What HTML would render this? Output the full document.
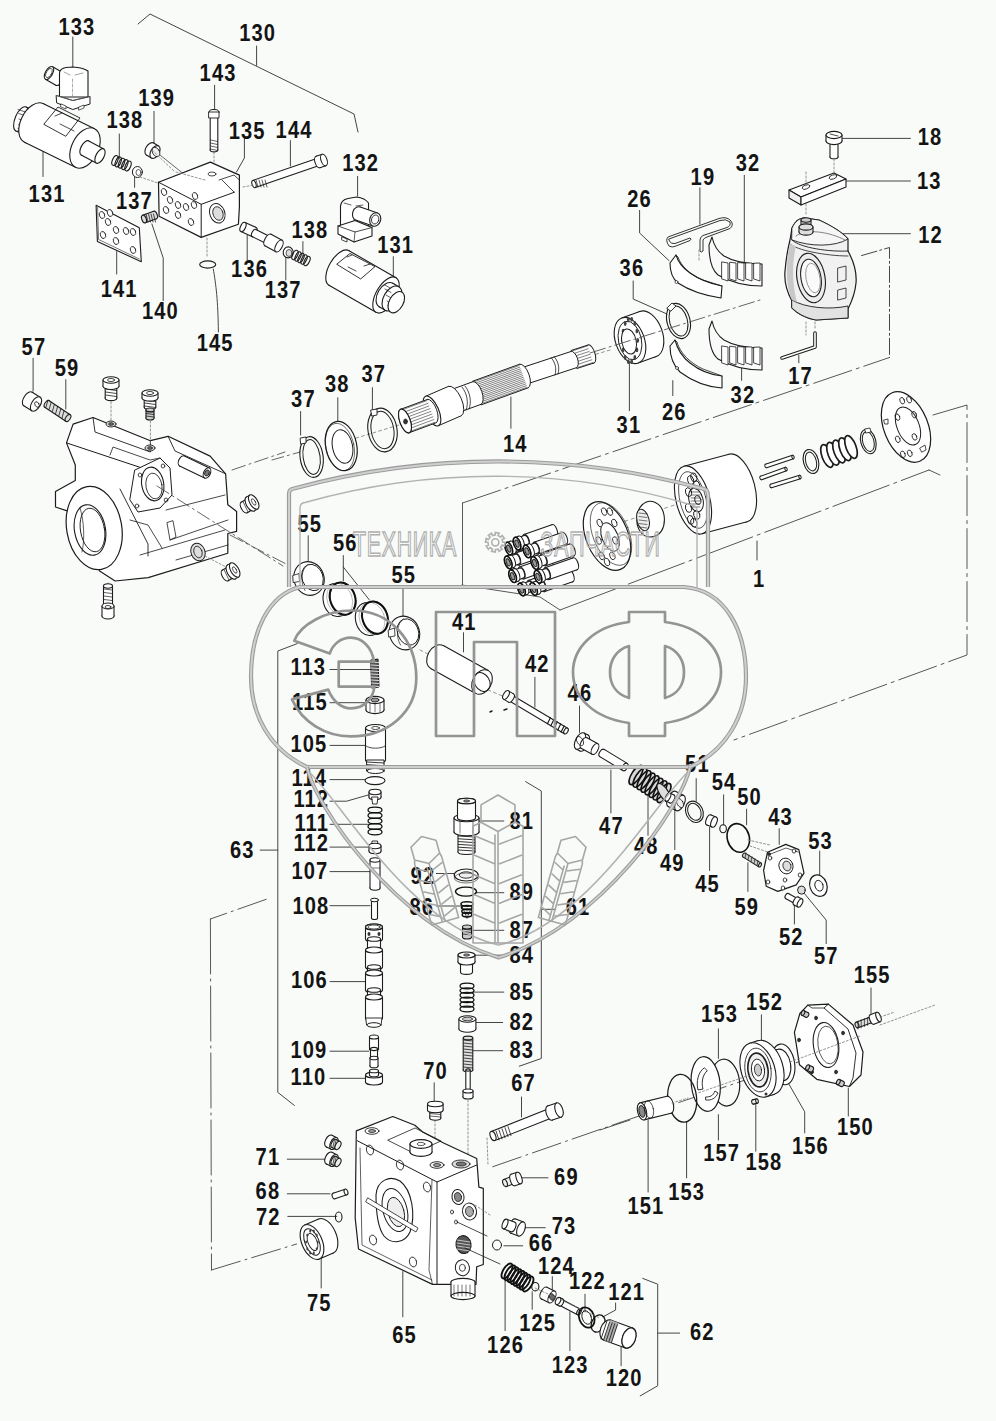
<!DOCTYPE html><html><head><meta charset="utf-8"><title>Parts diagram</title><style>html,body{margin:0;padding:0;background:#f9fbf9;}svg{display:block;}</style></head><body><svg width="996" height="1421" viewBox="0 0 996 1421"><rect width="996" height="1421" fill="#f9fbf9"/><g stroke-linecap="round"><polyline points="138,24 150,14 354,114 358,132" fill="none" stroke="#454545" stroke-width="1.0" stroke-linejoin="round"/><line x1="256.6" y1="46" x2="256.6" y2="65.5" stroke="#454545" stroke-width="1.0"/><line x1="72.8" y1="37" x2="72.8" y2="67" stroke="#454545" stroke-width="1.0"/><ellipse cx="59.5" cy="79" rx="3.6" ry="7.2" fill="#fff" stroke="#1c1c1c" stroke-width="1.1" transform="rotate(-150.3 59.5 79)"/><polygon points="63.1,72.7 52.6,66.7 45.4,79.3 55.9,85.3" fill="#fff" stroke="none" stroke-width="0" stroke-linejoin="round"/><line x1="63.1" y1="72.7" x2="52.6" y2="66.7" stroke="#1c1c1c" stroke-width="1.1"/><line x1="55.9" y1="85.3" x2="45.4" y2="79.3" stroke="#1c1c1c" stroke-width="1.1"/><ellipse cx="49" cy="73" rx="3.6" ry="7.2" fill="#fff" stroke="#1c1c1c" stroke-width="1.1" transform="rotate(-150.3 49 73)"/><ellipse cx="49" cy="73" rx="2.6" ry="5" fill="none" stroke="#1c1c1c" stroke-width="0.7" transform="rotate(28 49 73)"/><path d="M59.5,97 L59.5,73 Q60,68.5 66,67.5 L72.8,67 Q83,67.5 88,71 L88,97 Z" fill="#fff" stroke="#1c1c1c" stroke-width="1.1" stroke-linejoin="round" stroke-linecap="round"/><line x1="64" y1="72" x2="70" y2="75" stroke="#777" stroke-width="0.7"/><line x1="75" y1="75" x2="83" y2="73" stroke="#777" stroke-width="0.7"/><line x1="72.5" y1="79" x2="72.5" y2="96" stroke="#888" stroke-width="0.7" stroke-dasharray="3,2"/><polygon points="56.5,95.5 72.8,100.5 90,96.5 90,104 72.8,109.5 57,103" fill="#fff" stroke="#1c1c1c" stroke-width="1.0" stroke-linejoin="round"/><polyline points="56.5,95.5 72.8,100.5 90,96.5" fill="none" stroke="#666" stroke-width="0.7" stroke-linejoin="round"/><polygon points="61,104 66,106 66,109 61,107" fill="#fff" stroke="#1c1c1c" stroke-width="0.7" stroke-linejoin="round"/><polygon points="79,107 84,105 84,108 79,110" fill="#fff" stroke="#1c1c1c" stroke-width="0.7" stroke-linejoin="round"/><line x1="43" y1="148.5" x2="43" y2="176.5" stroke="#454545" stroke-width="1.0"/><ellipse cx="33" cy="124" rx="5.9" ry="13" fill="#fff" stroke="#1c1c1c" stroke-width="1.1" transform="rotate(22.6 33 124)"/><polygon points="16,131 28,136 38,112 26,107" fill="#fff" stroke="none" stroke-width="0" stroke-linejoin="round"/><line x1="16" y1="131" x2="28" y2="136" stroke="#1c1c1c" stroke-width="1.1"/><line x1="26" y1="107" x2="38" y2="112" stroke="#1c1c1c" stroke-width="1.1"/><ellipse cx="21" cy="119" rx="5.9" ry="13" fill="#fff" stroke="#1c1c1c" stroke-width="1.1" transform="rotate(22.6 21 119)"/><line x1="18" y1="109.5" x2="27" y2="112.5" stroke="#1c1c1c" stroke-width="0.7"/><line x1="18.7" y1="113.5" x2="27.7" y2="116.5" stroke="#1c1c1c" stroke-width="0.7"/><line x1="19" y1="119" x2="28" y2="122" stroke="#1c1c1c" stroke-width="0.7"/><line x1="18.7" y1="124.5" x2="27.7" y2="127.5" stroke="#1c1c1c" stroke-width="0.7"/><line x1="18" y1="128.5" x2="27" y2="131.5" stroke="#1c1c1c" stroke-width="0.7"/><ellipse cx="34" cy="123" rx="13.3" ry="21.5" fill="#fff" stroke="#1c1c1c" stroke-width="1.1" transform="rotate(26.1 34 123)"/><polygon points="24.5,142.3 75.5,167.3 94.5,128.7 43.5,103.7" fill="#fff" stroke="none" stroke-width="0" stroke-linejoin="round"/><line x1="24.5" y1="142.3" x2="75.5" y2="167.3" stroke="#1c1c1c" stroke-width="1.1"/><line x1="43.5" y1="103.7" x2="94.5" y2="128.7" stroke="#1c1c1c" stroke-width="1.1"/><ellipse cx="85" cy="148" rx="13.3" ry="21.5" fill="#fff" stroke="#1c1c1c" stroke-width="1.1" transform="rotate(26.1 85 148)"/><polygon points="44,124 58,107 80,118 66,136" fill="none" stroke="#1c1c1c" stroke-width="0.9" stroke-linejoin="round"/><line x1="55" y1="116" x2="62" y2="113" stroke="#1c1c1c" stroke-width="0.8"/><line x1="60" y1="124" x2="74" y2="131" stroke="#1c1c1c" stroke-width="0.8"/><ellipse cx="85" cy="148" rx="4" ry="8" fill="#fff" stroke="#1c1c1c" stroke-width="1.1" transform="rotate(28.1 85 148)"/><polygon points="81.2,155.1 96.2,163.1 103.8,148.9 88.8,140.9" fill="#fff" stroke="none" stroke-width="0" stroke-linejoin="round"/><line x1="81.2" y1="155.1" x2="96.2" y2="163.1" stroke="#1c1c1c" stroke-width="1.1"/><line x1="88.8" y1="140.9" x2="103.8" y2="148.9" stroke="#1c1c1c" stroke-width="1.1"/><ellipse cx="100" cy="156" rx="4" ry="8" fill="#fff" stroke="#1c1c1c" stroke-width="1.1" transform="rotate(28.1 100 156)"/><line x1="119.3" y1="134" x2="119.3" y2="159" stroke="#454545" stroke-width="1.0"/><ellipse cx="115" cy="160.5" rx="2.6" ry="5.2" fill="none" stroke="#1c1c1c" stroke-width="1.1" transform="rotate(22.9 115 160.5)"/><ellipse cx="118.2" cy="161.9" rx="2.6" ry="5.2" fill="none" stroke="#1c1c1c" stroke-width="1.1" transform="rotate(22.9 118.2 161.9)"/><ellipse cx="121.5" cy="163.2" rx="2.6" ry="5.2" fill="none" stroke="#1c1c1c" stroke-width="1.1" transform="rotate(22.9 121.5 163.2)"/><ellipse cx="124.8" cy="164.6" rx="2.6" ry="5.2" fill="none" stroke="#1c1c1c" stroke-width="1.1" transform="rotate(22.9 124.8 164.6)"/><ellipse cx="128" cy="166" rx="2.6" ry="5.2" fill="none" stroke="#1c1c1c" stroke-width="1.1" transform="rotate(22.9 128 166)"/><line x1="154" y1="111.4" x2="154" y2="144" stroke="#454545" stroke-width="1.0"/><ellipse cx="150" cy="149" rx="4.2" ry="7" fill="#fff" stroke="#1c1c1c" stroke-width="1.1" transform="rotate(31 150 149)"/><polygon points="146.4,155 151.4,158 158.6,146 153.6,143" fill="#fff" stroke="none" stroke-width="0" stroke-linejoin="round"/><line x1="146.4" y1="155" x2="151.4" y2="158" stroke="#1c1c1c" stroke-width="1.1"/><line x1="153.6" y1="143" x2="158.6" y2="146" stroke="#1c1c1c" stroke-width="1.1"/><ellipse cx="155" cy="152" rx="4.2" ry="7" fill="#fff" stroke="#1c1c1c" stroke-width="1.1" transform="rotate(31 155 152)"/><ellipse cx="156" cy="152" rx="3.5" ry="5" fill="#eee" stroke="#1c1c1c" stroke-width="0.8" transform="rotate(-30 156 152)"/><line x1="134.6" y1="176.5" x2="134.6" y2="187.4" stroke="#454545" stroke-width="1.0"/><ellipse cx="137.4" cy="172" rx="5" ry="5.5" fill="#fff" stroke="#1c1c1c" stroke-width="1"/><ellipse cx="138.5" cy="172.5" rx="2.5" ry="3" fill="none" stroke="#1c1c1c" stroke-width="0.7"/><line x1="214.6" y1="85.3" x2="214.6" y2="109" stroke="#454545" stroke-width="1.0"/><ellipse cx="214" cy="150" rx="1.9" ry="3.8" fill="#fff" stroke="#1c1c1c" stroke-width="1.1" transform="rotate(90 214 150)"/><polygon points="210.2,112 210.2,150 217.8,150 217.8,112" fill="#fff" stroke="none" stroke-width="0" stroke-linejoin="round"/><line x1="210.2" y1="112" x2="210.2" y2="150" stroke="#1c1c1c" stroke-width="1.1"/><line x1="217.8" y1="112" x2="217.8" y2="150" stroke="#1c1c1c" stroke-width="1.1"/><ellipse cx="214" cy="112" rx="1.9" ry="3.8" fill="#fff" stroke="#1c1c1c" stroke-width="1.1" transform="rotate(90 214 112)"/><ellipse cx="214" cy="112" rx="5" ry="2.5" fill="#fff" stroke="#1c1c1c" stroke-width="1"/><polygon points="209,112 219,112 219,118 209,118" fill="#fff" stroke="#1c1c1c" stroke-width="0.9" stroke-linejoin="round"/><line x1="210.5" y1="140" x2="217.5" y2="141.5" stroke="#1c1c1c" stroke-width="0.7"/><line x1="210.5" y1="143" x2="217.5" y2="144.5" stroke="#1c1c1c" stroke-width="0.7"/><line x1="210.5" y1="146" x2="217.5" y2="147.5" stroke="#1c1c1c" stroke-width="0.7"/><line x1="210.5" y1="149" x2="217.5" y2="150.5" stroke="#1c1c1c" stroke-width="0.7"/><line x1="214" y1="152" x2="214" y2="170" stroke="#777" stroke-width="0.8" stroke-dasharray="2,2"/><line x1="160" y1="155" x2="185" y2="175" stroke="#555" stroke-width="0.9"/><line x1="140" y1="177" x2="158" y2="183" stroke="#777" stroke-width="0.8" stroke-dasharray="2,2"/><polyline points="244.4,138 244.4,158 236.4,172.1" fill="none" stroke="#454545" stroke-width="1" stroke-linejoin="round"/><polygon points="158.5,182.2 210.3,162.1 239.4,175.1 239.4,207 238.4,224.3 201.2,237.4 159.1,216.3" fill="#fff" stroke="#1c1c1c" stroke-width="1.2" stroke-linejoin="round"/><polyline points="158.5,182.2 201.2,204.3 234.4,192.2" fill="none" stroke="#1c1c1c" stroke-width="1.0" stroke-linejoin="round"/><line x1="201.2" y1="204.3" x2="201.2" y2="237.4" stroke="#1c1c1c" stroke-width="1.0"/><polyline points="219,180 234,175 239.4,180" fill="none" stroke="#1c1c1c" stroke-width="0.8" stroke-linejoin="round"/><line x1="222" y1="180" x2="234" y2="192" stroke="#1c1c1c" stroke-width="0.8"/><ellipse cx="212" cy="174" rx="4" ry="2" fill="none" stroke="#1c1c1c" stroke-width="0.8"/><ellipse cx="217.3" cy="213.3" rx="7.5" ry="10" fill="#fff" stroke="#1c1c1c" stroke-width="1.0" transform="rotate(-20 217.3 213.3)"/><ellipse cx="218" cy="213.5" rx="5" ry="7" fill="#ddd" stroke="#1c1c1c" stroke-width="0.8" transform="rotate(-20 218 213.5)"/><ellipse cx="164" cy="192" rx="2.6" ry="3.6" fill="#fff" stroke="#1c1c1c" stroke-width="0.8" transform="rotate(-20 164 192)"/><ellipse cx="170" cy="200" rx="2.6" ry="3.6" fill="#fff" stroke="#1c1c1c" stroke-width="0.8" transform="rotate(-20 170 200)"/><ellipse cx="178" cy="205" rx="2.6" ry="3.6" fill="#fff" stroke="#1c1c1c" stroke-width="0.8" transform="rotate(-20 178 205)"/><ellipse cx="186" cy="207" rx="2.6" ry="3.6" fill="#fff" stroke="#1c1c1c" stroke-width="0.8" transform="rotate(-20 186 207)"/><ellipse cx="194" cy="205" rx="2.6" ry="3.6" fill="#fff" stroke="#1c1c1c" stroke-width="0.8" transform="rotate(-20 194 205)"/><ellipse cx="166" cy="210" rx="2.6" ry="3.6" fill="#fff" stroke="#1c1c1c" stroke-width="0.8" transform="rotate(-20 166 210)"/><ellipse cx="178" cy="215" rx="2.6" ry="3.6" fill="#fff" stroke="#1c1c1c" stroke-width="0.8" transform="rotate(-20 178 215)"/><ellipse cx="191" cy="222" rx="2.6" ry="3.6" fill="#fff" stroke="#1c1c1c" stroke-width="0.8" transform="rotate(-20 191 222)"/><ellipse cx="195" cy="196" rx="2.6" ry="3.6" fill="#fff" stroke="#1c1c1c" stroke-width="0.8" transform="rotate(-20 195 196)"/><line x1="290.4" y1="140.6" x2="290.4" y2="166" stroke="#454545" stroke-width="1.0"/><ellipse cx="318" cy="162" rx="1.9" ry="3.8" fill="#fff" stroke="#1c1c1c" stroke-width="1.1" transform="rotate(-19 318 162)"/><polygon points="255.2,187.6 319.2,165.6 316.8,158.4 252.8,180.4" fill="#fff" stroke="none" stroke-width="0" stroke-linejoin="round"/><line x1="255.2" y1="187.6" x2="319.2" y2="165.6" stroke="#1c1c1c" stroke-width="1.1"/><line x1="252.8" y1="180.4" x2="316.8" y2="158.4" stroke="#1c1c1c" stroke-width="1.1"/><ellipse cx="254" cy="184" rx="1.9" ry="3.8" fill="#fff" stroke="#1c1c1c" stroke-width="1.1" transform="rotate(-19 254 184)"/><ellipse cx="318" cy="162" rx="3" ry="6" fill="#fff" stroke="#1c1c1c" stroke-width="1.1" transform="rotate(-18.4 318 162)"/><polygon points="319.9,167.7 325.9,165.7 322.1,154.3 316.1,156.3" fill="#fff" stroke="none" stroke-width="0" stroke-linejoin="round"/><line x1="319.9" y1="167.7" x2="325.9" y2="165.7" stroke="#1c1c1c" stroke-width="1.1"/><line x1="316.1" y1="156.3" x2="322.1" y2="154.3" stroke="#1c1c1c" stroke-width="1.1"/><ellipse cx="324" cy="160" rx="3" ry="6" fill="#fff" stroke="#1c1c1c" stroke-width="1.1" transform="rotate(-18.4 324 160)"/><line x1="256" y1="180" x2="258" y2="187" stroke="#1c1c1c" stroke-width="0.7"/><line x1="259" y1="180" x2="261" y2="187" stroke="#1c1c1c" stroke-width="0.7"/><line x1="262" y1="180" x2="264" y2="187" stroke="#1c1c1c" stroke-width="0.7"/><line x1="265" y1="180" x2="267" y2="187" stroke="#1c1c1c" stroke-width="0.7"/><line x1="243" y1="187" x2="254" y2="185" stroke="#777" stroke-width="0.8" stroke-dasharray="2,2"/><line x1="247.2" y1="235.3" x2="247.2" y2="260" stroke="#454545" stroke-width="1.0"/><ellipse cx="254" cy="232" rx="2.5" ry="5" fill="#fff" stroke="#1c1c1c" stroke-width="1.1" transform="rotate(24.4 254 232)"/><polygon points="240.9,231.6 251.9,236.6 256.1,227.4 245.1,222.4" fill="#fff" stroke="none" stroke-width="0" stroke-linejoin="round"/><line x1="240.9" y1="231.6" x2="251.9" y2="236.6" stroke="#1c1c1c" stroke-width="1.1"/><line x1="245.1" y1="222.4" x2="256.1" y2="227.4" stroke="#1c1c1c" stroke-width="1.1"/><ellipse cx="243" cy="227" rx="2.5" ry="5" fill="#fff" stroke="#1c1c1c" stroke-width="1.1" transform="rotate(24.4 243 227)"/><ellipse cx="254" cy="233" rx="2" ry="4" fill="#fff" stroke="#1c1c1c" stroke-width="1.1" transform="rotate(26.6 254 233)"/><polygon points="252.2,236.6 266.2,243.6 269.8,236.4 255.8,229.4" fill="#fff" stroke="none" stroke-width="0" stroke-linejoin="round"/><line x1="252.2" y1="236.6" x2="266.2" y2="243.6" stroke="#1c1c1c" stroke-width="1.1"/><line x1="255.8" y1="229.4" x2="269.8" y2="236.4" stroke="#1c1c1c" stroke-width="1.1"/><ellipse cx="268" cy="240" rx="2" ry="4" fill="#fff" stroke="#1c1c1c" stroke-width="1.1" transform="rotate(26.6 268 240)"/><ellipse cx="268" cy="240" rx="3.2" ry="6.5" fill="#fff" stroke="#1c1c1c" stroke-width="1.1" transform="rotate(28.6 268 240)"/><polygon points="264.9,245.7 275.9,251.7 282.1,240.3 271.1,234.3" fill="#fff" stroke="none" stroke-width="0" stroke-linejoin="round"/><line x1="264.9" y1="245.7" x2="275.9" y2="251.7" stroke="#1c1c1c" stroke-width="1.1"/><line x1="271.1" y1="234.3" x2="282.1" y2="240.3" stroke="#1c1c1c" stroke-width="1.1"/><ellipse cx="279" cy="246" rx="3.2" ry="6.5" fill="#fff" stroke="#1c1c1c" stroke-width="1.1" transform="rotate(28.6 279 246)"/><line x1="285.8" y1="251.7" x2="285.8" y2="280" stroke="#454545" stroke-width="1.0"/><ellipse cx="288.2" cy="252.4" rx="5" ry="5.5" fill="#fff" stroke="#1c1c1c" stroke-width="1.1"/><ellipse cx="289" cy="253" rx="3" ry="3.5" fill="#ddd" stroke="#1c1c1c" stroke-width="0.7"/><line x1="302.9" y1="241.6" x2="302.9" y2="256" stroke="#454545" stroke-width="1.0"/><ellipse cx="295" cy="255" rx="2.5" ry="5" fill="none" stroke="#1c1c1c" stroke-width="1.1" transform="rotate(26.6 295 255)"/><ellipse cx="298" cy="256.5" rx="2.5" ry="5" fill="none" stroke="#1c1c1c" stroke-width="1.1" transform="rotate(26.6 298 256.5)"/><ellipse cx="301" cy="258" rx="2.5" ry="5" fill="none" stroke="#1c1c1c" stroke-width="1.1" transform="rotate(26.6 301 258)"/><ellipse cx="304" cy="259.5" rx="2.5" ry="5" fill="none" stroke="#1c1c1c" stroke-width="1.1" transform="rotate(26.6 304 259.5)"/><ellipse cx="307" cy="261" rx="2.5" ry="5" fill="none" stroke="#1c1c1c" stroke-width="1.1" transform="rotate(26.6 307 261)"/><ellipse cx="207.7" cy="264.5" rx="8" ry="3.6" fill="none" stroke="#1c1c1c" stroke-width="1.1"/><path d="M213.3,269 C216,285 218,300 218.4,332" fill="none" stroke="#454545" stroke-width="1" stroke-linejoin="round" stroke-linecap="round"/><line x1="207" y1="238" x2="207" y2="258" stroke="#777" stroke-width="0.8" stroke-dasharray="2,2"/><line x1="357.6" y1="176.4" x2="357.6" y2="196" stroke="#454545" stroke-width="1.0"/><path d="M340.5,226 L340.5,206 Q341,200 348,198.5 L356.5,197 Q365,198 368.5,203 L368.5,226 Z" fill="#fff" stroke="#1c1c1c" stroke-width="1.1" stroke-linejoin="round" stroke-linecap="round"/><line x1="344" y1="203" x2="351" y2="205" stroke="#1c1c1c" stroke-width="0.7"/><line x1="356" y1="206" x2="363" y2="205" stroke="#1c1c1c" stroke-width="0.7"/><line x1="354" y1="209" x2="354" y2="228" stroke="#1c1c1c" stroke-width="0.7"/><polygon points="338,226 355,220.5 372,227.5 372,236 354,242 338,234" fill="#fff" stroke="#1c1c1c" stroke-width="1.1" stroke-linejoin="round"/><polyline points="338,226 355,232 372,227.5" fill="none" stroke="#1c1c1c" stroke-width="0.8" stroke-linejoin="round"/><line x1="355" y1="232" x2="354" y2="242" stroke="#1c1c1c" stroke-width="0.7"/><polygon points="342,237 347,239 347,242 342,240" fill="#fff" stroke="#1c1c1c" stroke-width="0.8" stroke-linejoin="round"/><ellipse cx="358" cy="213.5" rx="5.4" ry="6.9" fill="#fff" stroke="#1c1c1c" stroke-width="1.1" transform="rotate(19.2 358 213.5)"/><polygon points="355.7,220 372.9,226 377.5,213 360.3,207" fill="#fff" stroke="none" stroke-width="0" stroke-linejoin="round"/><line x1="355.7" y1="220" x2="372.9" y2="226" stroke="#1c1c1c" stroke-width="1.1"/><line x1="360.3" y1="207" x2="377.5" y2="213" stroke="#1c1c1c" stroke-width="1.1"/><ellipse cx="375.2" cy="219.5" rx="5.4" ry="6.9" fill="#fff" stroke="#1c1c1c" stroke-width="1.1" transform="rotate(19.2 375.2 219.5)"/><ellipse cx="375.2" cy="219.5" rx="3.6" ry="4.6" fill="none" stroke="#1c1c1c" stroke-width="0.8" transform="rotate(19 375.2 219.5)"/><line x1="393.3" y1="256.7" x2="393.3" y2="276" stroke="#454545" stroke-width="1.0"/><ellipse cx="339" cy="268" rx="10" ry="20" fill="#fff" stroke="#1c1c1c" stroke-width="1.1" transform="rotate(29.9 339 268)"/><polygon points="329,285.3 376,312.3 396,277.7 349,250.7" fill="#fff" stroke="none" stroke-width="0" stroke-linejoin="round"/><line x1="329" y1="285.3" x2="376" y2="312.3" stroke="#1c1c1c" stroke-width="1.1"/><line x1="349" y1="250.7" x2="396" y2="277.7" stroke="#1c1c1c" stroke-width="1.1"/><ellipse cx="386" cy="295" rx="10" ry="20" fill="#fff" stroke="#1c1c1c" stroke-width="1.1" transform="rotate(29.9 386 295)"/><polygon points="337,264 350,253.5 375,266.6 361,278.7" fill="none" stroke="#1c1c1c" stroke-width="0.9" stroke-linejoin="round"/><line x1="347" y1="257" x2="352" y2="255" stroke="#1c1c1c" stroke-width="0.8"/><line x1="348" y1="267" x2="356" y2="271" stroke="#1c1c1c" stroke-width="0.8"/><line x1="364" y1="266" x2="370" y2="264" stroke="#1c1c1c" stroke-width="0.8"/><ellipse cx="386" cy="295" rx="8.4" ry="13.5" fill="#fff" stroke="#1c1c1c" stroke-width="1.1" transform="rotate(30.3 386 295)"/><polygon points="379.2,306.7 385.2,310.2 398.8,286.8 392.8,283.3" fill="#fff" stroke="none" stroke-width="0" stroke-linejoin="round"/><line x1="379.2" y1="306.7" x2="385.2" y2="310.2" stroke="#1c1c1c" stroke-width="1.1"/><line x1="392.8" y1="283.3" x2="398.8" y2="286.8" stroke="#1c1c1c" stroke-width="1.1"/><ellipse cx="392" cy="298.5" rx="8.4" ry="13.5" fill="#fff" stroke="#1c1c1c" stroke-width="1.1" transform="rotate(30.3 392 298.5)"/><line x1="384.3" y1="284.6" x2="390.3" y2="288.1" stroke="#1c1c1c" stroke-width="0.7"/><line x1="385" y1="289" x2="391" y2="292.5" stroke="#1c1c1c" stroke-width="0.7"/><line x1="386" y1="295" x2="392" y2="298.5" stroke="#1c1c1c" stroke-width="0.7"/><line x1="387" y1="301" x2="393" y2="304.5" stroke="#1c1c1c" stroke-width="0.7"/><line x1="387.7" y1="305.4" x2="393.7" y2="308.9" stroke="#1c1c1c" stroke-width="0.7"/><ellipse cx="396.3" cy="302.2" rx="7" ry="11.5" fill="#fff" stroke="#1c1c1c" stroke-width="1.1" transform="rotate(29 396.3 302.2)"/><line x1="116.7" y1="251.6" x2="116.7" y2="274" stroke="#454545" stroke-width="1.0"/><polygon points="96.1,205.2 139.3,227.8 141.3,261.7 97.4,241.6" fill="#fff" stroke="#1c1c1c" stroke-width="1.1" stroke-linejoin="round"/><polyline points="97.6,207.5 98.6,239.5 139.3,259" fill="none" stroke="#1c1c1c" stroke-width="0.6" stroke-linejoin="round"/><ellipse cx="102" cy="215" rx="2.6" ry="3.6" fill="#fff" stroke="#1c1c1c" stroke-width="0.8" transform="rotate(-20 102 215)"/><ellipse cx="108" cy="222" rx="2.6" ry="3.6" fill="#fff" stroke="#1c1c1c" stroke-width="0.8" transform="rotate(-20 108 222)"/><ellipse cx="116" cy="230" rx="2.6" ry="3.6" fill="#fff" stroke="#1c1c1c" stroke-width="0.8" transform="rotate(-20 116 230)"/><ellipse cx="126" cy="231" rx="2.6" ry="3.6" fill="#fff" stroke="#1c1c1c" stroke-width="0.8" transform="rotate(-20 126 231)"/><ellipse cx="133" cy="232" rx="2.6" ry="3.6" fill="#fff" stroke="#1c1c1c" stroke-width="0.8" transform="rotate(-20 133 232)"/><ellipse cx="103" cy="235" rx="2.6" ry="3.6" fill="#fff" stroke="#1c1c1c" stroke-width="0.8" transform="rotate(-20 103 235)"/><ellipse cx="116" cy="241" rx="2.6" ry="3.6" fill="#fff" stroke="#1c1c1c" stroke-width="0.8" transform="rotate(-20 116 241)"/><ellipse cx="133" cy="250" rx="2.6" ry="3.6" fill="#fff" stroke="#1c1c1c" stroke-width="0.8" transform="rotate(-20 133 250)"/><ellipse cx="110" cy="213" rx="2.6" ry="3.6" fill="#fff" stroke="#1c1c1c" stroke-width="0.8" transform="rotate(-20 110 213)"/><polyline points="151.9,224 163.2,257.9 163.2,300.6" fill="none" stroke="#454545" stroke-width="1" stroke-linejoin="round"/><ellipse cx="155" cy="215" rx="2.2" ry="4" fill="#ddd" stroke="#1c1c1c" stroke-width="1.1" transform="rotate(-20 155 215)"/><polygon points="145.4,222.8 156.4,218.8 153.6,211.2 142.6,215.2" fill="#ddd" stroke="none" stroke-width="0" stroke-linejoin="round"/><line x1="145.4" y1="222.8" x2="156.4" y2="218.8" stroke="#1c1c1c" stroke-width="1.1"/><line x1="142.6" y1="215.2" x2="153.6" y2="211.2" stroke="#1c1c1c" stroke-width="1.1"/><ellipse cx="144" cy="219" rx="2.2" ry="4" fill="#ddd" stroke="#1c1c1c" stroke-width="1.1" transform="rotate(-20 144 219)"/><line x1="146" y1="214" x2="148" y2="222" stroke="#1c1c1c" stroke-width="0.8"/><line x1="148.5" y1="214" x2="150.5" y2="222" stroke="#1c1c1c" stroke-width="0.8"/><line x1="151" y1="214" x2="153" y2="222" stroke="#1c1c1c" stroke-width="0.8"/><line x1="153.5" y1="214" x2="155.5" y2="222" stroke="#1c1c1c" stroke-width="0.8"/><line x1="152" y1="150" x2="175" y2="172" stroke="#777" stroke-width="0.8" stroke-dasharray="2,2"/><line x1="176" y1="172" x2="205" y2="180" stroke="#777" stroke-width="0.8" stroke-dasharray="2,2"/><line x1="33.1" y1="358.3" x2="33.1" y2="391" stroke="#454545" stroke-width="1.0"/><line x1="65.8" y1="379.6" x2="65.8" y2="409" stroke="#454545" stroke-width="1.0"/><ellipse cx="28" cy="399" rx="4.4" ry="8" fill="#fff" stroke="#1c1c1c" stroke-width="1.1" transform="rotate(32 28 399)"/><polygon points="23.8,405.8 31.8,410.8 40.2,397.2 32.2,392.2" fill="#fff" stroke="none" stroke-width="0" stroke-linejoin="round"/><line x1="23.8" y1="405.8" x2="31.8" y2="410.8" stroke="#1c1c1c" stroke-width="1.1"/><line x1="32.2" y1="392.2" x2="40.2" y2="397.2" stroke="#1c1c1c" stroke-width="1.1"/><ellipse cx="36" cy="404" rx="4.4" ry="8" fill="#fff" stroke="#1c1c1c" stroke-width="1.1" transform="rotate(32 36 404)"/><ellipse cx="37" cy="404.5" rx="2" ry="3" fill="none" stroke="#1c1c1c" stroke-width="0.8" transform="rotate(-30 37 404.5)"/><ellipse cx="47" cy="404" rx="2.2" ry="4" fill="#ddd" stroke="#1c1c1c" stroke-width="1.1" transform="rotate(33.7 47 404)"/><polygon points="44.8,407.3 65.8,421.3 70.2,414.7 49.2,400.7" fill="#ddd" stroke="none" stroke-width="0" stroke-linejoin="round"/><line x1="44.8" y1="407.3" x2="65.8" y2="421.3" stroke="#1c1c1c" stroke-width="1.1"/><line x1="49.2" y1="400.7" x2="70.2" y2="414.7" stroke="#1c1c1c" stroke-width="1.1"/><ellipse cx="68" cy="418" rx="2.2" ry="4" fill="#ddd" stroke="#1c1c1c" stroke-width="1.1" transform="rotate(33.7 68 418)"/><line x1="48" y1="400" x2="46" y2="407" stroke="#1c1c1c" stroke-width="0.8"/><line x1="51.2" y1="402.2" x2="49.2" y2="409.2" stroke="#1c1c1c" stroke-width="0.8"/><line x1="54.4" y1="404.4" x2="52.4" y2="411.4" stroke="#1c1c1c" stroke-width="0.8"/><line x1="57.6" y1="406.6" x2="55.6" y2="413.6" stroke="#1c1c1c" stroke-width="0.8"/><line x1="60.8" y1="408.8" x2="58.8" y2="415.8" stroke="#1c1c1c" stroke-width="0.8"/><line x1="64" y1="411" x2="62" y2="418" stroke="#1c1c1c" stroke-width="0.8"/><polygon points="73.1,424.1 93,417.5 150.4,440.7 168.1,436.3 210.1,456.1 225.6,473.8 227.8,504.7 236.6,511.4 236.6,531.3 227.8,533.5 227.8,553.3 148.2,577.6 115.1,581 99.6,571 68.7,511.4 55.5,507 55.5,491.5 75.3,480.4 75.3,465 66.5,442.9" fill="#fff" stroke="#1c1c1c" stroke-width="1.2" stroke-linejoin="round"/><polyline points="66.5,442.9 148,470 162,466" fill="none" stroke="#1c1c1c" stroke-width="1" stroke-linejoin="round"/><polyline points="120,489 148,544 148,556" fill="none" stroke="#1c1c1c" stroke-width="0.9" stroke-linejoin="round"/><polyline points="110,455 113,447 150,460 160,458" fill="none" stroke="#1c1c1c" stroke-width="0.8" stroke-linejoin="round"/><polyline points="93,417.5 95,432 150.4,452 150.4,440.7" fill="none" stroke="#1c1c1c" stroke-width="0.9" stroke-linejoin="round"/><polyline points="168.1,436.3 175,451 225.6,473.8" fill="none" stroke="#1c1c1c" stroke-width="0.9" stroke-linejoin="round"/><polyline points="130,520 148,525 162,548" fill="none" stroke="#1c1c1c" stroke-width="0.8" stroke-linejoin="round"/><polyline points="166,510 225,495" fill="none" stroke="#1c1c1c" stroke-width="0.8" stroke-linejoin="round"/><polyline points="140,555 225,530" fill="none" stroke="#1c1c1c" stroke-width="0.8" stroke-linejoin="round"/><line x1="170" y1="540" x2="228" y2="520" stroke="#1c1c1c" stroke-width="0.8"/><line x1="176" y1="560" x2="228" y2="545" stroke="#1c1c1c" stroke-width="0.8"/><polygon points="167,523 170,540 176,537 173,521" fill="none" stroke="#1c1c1c" stroke-width="0.8" stroke-linejoin="round"/><ellipse cx="94.2" cy="528" rx="27.5" ry="42" fill="#fff" stroke="#1c1c1c" stroke-width="1.2" transform="rotate(-10 94.2 528)"/><ellipse cx="90" cy="530" rx="15.5" ry="25.5" fill="#fff" stroke="#1c1c1c" stroke-width="1.1" transform="rotate(-10 90 530)"/><ellipse cx="92.5" cy="530" rx="12" ry="22" fill="none" stroke="#1c1c1c" stroke-width="0.9" transform="rotate(-10 92.5 530)"/><path d="M80,508 C84,520 85,540 82,552" fill="none" stroke="#1c1c1c" stroke-width="0.7" stroke-linejoin="round" stroke-linecap="round"/><polygon points="135,470 160,458 170,468 172,495 160,508 138,512 130,500" fill="#fff" stroke="#1c1c1c" stroke-width="1.0" stroke-linejoin="round"/><ellipse cx="152.7" cy="484" rx="11" ry="17" fill="#fff" stroke="#1c1c1c" stroke-width="1.1" transform="rotate(-10 152.7 484)"/><ellipse cx="154" cy="486" rx="8" ry="13" fill="none" stroke="#1c1c1c" stroke-width="0.8" transform="rotate(-10 154 486)"/><ellipse cx="140" cy="475" rx="1.8" ry="2" fill="none" stroke="#1c1c1c" stroke-width="0.8"/><ellipse cx="163" cy="466" rx="1.8" ry="2" fill="none" stroke="#1c1c1c" stroke-width="0.8"/><ellipse cx="137" cy="506" rx="1.8" ry="2" fill="none" stroke="#1c1c1c" stroke-width="0.8"/><ellipse cx="166" cy="500" rx="1.8" ry="2" fill="none" stroke="#1c1c1c" stroke-width="0.8"/><ellipse cx="182" cy="461" rx="3.3" ry="5.5" fill="#fff" stroke="#1c1c1c" stroke-width="1.1" transform="rotate(25.6 182 461)"/><polygon points="179.6,466 204.6,478 209.4,468 184.4,456" fill="#fff" stroke="none" stroke-width="0" stroke-linejoin="round"/><line x1="179.6" y1="466" x2="204.6" y2="478" stroke="#1c1c1c" stroke-width="1.1"/><line x1="184.4" y1="456" x2="209.4" y2="468" stroke="#1c1c1c" stroke-width="1.1"/><ellipse cx="207" cy="473" rx="3.3" ry="5.5" fill="#fff" stroke="#1c1c1c" stroke-width="1.1" transform="rotate(25.6 207 473)"/><ellipse cx="207" cy="473" rx="2.2" ry="3.2" fill="#777" stroke="#1c1c1c" stroke-width="0.8" transform="rotate(26 207 473)"/><line x1="111" y1="398" x2="111" y2="420" stroke="#777" stroke-width="0.8" stroke-dasharray="2,2"/><line x1="150.4" y1="417" x2="150.4" y2="448" stroke="#777" stroke-width="0.8" stroke-dasharray="2,2"/><ellipse cx="111" cy="398" rx="2.6" ry="5.8" fill="#fff" stroke="#1c1c1c" stroke-width="1.1" transform="rotate(90 111 398)"/><polygon points="105.2,386.3 105.2,398 116.8,398 116.8,386.3" fill="#fff" stroke="none" stroke-width="0" stroke-linejoin="round"/><line x1="105.2" y1="386.3" x2="105.2" y2="398" stroke="#1c1c1c" stroke-width="1.1"/><line x1="116.8" y1="386.3" x2="116.8" y2="398" stroke="#1c1c1c" stroke-width="1.1"/><ellipse cx="111" cy="386.3" rx="2.6" ry="5.8" fill="#fff" stroke="#1c1c1c" stroke-width="1.1" transform="rotate(90 111 386.3)"/><line x1="105.6" y1="389" x2="116.4" y2="390.5" stroke="#1c1c1c" stroke-width="0.8"/><line x1="105.6" y1="392" x2="116.4" y2="393.5" stroke="#1c1c1c" stroke-width="0.8"/><line x1="105.6" y1="395" x2="116.4" y2="396.5" stroke="#1c1c1c" stroke-width="0.8"/><ellipse cx="111" cy="386.3" rx="3.2" ry="8" fill="#fff" stroke="#1c1c1c" stroke-width="1.1" transform="rotate(90 111 386.3)"/><polygon points="103,380 103,386.3 119,386.3 119,380" fill="#fff" stroke="none" stroke-width="0" stroke-linejoin="round"/><line x1="103" y1="380" x2="103" y2="386.3" stroke="#1c1c1c" stroke-width="1.1"/><line x1="119" y1="380" x2="119" y2="386.3" stroke="#1c1c1c" stroke-width="1.1"/><ellipse cx="111" cy="380" rx="3.2" ry="8" fill="#fff" stroke="#1c1c1c" stroke-width="1.1" transform="rotate(90 111 380)"/><ellipse cx="111" cy="380" rx="3.5" ry="1.6" fill="none" stroke="#1c1c1c" stroke-width="0.8"/><ellipse cx="150" cy="407" rx="2.6" ry="5.8" fill="#fff" stroke="#1c1c1c" stroke-width="1.1" transform="rotate(90 150 407)"/><polygon points="144.2,397.9 144.2,407 155.8,407 155.8,397.9" fill="#fff" stroke="none" stroke-width="0" stroke-linejoin="round"/><line x1="144.2" y1="397.9" x2="144.2" y2="407" stroke="#1c1c1c" stroke-width="1.1"/><line x1="155.8" y1="397.9" x2="155.8" y2="407" stroke="#1c1c1c" stroke-width="1.1"/><ellipse cx="150" cy="397.9" rx="2.6" ry="5.8" fill="#fff" stroke="#1c1c1c" stroke-width="1.1" transform="rotate(90 150 397.9)"/><line x1="144.6" y1="400" x2="155.4" y2="401.5" stroke="#1c1c1c" stroke-width="0.8"/><line x1="144.6" y1="403" x2="155.4" y2="404.5" stroke="#1c1c1c" stroke-width="0.8"/><line x1="144.6" y1="406" x2="155.4" y2="407.5" stroke="#1c1c1c" stroke-width="0.8"/><ellipse cx="150" cy="397.9" rx="3.2" ry="8" fill="#fff" stroke="#1c1c1c" stroke-width="1.1" transform="rotate(90 150 397.9)"/><polygon points="142,393 142,397.9 158,397.9 158,393" fill="#fff" stroke="none" stroke-width="0" stroke-linejoin="round"/><line x1="142" y1="393" x2="142" y2="397.9" stroke="#1c1c1c" stroke-width="1.1"/><line x1="158" y1="393" x2="158" y2="397.9" stroke="#1c1c1c" stroke-width="1.1"/><ellipse cx="150" cy="393" rx="3.2" ry="8" fill="#fff" stroke="#1c1c1c" stroke-width="1.1" transform="rotate(90 150 393)"/><ellipse cx="150" cy="393" rx="3.5" ry="1.6" fill="none" stroke="#1c1c1c" stroke-width="0.8"/><ellipse cx="150" cy="418" rx="2" ry="4" fill="#ccc" stroke="#1c1c1c" stroke-width="1.1" transform="rotate(90 150 418)"/><polygon points="146,410 146,418 154,418 154,410" fill="#ccc" stroke="none" stroke-width="0" stroke-linejoin="round"/><line x1="146" y1="410" x2="146" y2="418" stroke="#1c1c1c" stroke-width="1.1"/><line x1="154" y1="410" x2="154" y2="418" stroke="#1c1c1c" stroke-width="1.1"/><ellipse cx="150" cy="410" rx="2" ry="4" fill="#ccc" stroke="#1c1c1c" stroke-width="1.1" transform="rotate(90 150 410)"/><line x1="146" y1="411" x2="154" y2="412" stroke="#1c1c1c" stroke-width="0.8"/><line x1="146" y1="413.5" x2="154" y2="414.5" stroke="#1c1c1c" stroke-width="0.8"/><line x1="146" y1="416" x2="154" y2="417" stroke="#1c1c1c" stroke-width="0.8"/><ellipse cx="111" cy="424" rx="5" ry="3" fill="#ddd" stroke="#1c1c1c" stroke-width="0.9"/><ellipse cx="111" cy="424" rx="2.5" ry="1.5" fill="#666" stroke="#1c1c1c" stroke-width="0.6"/><ellipse cx="150" cy="448" rx="5" ry="3" fill="#ddd" stroke="#1c1c1c" stroke-width="0.9"/><ellipse cx="150" cy="448" rx="2.5" ry="1.5" fill="#666" stroke="#1c1c1c" stroke-width="0.6"/><ellipse cx="198" cy="552" rx="7" ry="9" fill="#ddd" stroke="#1c1c1c" stroke-width="1" transform="rotate(-20 198 552)"/><ellipse cx="198" cy="552" rx="4" ry="6" fill="none" stroke="#1c1c1c" stroke-width="0.8" transform="rotate(-20 198 552)"/><ellipse cx="244.2" cy="507.5" rx="3" ry="6" fill="#fff" stroke="#1c1c1c" stroke-width="1.1" transform="rotate(-30 244.2 507.5)"/><polygon points="247.2,512.7 255,508.2 249,497.8 241.2,502.3" fill="#fff" stroke="none" stroke-width="0" stroke-linejoin="round"/><line x1="247.2" y1="512.7" x2="255" y2="508.2" stroke="#1c1c1c" stroke-width="1.1"/><line x1="241.2" y1="502.3" x2="249" y2="497.8" stroke="#1c1c1c" stroke-width="1.1"/><ellipse cx="252" cy="503" rx="3" ry="6" fill="#fff" stroke="#1c1c1c" stroke-width="1.1" transform="rotate(-30 252 503)"/><line x1="247.9" y1="511.8" x2="243.3" y2="502.2" stroke="#1c1c1c" stroke-width="0.7"/><line x1="250" y1="510.6" x2="245.4" y2="500.9" stroke="#1c1c1c" stroke-width="0.7"/><line x1="252.2" y1="509.3" x2="247.6" y2="499.7" stroke="#1c1c1c" stroke-width="0.7"/><ellipse cx="250.3" cy="504" rx="4" ry="8" fill="#fff" stroke="#1c1c1c" stroke-width="1.1" transform="rotate(-30 250.3 504)"/><polygon points="254.3,510.9 257.7,508.9 249.7,495.1 246.3,497.1" fill="#fff" stroke="none" stroke-width="0" stroke-linejoin="round"/><line x1="254.3" y1="510.9" x2="257.7" y2="508.9" stroke="#1c1c1c" stroke-width="1.1"/><line x1="246.3" y1="497.1" x2="249.7" y2="495.1" stroke="#1c1c1c" stroke-width="1.1"/><ellipse cx="253.7" cy="502" rx="4" ry="8" fill="#fff" stroke="#1c1c1c" stroke-width="1.1" transform="rotate(-30 253.7 502)"/><ellipse cx="253.7" cy="502" rx="1.6" ry="3.6" fill="none" stroke="#1c1c1c" stroke-width="0.7" transform="rotate(-30 253.7 502)"/><ellipse cx="225.2" cy="575.5" rx="3" ry="6" fill="#fff" stroke="#1c1c1c" stroke-width="1.1" transform="rotate(-30 225.2 575.5)"/><polygon points="228.2,580.7 236,576.2 230,565.8 222.2,570.3" fill="#fff" stroke="none" stroke-width="0" stroke-linejoin="round"/><line x1="228.2" y1="580.7" x2="236" y2="576.2" stroke="#1c1c1c" stroke-width="1.1"/><line x1="222.2" y1="570.3" x2="230" y2="565.8" stroke="#1c1c1c" stroke-width="1.1"/><ellipse cx="233" cy="571" rx="3" ry="6" fill="#fff" stroke="#1c1c1c" stroke-width="1.1" transform="rotate(-30 233 571)"/><line x1="228.9" y1="579.8" x2="224.3" y2="570.2" stroke="#1c1c1c" stroke-width="0.7"/><line x1="231" y1="578.6" x2="226.4" y2="568.9" stroke="#1c1c1c" stroke-width="0.7"/><line x1="233.2" y1="577.3" x2="228.6" y2="567.7" stroke="#1c1c1c" stroke-width="0.7"/><ellipse cx="231.3" cy="572" rx="4" ry="8" fill="#fff" stroke="#1c1c1c" stroke-width="1.1" transform="rotate(-30 231.3 572)"/><polygon points="235.3,578.9 238.7,576.9 230.7,563.1 227.3,565.1" fill="#fff" stroke="none" stroke-width="0" stroke-linejoin="round"/><line x1="235.3" y1="578.9" x2="238.7" y2="576.9" stroke="#1c1c1c" stroke-width="1.1"/><line x1="227.3" y1="565.1" x2="230.7" y2="563.1" stroke="#1c1c1c" stroke-width="1.1"/><ellipse cx="234.7" cy="570" rx="4" ry="8" fill="#fff" stroke="#1c1c1c" stroke-width="1.1" transform="rotate(-30 234.7 570)"/><ellipse cx="234.7" cy="570" rx="1.6" ry="3.6" fill="none" stroke="#1c1c1c" stroke-width="0.7" transform="rotate(-30 234.7 570)"/><line x1="205" y1="556" x2="226" y2="567" stroke="#777" stroke-width="0.8" stroke-dasharray="2,2"/><line x1="108" y1="583" x2="108" y2="600" stroke="#777" stroke-width="0.8" stroke-dasharray="2,2"/><ellipse cx="108" cy="604" rx="2.2" ry="4.5" fill="#fff" stroke="#1c1c1c" stroke-width="1.1" transform="rotate(90 108 604)"/><polygon points="103.5,586 103.5,604 112.5,604 112.5,586" fill="#fff" stroke="none" stroke-width="0" stroke-linejoin="round"/><line x1="103.5" y1="586" x2="103.5" y2="604" stroke="#1c1c1c" stroke-width="1.1"/><line x1="112.5" y1="586" x2="112.5" y2="604" stroke="#1c1c1c" stroke-width="1.1"/><ellipse cx="108" cy="586" rx="2.2" ry="4.5" fill="#fff" stroke="#1c1c1c" stroke-width="1.1" transform="rotate(90 108 586)"/><line x1="104" y1="589" x2="112" y2="590" stroke="#1c1c1c" stroke-width="0.7"/><line x1="104" y1="592.5" x2="112" y2="593.5" stroke="#1c1c1c" stroke-width="0.7"/><line x1="104" y1="596" x2="112" y2="597" stroke="#1c1c1c" stroke-width="0.7"/><line x1="104" y1="599.5" x2="112" y2="600.5" stroke="#1c1c1c" stroke-width="0.7"/><ellipse cx="108" cy="616" rx="3" ry="6" fill="#fff" stroke="#1c1c1c" stroke-width="1.1" transform="rotate(90 108 616)"/><polygon points="102,606 102,616 114,616 114,606" fill="#fff" stroke="none" stroke-width="0" stroke-linejoin="round"/><line x1="102" y1="606" x2="102" y2="616" stroke="#1c1c1c" stroke-width="1.1"/><line x1="114" y1="606" x2="114" y2="616" stroke="#1c1c1c" stroke-width="1.1"/><ellipse cx="108" cy="606" rx="3" ry="6" fill="#fff" stroke="#1c1c1c" stroke-width="1.1" transform="rotate(90 108 606)"/><ellipse cx="108" cy="607" rx="3" ry="1.5" fill="none" stroke="#1c1c1c" stroke-width="0.8"/><line x1="232" y1="470" x2="285" y2="452" stroke="#555" stroke-width="0.9" stroke-dasharray="14,4,2,4"/><line x1="230" y1="535" x2="290" y2="566" stroke="#555" stroke-width="0.9" stroke-dasharray="14,4,2,4"/><line x1="157" y1="486" x2="283" y2="566" stroke="#555" stroke-width="0.9" stroke-dasharray="14,4,2,4"/><line x1="300.6" y1="411.5" x2="300.6" y2="435" stroke="#454545" stroke-width="1.0"/><line x1="337.8" y1="397.7" x2="337.8" y2="421" stroke="#454545" stroke-width="1.0"/><line x1="372.4" y1="387.6" x2="372.4" y2="410" stroke="#454545" stroke-width="1.0"/><line x1="510.9" y1="397" x2="510.9" y2="428.3" stroke="#454545" stroke-width="1.0"/><line x1="629.4" y1="363" x2="629.4" y2="410.7" stroke="#454545" stroke-width="1.0"/><polyline points="633.2,281 633.2,299 667,314" fill="none" stroke="#454545" stroke-width="1" stroke-linejoin="round"/><line x1="672.8" y1="380.6" x2="672.8" y2="395.6" stroke="#454545" stroke-width="1.0"/><polyline points="639.6,210.4 639.6,233 669,260.6" fill="none" stroke="#454545" stroke-width="1" stroke-linejoin="round"/><line x1="699.9" y1="187.8" x2="699.9" y2="224.2" stroke="#454545" stroke-width="1.0"/><line x1="744.3" y1="175.3" x2="744.3" y2="268" stroke="#454545" stroke-width="1.0"/><line x1="741.6" y1="361.5" x2="741.6" y2="380.4" stroke="#454545" stroke-width="1.0"/><line x1="798.8" y1="355.3" x2="798.8" y2="362.8" stroke="#454545" stroke-width="1.0"/><line x1="841.4" y1="138.4" x2="910.4" y2="138.4" stroke="#454545" stroke-width="1.0"/><line x1="846.4" y1="181" x2="910.4" y2="181" stroke="#454545" stroke-width="1.0"/><line x1="837.6" y1="233.7" x2="910.4" y2="233.7" stroke="#454545" stroke-width="1.0"/><line x1="272" y1="460" x2="300" y2="452" stroke="#555" stroke-width="0.9" stroke-dasharray="12,4,2,4"/><line x1="350" y1="440" x2="402" y2="424" stroke="#777" stroke-width="0.8" stroke-dasharray="3,3"/><line x1="590" y1="356" x2="610" y2="350" stroke="#777" stroke-width="0.8" stroke-dasharray="3,3"/><ellipse cx="311.6" cy="457" rx="11.5" ry="20.5" fill="none" stroke="#1c1c1c" stroke-width="1.1" transform="rotate(-8 311.6 457)"/><ellipse cx="311.6" cy="457" rx="8.5" ry="17.5" fill="none" stroke="#1c1c1c" stroke-width="1.0" transform="rotate(-8 311.6 457)"/><polygon points="300.5,438 306,437 306,443 301,444" fill="#fff" stroke="#1c1c1c" stroke-width="0.9" stroke-linejoin="round"/><ellipse cx="341.2" cy="446" rx="15.5" ry="25" fill="#fff" stroke="#1c1c1c" stroke-width="1.2" transform="rotate(-12 341.2 446)"/><ellipse cx="342.5" cy="446.5" rx="10" ry="17" fill="#fff" stroke="#1c1c1c" stroke-width="1.0" transform="rotate(-12 342.5 446.5)"/><ellipse cx="340" cy="447" rx="14" ry="24" fill="none" stroke="#1c1c1c" stroke-width="0.6" transform="rotate(-12 340 447)"/><ellipse cx="382.5" cy="430" rx="14.5" ry="22" fill="none" stroke="#1c1c1c" stroke-width="1.1" transform="rotate(-10 382.5 430)"/><ellipse cx="382.5" cy="430" rx="11.3" ry="18.8" fill="none" stroke="#1c1c1c" stroke-width="1.0" transform="rotate(-10 382.5 430)"/><polygon points="371,410 377,409 377,415 372,416" fill="#fff" stroke="#1c1c1c" stroke-width="0.9" stroke-linejoin="round"/><ellipse cx="591" cy="354" rx="4" ry="9.5" fill="#fff" stroke="#1c1c1c" stroke-width="1.0" transform="rotate(-17.9 591 354)"/><polygon points="576.9,368.5 593.9,363 588.1,345 571.1,350.5" fill="#fff" stroke="none" stroke-width="0" stroke-linejoin="round"/><line x1="576.9" y1="368.5" x2="593.9" y2="363" stroke="#1c1c1c" stroke-width="1.0"/><line x1="571.1" y1="350.5" x2="588.1" y2="345" stroke="#1c1c1c" stroke-width="1.0"/><line x1="572.3" y1="350.9" x2="587.3" y2="346" stroke="#1c1c1c" stroke-width="0.55"/><line x1="573.2" y1="353.7" x2="588.2" y2="348.8" stroke="#1c1c1c" stroke-width="0.55"/><line x1="574.1" y1="356.4" x2="589.1" y2="351.5" stroke="#1c1c1c" stroke-width="0.55"/><line x1="575" y1="359.2" x2="590" y2="354.3" stroke="#1c1c1c" stroke-width="0.55"/><line x1="575.9" y1="362" x2="590.9" y2="357.1" stroke="#1c1c1c" stroke-width="0.55"/><line x1="576.8" y1="364.7" x2="591.8" y2="359.8" stroke="#1c1c1c" stroke-width="0.55"/><line x1="577.7" y1="367.5" x2="592.7" y2="362.6" stroke="#1c1c1c" stroke-width="0.55"/><path d="M576.7,367.6 A3.6,8.5 -18.3 0 0 571.3,351.4" fill="#fff" stroke="#1c1c1c" stroke-width="1.0"/><polygon points="526.7,384.1 576.7,367.6 571.3,351.4 521.3,367.9" fill="#fff" stroke="none" stroke-width="0" stroke-linejoin="round"/><line x1="526.7" y1="384.1" x2="576.7" y2="367.6" stroke="#1c1c1c" stroke-width="1.0"/><line x1="521.3" y1="367.9" x2="571.3" y2="351.4" stroke="#1c1c1c" stroke-width="1.0"/><path d="M551.0,357.5 C555.0,362.0 557.0,368.0 555.0,375.0" fill="none" stroke="#1c1c1c" stroke-width="0.8" stroke-linejoin="round" stroke-linecap="round"/><path d="M554.0,356.5 C558.0,361.0 560.0,367.0 558.0,374.0" fill="none" stroke="#1c1c1c" stroke-width="0.8" stroke-linejoin="round" stroke-linecap="round"/><path d="M528.3,387.8 A5.2,12.5 -19.9 0 0 519.7,364.2" fill="#fff" stroke="#1c1c1c" stroke-width="1.0"/><polygon points="481.3,404.8 528.3,387.8 519.7,364.2 472.7,381.2" fill="#fff" stroke="none" stroke-width="0" stroke-linejoin="round"/><line x1="481.3" y1="404.8" x2="528.3" y2="387.8" stroke="#1c1c1c" stroke-width="1.0"/><line x1="472.7" y1="381.2" x2="519.7" y2="364.2" stroke="#1c1c1c" stroke-width="1.0"/><line x1="474.1" y1="381.8" x2="519.1" y2="365.6" stroke="#1c1c1c" stroke-width="0.55"/><line x1="474.7" y1="383.4" x2="519.7" y2="367.2" stroke="#1c1c1c" stroke-width="0.55"/><line x1="475.3" y1="385.1" x2="520.3" y2="368.9" stroke="#1c1c1c" stroke-width="0.55"/><line x1="475.9" y1="386.8" x2="520.9" y2="370.6" stroke="#1c1c1c" stroke-width="0.55"/><line x1="476.5" y1="388.4" x2="521.5" y2="372.2" stroke="#1c1c1c" stroke-width="0.55"/><line x1="477.1" y1="390.1" x2="522.1" y2="373.9" stroke="#1c1c1c" stroke-width="0.55"/><line x1="477.7" y1="391.8" x2="522.7" y2="375.6" stroke="#1c1c1c" stroke-width="0.55"/><line x1="478.3" y1="393.4" x2="523.3" y2="377.2" stroke="#1c1c1c" stroke-width="0.55"/><line x1="478.9" y1="395.1" x2="523.9" y2="378.9" stroke="#1c1c1c" stroke-width="0.55"/><line x1="479.5" y1="396.8" x2="524.5" y2="380.6" stroke="#1c1c1c" stroke-width="0.55"/><line x1="480.1" y1="398.4" x2="525.1" y2="382.2" stroke="#1c1c1c" stroke-width="0.55"/><line x1="480.7" y1="400.1" x2="525.7" y2="383.9" stroke="#1c1c1c" stroke-width="0.55"/><line x1="481.3" y1="401.8" x2="526.3" y2="385.6" stroke="#1c1c1c" stroke-width="0.55"/><line x1="481.9" y1="403.4" x2="526.9" y2="387.2" stroke="#1c1c1c" stroke-width="0.55"/><path d="M481.1,404.3 A5.0,12.0 -20.0 0 0 472.9,381.7" fill="#fff" stroke="#1c1c1c" stroke-width="1.0"/><polygon points="459.1,412.3 481.1,404.3 472.9,381.7 450.9,389.7" fill="#fff" stroke="none" stroke-width="0" stroke-linejoin="round"/><line x1="459.1" y1="412.3" x2="481.1" y2="404.3" stroke="#1c1c1c" stroke-width="1.0"/><line x1="450.9" y1="389.7" x2="472.9" y2="381.7" stroke="#1c1c1c" stroke-width="1.0"/><path d="M462.0,387.0 C467.0,393.0 469.0,403.0 466.0,410.0" fill="none" stroke="#1c1c1c" stroke-width="0.8" stroke-linejoin="round" stroke-linecap="round"/><path d="M465.0,386.0 C470.0,392.0 472.0,402.0 469.0,409.0" fill="none" stroke="#1c1c1c" stroke-width="0.8" stroke-linejoin="round" stroke-linecap="round"/><path d="M461.4,415.7 A6.7,16.0 -23.5 0 0 448.6,386.3" fill="#fff" stroke="#1c1c1c" stroke-width="1.0"/><polygon points="438.4,425.7 461.4,415.7 448.6,386.3 425.6,396.3" fill="#fff" stroke="none" stroke-width="0" stroke-linejoin="round"/><line x1="438.4" y1="425.7" x2="461.4" y2="415.7" stroke="#1c1c1c" stroke-width="1.0"/><line x1="425.6" y1="396.3" x2="448.6" y2="386.3" stroke="#1c1c1c" stroke-width="1.0"/><ellipse cx="432" cy="411" rx="6.7" ry="16" fill="#fff" stroke="#1c1c1c" stroke-width="1.1" transform="rotate(-23.5 432 411)"/><path d="M436.3,422.7 A5.2,12.5 -20.3 0 0 427.7,399.3" fill="#fff" stroke="#1c1c1c" stroke-width="1.0"/><polygon points="409.3,432.7 436.3,422.7 427.7,399.3 400.7,409.3" fill="#fff" stroke="none" stroke-width="0" stroke-linejoin="round"/><line x1="409.3" y1="432.7" x2="436.3" y2="422.7" stroke="#1c1c1c" stroke-width="1.0"/><line x1="400.7" y1="409.3" x2="427.7" y2="399.3" stroke="#1c1c1c" stroke-width="1.0"/><ellipse cx="405" cy="421" rx="5.2" ry="12.5" fill="#fff" stroke="#1c1c1c" stroke-width="1.1" transform="rotate(-20.3 405 421)"/><line x1="403" y1="409.5" x2="427" y2="400.6" stroke="#1c1c1c" stroke-width="0.55"/><line x1="404" y1="412.2" x2="428" y2="403.3" stroke="#1c1c1c" stroke-width="0.55"/><line x1="405" y1="414.9" x2="429" y2="406" stroke="#1c1c1c" stroke-width="0.55"/><line x1="406" y1="417.6" x2="430" y2="408.7" stroke="#1c1c1c" stroke-width="0.55"/><line x1="407" y1="420.3" x2="431" y2="411.4" stroke="#1c1c1c" stroke-width="0.55"/><line x1="408" y1="423" x2="432" y2="414.1" stroke="#1c1c1c" stroke-width="0.55"/><line x1="409" y1="425.7" x2="433" y2="416.8" stroke="#1c1c1c" stroke-width="0.55"/><line x1="410" y1="428.4" x2="434" y2="419.5" stroke="#1c1c1c" stroke-width="0.55"/><line x1="411" y1="431.1" x2="435" y2="422.2" stroke="#1c1c1c" stroke-width="0.55"/><ellipse cx="405" cy="421" rx="5.2" ry="12.5" fill="#fff" stroke="#1c1c1c" stroke-width="1.1" transform="rotate(-20 405 421)"/><ellipse cx="405.5" cy="421.5" rx="2" ry="2.6" fill="#333" stroke="#1c1c1c" stroke-width="0.6"/><ellipse cx="648" cy="334" rx="14.4" ry="24" fill="#fff" stroke="#1c1c1c" stroke-width="1.1" transform="rotate(-19.9 648 334)"/><polygon points="638.2,363.1 656.2,356.6 639.8,311.4 621.8,317.9" fill="#fff" stroke="none" stroke-width="0" stroke-linejoin="round"/><line x1="638.2" y1="363.1" x2="656.2" y2="356.6" stroke="#1c1c1c" stroke-width="1.1"/><line x1="621.8" y1="317.9" x2="639.8" y2="311.4" stroke="#1c1c1c" stroke-width="1.1"/><ellipse cx="630" cy="340.5" rx="14.4" ry="24" fill="#fff" stroke="#1c1c1c" stroke-width="1.1" transform="rotate(-19.9 630 340.5)"/><ellipse cx="630" cy="340.5" rx="11.5" ry="19.5" fill="none" stroke="#1c1c1c" stroke-width="0.9" transform="rotate(-12 630 340.5)"/><ellipse cx="637.7" cy="340.5" rx="1.4" ry="2.4" fill="#444" stroke="none" stroke-width="0"/><ellipse cx="636.9" cy="349.9" rx="1.4" ry="2.4" fill="#444" stroke="none" stroke-width="0"/><ellipse cx="634.8" cy="357.5" rx="1.4" ry="2.4" fill="#444" stroke="none" stroke-width="0"/><ellipse cx="631.7" cy="361.7" rx="1.4" ry="2.4" fill="#444" stroke="none" stroke-width="0"/><ellipse cx="628.3" cy="361.7" rx="1.4" ry="2.4" fill="#444" stroke="none" stroke-width="0"/><ellipse cx="625.2" cy="357.5" rx="1.4" ry="2.4" fill="#444" stroke="none" stroke-width="0"/><ellipse cx="623.1" cy="349.9" rx="1.4" ry="2.4" fill="#444" stroke="none" stroke-width="0"/><ellipse cx="622.3" cy="340.5" rx="1.4" ry="2.4" fill="#444" stroke="none" stroke-width="0"/><ellipse cx="623.1" cy="331.1" rx="1.4" ry="2.4" fill="#444" stroke="none" stroke-width="0"/><ellipse cx="625.2" cy="323.5" rx="1.4" ry="2.4" fill="#444" stroke="none" stroke-width="0"/><ellipse cx="628.3" cy="319.3" rx="1.4" ry="2.4" fill="#444" stroke="none" stroke-width="0"/><ellipse cx="631.7" cy="319.3" rx="1.4" ry="2.4" fill="#444" stroke="none" stroke-width="0"/><ellipse cx="634.8" cy="323.5" rx="1.4" ry="2.4" fill="#444" stroke="none" stroke-width="0"/><ellipse cx="636.9" cy="331.1" rx="1.4" ry="2.4" fill="#444" stroke="none" stroke-width="0"/><ellipse cx="629" cy="341.5" rx="7.2" ry="12.7" fill="#fff" stroke="#1c1c1c" stroke-width="1.0" transform="rotate(-12 629 341.5)"/><ellipse cx="678.5" cy="321" rx="11.5" ry="18" fill="none" stroke="#1c1c1c" stroke-width="1.1" transform="rotate(-15 678.5 321)"/><ellipse cx="678.5" cy="321" rx="8.9" ry="15.4" fill="none" stroke="#1c1c1c" stroke-width="1.0" transform="rotate(-15 678.5 321)"/><polygon points="667,308 672,303 676,306 671,311" fill="#fff" stroke="#1c1c1c" stroke-width="0.9" stroke-linejoin="round"/><path d="M670,263 L676,255 C678,262 683,268 690,273 C700,280 712,284 722,286 L721,298 C708,296 690,291 678,283 C673,279 670,272 670,263 Z" fill="#fff" stroke="#1c1c1c" stroke-width="1.1" stroke-linejoin="round" stroke-linecap="round"/><path d="M676,255 L678,257 C681,266 690,275 703,280 L722,286" fill="none" stroke="#1c1c1c" stroke-width="0.8" stroke-linejoin="round" stroke-linecap="round"/><ellipse cx="676.5" cy="282" rx="1.5" ry="1.5" fill="#fff" stroke="#1c1c1c" stroke-width="0.7"/><path d="M709,245 L712,237 C714,246 718,252 724,256 C734,262 748,264 762,264 L762,286 C746,286 730,282 718,275 C712,270 709,262 709,245 Z" fill="#fafafa" stroke="#1c1c1c" stroke-width="1.1" stroke-linejoin="round" stroke-linecap="round"/><polygon points="722,262 728,263 728,281 722,279" fill="#fff" stroke="#1c1c1c" stroke-width="0.8" stroke-linejoin="round"/><polygon points="730,262.3 736,263 736,281 730,279" fill="#fff" stroke="#1c1c1c" stroke-width="0.8" stroke-linejoin="round"/><polygon points="738,262.6 744,263 744,281 738,279" fill="#fff" stroke="#1c1c1c" stroke-width="0.8" stroke-linejoin="round"/><polygon points="746,262.9 752,263 752,281 746,279" fill="#fff" stroke="#1c1c1c" stroke-width="0.8" stroke-linejoin="round"/><polygon points="754,263.2 760,263 760,281 754,279" fill="#fff" stroke="#1c1c1c" stroke-width="0.8" stroke-linejoin="round"/><path d="M669,239 L720,220.5 Q726,218.5 730,222 Q731,226 727,227.5 L703,235.5 Q700,237 700,240 L700,251 Q701,253 703,251 L703,240 Q704,238 707,237 L730,228.5 Q734,225 731,221 Q727,216 719,218.5 L668,237 Q665,240 669,246 Q672,248 676,246 L690,240.5 Q692,239 690,238 L675,243.5 Q671,244 670,242 Z" fill="none" stroke="#1c1c1c" stroke-width="0.9" stroke-linejoin="round" stroke-linecap="round"/><line x1="699" y1="250" x2="699" y2="262" stroke="#777" stroke-width="0.8" stroke-dasharray="2,2"/><path d="M670,346 L675,340 C677,348 681,356 690,363 C700,371 712,375 722,376 L722,388 C708,387 692,381 680,372 C673,365 670,357 670,346 Z" fill="#fff" stroke="#1c1c1c" stroke-width="1.1" stroke-linejoin="round" stroke-linecap="round"/><path d="M675,340 L677,342 C680,353 690,363 703,369 L722,376" fill="none" stroke="#1c1c1c" stroke-width="0.8" stroke-linejoin="round" stroke-linecap="round"/><ellipse cx="677" cy="368" rx="1.5" ry="1.5" fill="#fff" stroke="#1c1c1c" stroke-width="0.7"/><path d="M709,329 L712,321 C714,330 718,336 724,340 C734,346 748,348 762,348 L762,370 C746,370 730,366 718,359 C712,354 709,346 709,329 Z" fill="#fafafa" stroke="#1c1c1c" stroke-width="1.1" stroke-linejoin="round" stroke-linecap="round"/><polygon points="722,346 728,347 728,365 722,363" fill="#fff" stroke="#1c1c1c" stroke-width="0.8" stroke-linejoin="round"/><polygon points="730,346.3 736,347 736,365 730,363" fill="#fff" stroke="#1c1c1c" stroke-width="0.8" stroke-linejoin="round"/><polygon points="738,346.6 744,347 744,365 738,363" fill="#fff" stroke="#1c1c1c" stroke-width="0.8" stroke-linejoin="round"/><polygon points="746,346.9 752,347 752,365 746,363" fill="#fff" stroke="#1c1c1c" stroke-width="0.8" stroke-linejoin="round"/><polygon points="754,347.2 760,347 760,365 754,363" fill="#fff" stroke="#1c1c1c" stroke-width="0.8" stroke-linejoin="round"/><polyline points="782,358 815,347 815,333" fill="none" stroke="#1c1c1c" stroke-width="3.6" stroke-linejoin="round"/><polyline points="782,358 815,347 815,333" fill="none" stroke="#fff" stroke-width="1.6" stroke-linejoin="round"/><line x1="815" y1="322" x2="815" y2="330" stroke="#777" stroke-width="0.8" stroke-dasharray="2,2"/><path d="M792,228 C795,221 800,218 804,218 L819,220 C832,226 842,232 848,239 L848,251 C854,262 857,272 856,283 C855,295 851,303 848,309 L848,318 L816,320 C805,318 797,313 792,308 L792,301 C787,292 784,282 785,271 C786,258 788,248 790,240 Z" fill="#f1f1f1" stroke="#1c1c1c" stroke-width="1.2" stroke-linejoin="round" stroke-linecap="round"/><path d="M792,228 C795,221 800,218 804,218 L819,220 C832,226 842,232 848,239 C835,247 810,247 792,240 Z" fill="#f6f6f6" stroke="#1c1c1c" stroke-width="0.9" stroke-linejoin="round" stroke-linecap="round"/><path d="M792,240 C800,248 830,252 848,251" fill="none" stroke="#1c1c1c" stroke-width="0.9" stroke-linejoin="round" stroke-linecap="round"/><path d="M790,244 C796,250 826,256 848,256" fill="none" stroke="#1c1c1c" stroke-width="0.8" stroke-linejoin="round" stroke-linecap="round"/><path d="M792,300 C805,308 830,310 848,306 L848,318 L816,320 C805,318 797,313 792,308 Z" fill="#e2e2e2" stroke="#1c1c1c" stroke-width="0.9" stroke-linejoin="round" stroke-linecap="round"/><path d="M790,244 C786,258 785,285 792,300 L797,302 C792,285 792,262 796,246 Z" fill="#c8c8c8" stroke="none" stroke-width="0" stroke-linejoin="round" stroke-linecap="round"/><path d="M796,236 C806,228 830,232 845,240" fill="none" stroke="#666" stroke-width="0.8" stroke-linejoin="round" stroke-linecap="round"/><ellipse cx="811" cy="278" rx="14" ry="25" fill="#ececec" stroke="#1c1c1c" stroke-width="1.1" transform="rotate(-10 811 278)"/><ellipse cx="811" cy="278" rx="10" ry="19" fill="#fafafa" stroke="#1c1c1c" stroke-width="1.1" transform="rotate(-10 811 278)"/><ellipse cx="813" cy="278" rx="7" ry="15" fill="none" stroke="#777" stroke-width="0.7" transform="rotate(-10 813 278)"/><polygon points="838,268 846,266 846,280 838,282" fill="none" stroke="#1c1c1c" stroke-width="0.8" stroke-linejoin="round"/><polygon points="838,290 846,288 846,298 838,300" fill="none" stroke="#1c1c1c" stroke-width="0.8" stroke-linejoin="round"/><ellipse cx="806" cy="229" rx="2.2" ry="5" fill="#ccc" stroke="#1c1c1c" stroke-width="1.1" transform="rotate(-90 806 229)"/><polygon points="811,229 811,220 801,220 801,229" fill="#ccc" stroke="none" stroke-width="0" stroke-linejoin="round"/><line x1="811" y1="229" x2="811" y2="220" stroke="#1c1c1c" stroke-width="1.1"/><line x1="801" y1="229" x2="801" y2="220" stroke="#1c1c1c" stroke-width="1.1"/><ellipse cx="806" cy="220" rx="2.2" ry="5" fill="#ccc" stroke="#1c1c1c" stroke-width="1.1" transform="rotate(-90 806 220)"/><ellipse cx="806" cy="232" rx="3.1" ry="7" fill="#ddd" stroke="#1c1c1c" stroke-width="1.1" transform="rotate(-90 806 232)"/><polygon points="813,232 813,227 799,227 799,232" fill="#ddd" stroke="none" stroke-width="0" stroke-linejoin="round"/><line x1="813" y1="232" x2="813" y2="227" stroke="#1c1c1c" stroke-width="1.1"/><line x1="799" y1="232" x2="799" y2="227" stroke="#1c1c1c" stroke-width="1.1"/><ellipse cx="806" cy="227" rx="3.1" ry="7" fill="#ddd" stroke="#1c1c1c" stroke-width="1.1" transform="rotate(-90 806 227)"/><line x1="806" y1="200" x2="806" y2="215" stroke="#777" stroke-width="0.8" stroke-dasharray="2,2"/><line x1="806" y1="322" x2="806" y2="335" stroke="#777" stroke-width="0.8" stroke-dasharray="2,2"/><polygon points="789,190 834,173 846,179 801,197" fill="#fff" stroke="#1c1c1c" stroke-width="1.1" stroke-linejoin="round"/><polygon points="789,190 801,197 801,205 789,198" fill="#f0f0f0" stroke="#1c1c1c" stroke-width="1.1" stroke-linejoin="round"/><polygon points="801,197 846,179 846,187 801,205" fill="#fff" stroke="#1c1c1c" stroke-width="1.1" stroke-linejoin="round"/><ellipse cx="806" cy="187" rx="4" ry="2" fill="none" stroke="#1c1c1c" stroke-width="0.8" transform="rotate(-20 806 187)"/><ellipse cx="833" cy="177" rx="4" ry="2" fill="none" stroke="#1c1c1c" stroke-width="0.8" transform="rotate(-20 833 177)"/><line x1="806" y1="172" x2="806" y2="186" stroke="#777" stroke-width="0.8" stroke-dasharray="2,2"/><ellipse cx="834" cy="157" rx="1.8" ry="4" fill="#fff" stroke="#1c1c1c" stroke-width="1.1" transform="rotate(90 834 157)"/><polygon points="830,141 830,157 838,157 838,141" fill="#fff" stroke="none" stroke-width="0" stroke-linejoin="round"/><line x1="830" y1="141" x2="830" y2="157" stroke="#1c1c1c" stroke-width="1.1"/><line x1="838" y1="141" x2="838" y2="157" stroke="#1c1c1c" stroke-width="1.1"/><ellipse cx="834" cy="141" rx="1.8" ry="4" fill="#fff" stroke="#1c1c1c" stroke-width="1.1" transform="rotate(90 834 141)"/><ellipse cx="834" cy="141" rx="3.6" ry="8" fill="#fff" stroke="#1c1c1c" stroke-width="1.1" transform="rotate(90 834 141)"/><polygon points="826,135 826,141 842,141 842,135" fill="#fff" stroke="none" stroke-width="0" stroke-linejoin="round"/><line x1="826" y1="135" x2="826" y2="141" stroke="#1c1c1c" stroke-width="1.1"/><line x1="842" y1="135" x2="842" y2="141" stroke="#1c1c1c" stroke-width="1.1"/><ellipse cx="834" cy="135" rx="3.6" ry="8" fill="#fff" stroke="#1c1c1c" stroke-width="1.1" transform="rotate(90 834 135)"/><line x1="830" y1="134" x2="838" y2="136" stroke="#1c1c1c" stroke-width="0.8"/><line x1="834" y1="159" x2="834" y2="172" stroke="#777" stroke-width="0.8" stroke-dasharray="2,2"/><polyline points="861.5,255.6 889.5,247.5 889.5,357.5" fill="none" stroke="#454545" stroke-width="1" stroke-dasharray="16,3,2,3" stroke-linejoin="round"/><line x1="590" y1="353" x2="760" y2="300" stroke="#555" stroke-width="0.9" stroke-dasharray="16,4,2,4"/><line x1="462.5" y1="503" x2="889.5" y2="357.5" stroke="#444" stroke-width="0.9" stroke-dasharray="40,5,3,5"/><line x1="462.5" y1="503" x2="462.5" y2="585" stroke="#444" stroke-width="0.9"/><polyline points="462,585 540,597 560,610" fill="none" stroke="#444" stroke-width="0.9" stroke-linejoin="round"/><line x1="560" y1="610" x2="929" y2="470" stroke="#444" stroke-width="0.9" stroke-dasharray="60,5,3,5"/><line x1="929" y1="470" x2="940" y2="475" stroke="#444" stroke-width="0.9"/><line x1="757" y1="541" x2="757" y2="560" stroke="#454545" stroke-width="1.0"/><polyline points="933,415 967,405 967,655 734,740" fill="none" stroke="#444" stroke-width="0.9" stroke-dasharray="40,5,3,5" stroke-linejoin="round"/><line x1="598" y1="530" x2="690" y2="500" stroke="#777" stroke-width="0.8" stroke-dasharray="3,4"/><ellipse cx="549.6" cy="563.2" rx="3.1" ry="6.3" fill="#fff" stroke="#1c1c1c" stroke-width="1.1" transform="rotate(-19.3 549.6 563.2)"/><polygon points="523.7,578.9 551.7,569.1 547.5,557.3 519.5,567.1" fill="#fff" stroke="none" stroke-width="0" stroke-linejoin="round"/><line x1="523.7" y1="578.9" x2="551.7" y2="569.1" stroke="#1c1c1c" stroke-width="1.1"/><line x1="519.5" y1="567.1" x2="547.5" y2="557.3" stroke="#1c1c1c" stroke-width="1.1"/><ellipse cx="521.6" cy="573" rx="3.1" ry="6.3" fill="#fff" stroke="#1c1c1c" stroke-width="1.1" transform="rotate(-19.3 521.6 573)"/><ellipse cx="521.6" cy="573" rx="2.6" ry="5.2" fill="#fff" stroke="#1c1c1c" stroke-width="1.1" transform="rotate(-20 521.6 573)"/><polygon points="517.9,579.9 523.4,577.9 519.8,568.1 514.3,570.1" fill="#fff" stroke="none" stroke-width="0" stroke-linejoin="round"/><line x1="517.9" y1="579.9" x2="523.4" y2="577.9" stroke="#1c1c1c" stroke-width="1.1"/><line x1="514.3" y1="570.1" x2="519.8" y2="568.1" stroke="#1c1c1c" stroke-width="1.1"/><ellipse cx="516.1" cy="575" rx="2.6" ry="5.2" fill="#fff" stroke="#1c1c1c" stroke-width="1.1" transform="rotate(-20 516.1 575)"/><ellipse cx="516.1" cy="575" rx="3.3" ry="6.6" fill="#fff" stroke="#1c1c1c" stroke-width="1.1" transform="rotate(-18.9 516.1 575)"/><polygon points="514.7,582.4 518.2,581.2 514,568.8 510.5,570" fill="#fff" stroke="none" stroke-width="0" stroke-linejoin="round"/><line x1="514.7" y1="582.4" x2="518.2" y2="581.2" stroke="#1c1c1c" stroke-width="1.1"/><line x1="510.5" y1="570" x2="514" y2="568.8" stroke="#1c1c1c" stroke-width="1.1"/><ellipse cx="512.6" cy="576.2" rx="3.3" ry="6.6" fill="#fff" stroke="#1c1c1c" stroke-width="1.1" transform="rotate(-18.9 512.6 576.2)"/><ellipse cx="512.6" cy="576.2" rx="3.3" ry="6.6" fill="#fff" stroke="#111" stroke-width="1.6" transform="rotate(-20 512.6 576.2)"/><ellipse cx="512.6" cy="576.2" rx="1.8" ry="3.8" fill="#999" stroke="#222" stroke-width="1.0" transform="rotate(-20 512.6 576.2)"/><ellipse cx="558.5" cy="576.5" rx="3.1" ry="6.3" fill="#fff" stroke="#1c1c1c" stroke-width="1.1" transform="rotate(-19.3 558.5 576.5)"/><polygon points="532.6,592.2 560.6,582.4 556.4,570.6 528.4,580.4" fill="#fff" stroke="none" stroke-width="0" stroke-linejoin="round"/><line x1="532.6" y1="592.2" x2="560.6" y2="582.4" stroke="#1c1c1c" stroke-width="1.1"/><line x1="528.4" y1="580.4" x2="556.4" y2="570.6" stroke="#1c1c1c" stroke-width="1.1"/><ellipse cx="530.5" cy="586.3" rx="3.1" ry="6.3" fill="#fff" stroke="#1c1c1c" stroke-width="1.1" transform="rotate(-19.3 530.5 586.3)"/><ellipse cx="530.5" cy="586.3" rx="2.6" ry="5.2" fill="#fff" stroke="#1c1c1c" stroke-width="1.1" transform="rotate(-20 530.5 586.3)"/><polygon points="526.8,593.2 532.3,591.2 528.7,581.4 523.2,583.4" fill="#fff" stroke="none" stroke-width="0" stroke-linejoin="round"/><line x1="526.8" y1="593.2" x2="532.3" y2="591.2" stroke="#1c1c1c" stroke-width="1.1"/><line x1="523.2" y1="583.4" x2="528.7" y2="581.4" stroke="#1c1c1c" stroke-width="1.1"/><ellipse cx="525" cy="588.3" rx="2.6" ry="5.2" fill="#fff" stroke="#1c1c1c" stroke-width="1.1" transform="rotate(-20 525 588.3)"/><ellipse cx="525" cy="588.3" rx="3.3" ry="6.6" fill="#fff" stroke="#1c1c1c" stroke-width="1.1" transform="rotate(-18.9 525 588.3)"/><polygon points="523.6,595.7 527.1,594.5 522.9,582.1 519.4,583.3" fill="#fff" stroke="none" stroke-width="0" stroke-linejoin="round"/><line x1="523.6" y1="595.7" x2="527.1" y2="594.5" stroke="#1c1c1c" stroke-width="1.1"/><line x1="519.4" y1="583.3" x2="522.9" y2="582.1" stroke="#1c1c1c" stroke-width="1.1"/><ellipse cx="521.5" cy="589.5" rx="3.3" ry="6.6" fill="#fff" stroke="#1c1c1c" stroke-width="1.1" transform="rotate(-18.9 521.5 589.5)"/><ellipse cx="521.5" cy="589.5" rx="3.3" ry="6.6" fill="#fff" stroke="#111" stroke-width="1.6" transform="rotate(-20 521.5 589.5)"/><ellipse cx="521.5" cy="589.5" rx="1.8" ry="3.8" fill="#999" stroke="#222" stroke-width="1.0" transform="rotate(-20 521.5 589.5)"/><ellipse cx="545.2" cy="549.4" rx="3.1" ry="6.3" fill="#fff" stroke="#1c1c1c" stroke-width="1.1" transform="rotate(-19.3 545.2 549.4)"/><polygon points="519.3,565.1 547.3,555.3 543.1,543.5 515.1,553.3" fill="#fff" stroke="none" stroke-width="0" stroke-linejoin="round"/><line x1="519.3" y1="565.1" x2="547.3" y2="555.3" stroke="#1c1c1c" stroke-width="1.1"/><line x1="515.1" y1="553.3" x2="543.1" y2="543.5" stroke="#1c1c1c" stroke-width="1.1"/><ellipse cx="517.2" cy="559.2" rx="3.1" ry="6.3" fill="#fff" stroke="#1c1c1c" stroke-width="1.1" transform="rotate(-19.3 517.2 559.2)"/><ellipse cx="517.2" cy="559.2" rx="2.6" ry="5.2" fill="#fff" stroke="#1c1c1c" stroke-width="1.1" transform="rotate(-20 517.2 559.2)"/><polygon points="513.5,566.1 519,564.1 515.4,554.3 509.9,556.3" fill="#fff" stroke="none" stroke-width="0" stroke-linejoin="round"/><line x1="513.5" y1="566.1" x2="519" y2="564.1" stroke="#1c1c1c" stroke-width="1.1"/><line x1="509.9" y1="556.3" x2="515.4" y2="554.3" stroke="#1c1c1c" stroke-width="1.1"/><ellipse cx="511.7" cy="561.2" rx="2.6" ry="5.2" fill="#fff" stroke="#1c1c1c" stroke-width="1.1" transform="rotate(-20 511.7 561.2)"/><ellipse cx="511.7" cy="561.2" rx="3.3" ry="6.6" fill="#fff" stroke="#1c1c1c" stroke-width="1.1" transform="rotate(-18.9 511.7 561.2)"/><polygon points="510.3,568.6 513.8,567.4 509.6,555 506.1,556.2" fill="#fff" stroke="none" stroke-width="0" stroke-linejoin="round"/><line x1="510.3" y1="568.6" x2="513.8" y2="567.4" stroke="#1c1c1c" stroke-width="1.1"/><line x1="506.1" y1="556.2" x2="509.6" y2="555" stroke="#1c1c1c" stroke-width="1.1"/><ellipse cx="508.2" cy="562.4" rx="3.3" ry="6.6" fill="#fff" stroke="#1c1c1c" stroke-width="1.1" transform="rotate(-18.9 508.2 562.4)"/><ellipse cx="508.2" cy="562.4" rx="3.3" ry="6.6" fill="#fff" stroke="#111" stroke-width="1.6" transform="rotate(-20 508.2 562.4)"/><ellipse cx="508.2" cy="562.4" rx="1.8" ry="3.8" fill="#999" stroke="#222" stroke-width="1.0" transform="rotate(-20 508.2 562.4)"/><ellipse cx="545.8" cy="535.6" rx="3.1" ry="6.3" fill="#fff" stroke="#1c1c1c" stroke-width="1.1" transform="rotate(-19.3 545.8 535.6)"/><polygon points="519.9,551.3 547.9,541.5 543.7,529.7 515.7,539.5" fill="#fff" stroke="none" stroke-width="0" stroke-linejoin="round"/><line x1="519.9" y1="551.3" x2="547.9" y2="541.5" stroke="#1c1c1c" stroke-width="1.1"/><line x1="515.7" y1="539.5" x2="543.7" y2="529.7" stroke="#1c1c1c" stroke-width="1.1"/><ellipse cx="517.8" cy="545.4" rx="3.1" ry="6.3" fill="#fff" stroke="#1c1c1c" stroke-width="1.1" transform="rotate(-19.3 517.8 545.4)"/><ellipse cx="517.8" cy="545.4" rx="2.6" ry="5.2" fill="#fff" stroke="#1c1c1c" stroke-width="1.1" transform="rotate(-20 517.8 545.4)"/><polygon points="514.1,552.3 519.6,550.3 516,540.5 510.5,542.5" fill="#fff" stroke="none" stroke-width="0" stroke-linejoin="round"/><line x1="514.1" y1="552.3" x2="519.6" y2="550.3" stroke="#1c1c1c" stroke-width="1.1"/><line x1="510.5" y1="542.5" x2="516" y2="540.5" stroke="#1c1c1c" stroke-width="1.1"/><ellipse cx="512.3" cy="547.4" rx="2.6" ry="5.2" fill="#fff" stroke="#1c1c1c" stroke-width="1.1" transform="rotate(-20 512.3 547.4)"/><ellipse cx="512.3" cy="547.4" rx="3.3" ry="6.6" fill="#fff" stroke="#1c1c1c" stroke-width="1.1" transform="rotate(-18.9 512.3 547.4)"/><polygon points="510.9,554.8 514.4,553.6 510.2,541.2 506.7,542.4" fill="#fff" stroke="none" stroke-width="0" stroke-linejoin="round"/><line x1="510.9" y1="554.8" x2="514.4" y2="553.6" stroke="#1c1c1c" stroke-width="1.1"/><line x1="506.7" y1="542.4" x2="510.2" y2="541.2" stroke="#1c1c1c" stroke-width="1.1"/><ellipse cx="508.8" cy="548.6" rx="3.3" ry="6.6" fill="#fff" stroke="#1c1c1c" stroke-width="1.1" transform="rotate(-18.9 508.8 548.6)"/><ellipse cx="508.8" cy="548.6" rx="3.3" ry="6.6" fill="#fff" stroke="#111" stroke-width="1.6" transform="rotate(-20 508.8 548.6)"/><ellipse cx="508.8" cy="548.6" rx="1.8" ry="3.8" fill="#999" stroke="#222" stroke-width="1.0" transform="rotate(-20 508.8 548.6)"/><ellipse cx="570.6" cy="575.9" rx="3.1" ry="6.3" fill="#fff" stroke="#1c1c1c" stroke-width="1.1" transform="rotate(-19.3 570.6 575.9)"/><polygon points="544.7,591.6 572.7,581.8 568.5,570 540.5,579.8" fill="#fff" stroke="none" stroke-width="0" stroke-linejoin="round"/><line x1="544.7" y1="591.6" x2="572.7" y2="581.8" stroke="#1c1c1c" stroke-width="1.1"/><line x1="540.5" y1="579.8" x2="568.5" y2="570" stroke="#1c1c1c" stroke-width="1.1"/><ellipse cx="542.6" cy="585.7" rx="3.1" ry="6.3" fill="#fff" stroke="#1c1c1c" stroke-width="1.1" transform="rotate(-19.3 542.6 585.7)"/><ellipse cx="542.6" cy="585.7" rx="2.6" ry="5.2" fill="#fff" stroke="#1c1c1c" stroke-width="1.1" transform="rotate(-20 542.6 585.7)"/><polygon points="538.9,592.6 544.4,590.6 540.8,580.8 535.3,582.8" fill="#fff" stroke="none" stroke-width="0" stroke-linejoin="round"/><line x1="538.9" y1="592.6" x2="544.4" y2="590.6" stroke="#1c1c1c" stroke-width="1.1"/><line x1="535.3" y1="582.8" x2="540.8" y2="580.8" stroke="#1c1c1c" stroke-width="1.1"/><ellipse cx="537.1" cy="587.7" rx="2.6" ry="5.2" fill="#fff" stroke="#1c1c1c" stroke-width="1.1" transform="rotate(-20 537.1 587.7)"/><ellipse cx="537.1" cy="587.7" rx="3.3" ry="6.6" fill="#fff" stroke="#1c1c1c" stroke-width="1.1" transform="rotate(-18.9 537.1 587.7)"/><polygon points="535.7,595.1 539.2,593.9 535,581.5 531.5,582.7" fill="#fff" stroke="none" stroke-width="0" stroke-linejoin="round"/><line x1="535.7" y1="595.1" x2="539.2" y2="593.9" stroke="#1c1c1c" stroke-width="1.1"/><line x1="531.5" y1="582.7" x2="535" y2="581.5" stroke="#1c1c1c" stroke-width="1.1"/><ellipse cx="533.6" cy="588.9" rx="3.3" ry="6.6" fill="#fff" stroke="#1c1c1c" stroke-width="1.1" transform="rotate(-18.9 533.6 588.9)"/><ellipse cx="533.6" cy="588.9" rx="3.3" ry="6.6" fill="#fff" stroke="#111" stroke-width="1.6" transform="rotate(-20 533.6 588.9)"/><ellipse cx="533.6" cy="588.9" rx="1.8" ry="3.8" fill="#999" stroke="#222" stroke-width="1.0" transform="rotate(-20 533.6 588.9)"/><ellipse cx="554" cy="530.6" rx="3.1" ry="6.3" fill="#fff" stroke="#1c1c1c" stroke-width="1.1" transform="rotate(-19.3 554 530.6)"/><polygon points="528.1,546.3 556.1,536.5 551.9,524.7 523.9,534.5" fill="#fff" stroke="none" stroke-width="0" stroke-linejoin="round"/><line x1="528.1" y1="546.3" x2="556.1" y2="536.5" stroke="#1c1c1c" stroke-width="1.1"/><line x1="523.9" y1="534.5" x2="551.9" y2="524.7" stroke="#1c1c1c" stroke-width="1.1"/><ellipse cx="526" cy="540.4" rx="3.1" ry="6.3" fill="#fff" stroke="#1c1c1c" stroke-width="1.1" transform="rotate(-19.3 526 540.4)"/><ellipse cx="526" cy="540.4" rx="2.6" ry="5.2" fill="#fff" stroke="#1c1c1c" stroke-width="1.1" transform="rotate(-20 526 540.4)"/><polygon points="522.3,547.3 527.8,545.3 524.2,535.5 518.7,537.5" fill="#fff" stroke="none" stroke-width="0" stroke-linejoin="round"/><line x1="522.3" y1="547.3" x2="527.8" y2="545.3" stroke="#1c1c1c" stroke-width="1.1"/><line x1="518.7" y1="537.5" x2="524.2" y2="535.5" stroke="#1c1c1c" stroke-width="1.1"/><ellipse cx="520.5" cy="542.4" rx="2.6" ry="5.2" fill="#fff" stroke="#1c1c1c" stroke-width="1.1" transform="rotate(-20 520.5 542.4)"/><ellipse cx="520.5" cy="542.4" rx="3.3" ry="6.6" fill="#fff" stroke="#1c1c1c" stroke-width="1.1" transform="rotate(-18.9 520.5 542.4)"/><polygon points="519.1,549.8 522.6,548.6 518.4,536.2 514.9,537.4" fill="#fff" stroke="none" stroke-width="0" stroke-linejoin="round"/><line x1="519.1" y1="549.8" x2="522.6" y2="548.6" stroke="#1c1c1c" stroke-width="1.1"/><line x1="514.9" y1="537.4" x2="518.4" y2="536.2" stroke="#1c1c1c" stroke-width="1.1"/><ellipse cx="517" cy="543.6" rx="3.3" ry="6.6" fill="#fff" stroke="#1c1c1c" stroke-width="1.1" transform="rotate(-18.9 517 543.6)"/><ellipse cx="517" cy="543.6" rx="3.3" ry="6.6" fill="#fff" stroke="#111" stroke-width="1.6" transform="rotate(-20 517 543.6)"/><ellipse cx="517" cy="543.6" rx="1.8" ry="3.8" fill="#999" stroke="#222" stroke-width="1.0" transform="rotate(-20 517 543.6)"/><ellipse cx="575" cy="563.8" rx="3.1" ry="6.3" fill="#fff" stroke="#1c1c1c" stroke-width="1.1" transform="rotate(-19.3 575 563.8)"/><polygon points="549.1,579.5 577.1,569.7 572.9,557.9 544.9,567.7" fill="#fff" stroke="none" stroke-width="0" stroke-linejoin="round"/><line x1="549.1" y1="579.5" x2="577.1" y2="569.7" stroke="#1c1c1c" stroke-width="1.1"/><line x1="544.9" y1="567.7" x2="572.9" y2="557.9" stroke="#1c1c1c" stroke-width="1.1"/><ellipse cx="547" cy="573.6" rx="3.1" ry="6.3" fill="#fff" stroke="#1c1c1c" stroke-width="1.1" transform="rotate(-19.3 547 573.6)"/><ellipse cx="547" cy="573.6" rx="2.6" ry="5.2" fill="#fff" stroke="#1c1c1c" stroke-width="1.1" transform="rotate(-20 547 573.6)"/><polygon points="543.3,580.5 548.8,578.5 545.2,568.7 539.7,570.7" fill="#fff" stroke="none" stroke-width="0" stroke-linejoin="round"/><line x1="543.3" y1="580.5" x2="548.8" y2="578.5" stroke="#1c1c1c" stroke-width="1.1"/><line x1="539.7" y1="570.7" x2="545.2" y2="568.7" stroke="#1c1c1c" stroke-width="1.1"/><ellipse cx="541.5" cy="575.6" rx="2.6" ry="5.2" fill="#fff" stroke="#1c1c1c" stroke-width="1.1" transform="rotate(-20 541.5 575.6)"/><ellipse cx="541.5" cy="575.6" rx="3.3" ry="6.6" fill="#fff" stroke="#1c1c1c" stroke-width="1.1" transform="rotate(-18.9 541.5 575.6)"/><polygon points="540.1,583 543.6,581.8 539.4,569.4 535.9,570.6" fill="#fff" stroke="none" stroke-width="0" stroke-linejoin="round"/><line x1="540.1" y1="583" x2="543.6" y2="581.8" stroke="#1c1c1c" stroke-width="1.1"/><line x1="535.9" y1="570.6" x2="539.4" y2="569.4" stroke="#1c1c1c" stroke-width="1.1"/><ellipse cx="538" cy="576.8" rx="3.3" ry="6.6" fill="#fff" stroke="#1c1c1c" stroke-width="1.1" transform="rotate(-18.9 538 576.8)"/><ellipse cx="538" cy="576.8" rx="3.3" ry="6.6" fill="#fff" stroke="#111" stroke-width="1.6" transform="rotate(-20 538 576.8)"/><ellipse cx="538" cy="576.8" rx="1.8" ry="3.8" fill="#999" stroke="#222" stroke-width="1.0" transform="rotate(-20 538 576.8)"/><ellipse cx="564" cy="538.4" rx="3.1" ry="6.3" fill="#fff" stroke="#1c1c1c" stroke-width="1.1" transform="rotate(-19.3 564 538.4)"/><polygon points="538.1,554.1 566.1,544.3 561.9,532.5 533.9,542.3" fill="#fff" stroke="none" stroke-width="0" stroke-linejoin="round"/><line x1="538.1" y1="554.1" x2="566.1" y2="544.3" stroke="#1c1c1c" stroke-width="1.1"/><line x1="533.9" y1="542.3" x2="561.9" y2="532.5" stroke="#1c1c1c" stroke-width="1.1"/><ellipse cx="536" cy="548.2" rx="3.1" ry="6.3" fill="#fff" stroke="#1c1c1c" stroke-width="1.1" transform="rotate(-19.3 536 548.2)"/><ellipse cx="536" cy="548.2" rx="2.6" ry="5.2" fill="#fff" stroke="#1c1c1c" stroke-width="1.1" transform="rotate(-20 536 548.2)"/><polygon points="532.3,555.1 537.8,553.1 534.2,543.3 528.7,545.3" fill="#fff" stroke="none" stroke-width="0" stroke-linejoin="round"/><line x1="532.3" y1="555.1" x2="537.8" y2="553.1" stroke="#1c1c1c" stroke-width="1.1"/><line x1="528.7" y1="545.3" x2="534.2" y2="543.3" stroke="#1c1c1c" stroke-width="1.1"/><ellipse cx="530.5" cy="550.2" rx="2.6" ry="5.2" fill="#fff" stroke="#1c1c1c" stroke-width="1.1" transform="rotate(-20 530.5 550.2)"/><ellipse cx="530.5" cy="550.2" rx="3.3" ry="6.6" fill="#fff" stroke="#1c1c1c" stroke-width="1.1" transform="rotate(-18.9 530.5 550.2)"/><polygon points="529.1,557.6 532.6,556.4 528.4,544 524.9,545.2" fill="#fff" stroke="none" stroke-width="0" stroke-linejoin="round"/><line x1="529.1" y1="557.6" x2="532.6" y2="556.4" stroke="#1c1c1c" stroke-width="1.1"/><line x1="524.9" y1="545.2" x2="528.4" y2="544" stroke="#1c1c1c" stroke-width="1.1"/><ellipse cx="527" cy="551.4" rx="3.3" ry="6.6" fill="#fff" stroke="#1c1c1c" stroke-width="1.1" transform="rotate(-18.9 527 551.4)"/><ellipse cx="527" cy="551.4" rx="3.3" ry="6.6" fill="#fff" stroke="#111" stroke-width="1.6" transform="rotate(-20 527 551.4)"/><ellipse cx="527" cy="551.4" rx="1.8" ry="3.8" fill="#999" stroke="#222" stroke-width="1.0" transform="rotate(-20 527 551.4)"/><ellipse cx="571.7" cy="550" rx="3.1" ry="6.3" fill="#fff" stroke="#1c1c1c" stroke-width="1.1" transform="rotate(-19.3 571.7 550)"/><polygon points="545.8,565.7 573.8,555.9 569.6,544.1 541.6,553.9" fill="#fff" stroke="none" stroke-width="0" stroke-linejoin="round"/><line x1="545.8" y1="565.7" x2="573.8" y2="555.9" stroke="#1c1c1c" stroke-width="1.1"/><line x1="541.6" y1="553.9" x2="569.6" y2="544.1" stroke="#1c1c1c" stroke-width="1.1"/><ellipse cx="543.7" cy="559.8" rx="3.1" ry="6.3" fill="#fff" stroke="#1c1c1c" stroke-width="1.1" transform="rotate(-19.3 543.7 559.8)"/><ellipse cx="543.7" cy="559.8" rx="2.6" ry="5.2" fill="#fff" stroke="#1c1c1c" stroke-width="1.1" transform="rotate(-20 543.7 559.8)"/><polygon points="540,566.7 545.5,564.7 541.9,554.9 536.4,556.9" fill="#fff" stroke="none" stroke-width="0" stroke-linejoin="round"/><line x1="540" y1="566.7" x2="545.5" y2="564.7" stroke="#1c1c1c" stroke-width="1.1"/><line x1="536.4" y1="556.9" x2="541.9" y2="554.9" stroke="#1c1c1c" stroke-width="1.1"/><ellipse cx="538.2" cy="561.8" rx="2.6" ry="5.2" fill="#fff" stroke="#1c1c1c" stroke-width="1.1" transform="rotate(-20 538.2 561.8)"/><ellipse cx="538.2" cy="561.8" rx="3.3" ry="6.6" fill="#fff" stroke="#1c1c1c" stroke-width="1.1" transform="rotate(-18.9 538.2 561.8)"/><polygon points="536.8,569.2 540.3,568 536.1,555.6 532.6,556.8" fill="#fff" stroke="none" stroke-width="0" stroke-linejoin="round"/><line x1="536.8" y1="569.2" x2="540.3" y2="568" stroke="#1c1c1c" stroke-width="1.1"/><line x1="532.6" y1="556.8" x2="536.1" y2="555.6" stroke="#1c1c1c" stroke-width="1.1"/><ellipse cx="534.7" cy="563" rx="3.3" ry="6.6" fill="#fff" stroke="#1c1c1c" stroke-width="1.1" transform="rotate(-18.9 534.7 563)"/><ellipse cx="534.7" cy="563" rx="3.3" ry="6.6" fill="#fff" stroke="#111" stroke-width="1.6" transform="rotate(-20 534.7 563)"/><ellipse cx="534.7" cy="563" rx="1.8" ry="3.8" fill="#999" stroke="#222" stroke-width="1.0" transform="rotate(-20 534.7 563)"/><ellipse cx="607" cy="536" rx="21" ry="36" fill="#fff" stroke="#1c1c1c" stroke-width="1.2" transform="rotate(-22 607 536)"/><ellipse cx="611" cy="534" rx="18" ry="33" fill="none" stroke="#1c1c1c" stroke-width="0.6" transform="rotate(-22 611 534)"/><ellipse cx="610" cy="537" rx="8" ry="15" fill="#fff" stroke="#1c1c1c" stroke-width="1.0" transform="rotate(-22 610 537)"/><ellipse cx="615.3" cy="540.5" rx="2.5" ry="4" fill="#fff" stroke="#1c1c1c" stroke-width="0.8" transform="rotate(-22 615.3 540.5)"/><ellipse cx="612.4" cy="555.9" rx="2.5" ry="4" fill="#fff" stroke="#1c1c1c" stroke-width="0.8" transform="rotate(-22 612.4 555.9)"/><ellipse cx="607" cy="562" rx="2.5" ry="4" fill="#fff" stroke="#1c1c1c" stroke-width="0.8" transform="rotate(-22 607 562)"/><ellipse cx="601.6" cy="555.9" rx="2.5" ry="4" fill="#fff" stroke="#1c1c1c" stroke-width="0.8" transform="rotate(-22 601.6 555.9)"/><ellipse cx="598.7" cy="540.5" rx="2.5" ry="4" fill="#fff" stroke="#1c1c1c" stroke-width="0.8" transform="rotate(-22 598.7 540.5)"/><ellipse cx="599.7" cy="523" rx="2.5" ry="4" fill="#fff" stroke="#1c1c1c" stroke-width="0.8" transform="rotate(-22 599.7 523)"/><ellipse cx="604.1" cy="511.6" rx="2.5" ry="4" fill="#fff" stroke="#1c1c1c" stroke-width="0.8" transform="rotate(-22 604.1 511.6)"/><ellipse cx="609.9" cy="511.6" rx="2.5" ry="4" fill="#fff" stroke="#1c1c1c" stroke-width="0.8" transform="rotate(-22 609.9 511.6)"/><ellipse cx="614.3" cy="523" rx="2.5" ry="4" fill="#fff" stroke="#1c1c1c" stroke-width="0.8" transform="rotate(-22 614.3 523)"/><path d="M642,505 C650,497 662,503 664,515 C666,528 660,537 650,537 C642,537 636,528 637,518 C637,512 639,508 642,505 Z" fill="#fff" stroke="#1c1c1c" stroke-width="1.1" stroke-linejoin="round" stroke-linecap="round"/><ellipse cx="643" cy="520" rx="6" ry="11" fill="#eee" stroke="#1c1c1c" stroke-width="1.0" transform="rotate(-15 643 520)"/><line x1="639" y1="513" x2="647" y2="514" stroke="#1c1c1c" stroke-width="0.6"/><line x1="639" y1="516.5" x2="647" y2="517.5" stroke="#1c1c1c" stroke-width="0.6"/><line x1="639" y1="520" x2="647" y2="521" stroke="#1c1c1c" stroke-width="0.6"/><line x1="639" y1="523.5" x2="647" y2="524.5" stroke="#1c1c1c" stroke-width="0.6"/><line x1="639" y1="527" x2="647" y2="528" stroke="#1c1c1c" stroke-width="0.6"/><ellipse cx="738" cy="488" rx="16.8" ry="35" fill="#fff" stroke="#1c1c1c" stroke-width="1.1" transform="rotate(-14.9 738 488)"/><polygon points="702,533.8 747,521.8 729,454.2 684,466.2" fill="#fff" stroke="none" stroke-width="0" stroke-linejoin="round"/><line x1="702" y1="533.8" x2="747" y2="521.8" stroke="#1c1c1c" stroke-width="1.1"/><line x1="684" y1="466.2" x2="729" y2="454.2" stroke="#1c1c1c" stroke-width="1.1"/><ellipse cx="693" cy="500" rx="16.8" ry="35" fill="#fff" stroke="#1c1c1c" stroke-width="1.1" transform="rotate(-14.9 693 500)"/><ellipse cx="693" cy="500" rx="13" ry="29" fill="none" stroke="#1c1c1c" stroke-width="0.7" transform="rotate(-14 693 500)"/><ellipse cx="696" cy="500" rx="7" ry="12" fill="#fff" stroke="#1c1c1c" stroke-width="1.0" transform="rotate(-14 696 500)"/><line x1="691" y1="492" x2="700" y2="492" stroke="#1c1c1c" stroke-width="0.6"/><line x1="691" y1="495" x2="700" y2="495" stroke="#1c1c1c" stroke-width="0.6"/><line x1="691" y1="498" x2="700" y2="498" stroke="#1c1c1c" stroke-width="0.6"/><line x1="691" y1="501" x2="700" y2="501" stroke="#1c1c1c" stroke-width="0.6"/><line x1="691" y1="504" x2="700" y2="504" stroke="#1c1c1c" stroke-width="0.6"/><line x1="691" y1="507" x2="700" y2="507" stroke="#1c1c1c" stroke-width="0.6"/><ellipse cx="697.8" cy="500" rx="3" ry="4.5" fill="none" stroke="#1c1c1c" stroke-width="0.9" transform="rotate(-14 697.8 500)"/><ellipse cx="696.7" cy="514.8" rx="3" ry="4.5" fill="none" stroke="#1c1c1c" stroke-width="0.9" transform="rotate(-14 696.7 514.8)"/><ellipse cx="693.8" cy="522.7" rx="3" ry="4.5" fill="none" stroke="#1c1c1c" stroke-width="0.9" transform="rotate(-14 693.8 522.7)"/><ellipse cx="690.6" cy="519.9" rx="3" ry="4.5" fill="none" stroke="#1c1c1c" stroke-width="0.9" transform="rotate(-14 690.6 519.9)"/><ellipse cx="688.5" cy="507.9" rx="3" ry="4.5" fill="none" stroke="#1c1c1c" stroke-width="0.9" transform="rotate(-14 688.5 507.9)"/><ellipse cx="688.5" cy="492.1" rx="3" ry="4.5" fill="none" stroke="#1c1c1c" stroke-width="0.9" transform="rotate(-14 688.5 492.1)"/><ellipse cx="690.6" cy="480.1" rx="3" ry="4.5" fill="none" stroke="#1c1c1c" stroke-width="0.9" transform="rotate(-14 690.6 480.1)"/><ellipse cx="693.8" cy="477.3" rx="3" ry="4.5" fill="none" stroke="#1c1c1c" stroke-width="0.9" transform="rotate(-14 693.8 477.3)"/><ellipse cx="696.7" cy="485.2" rx="3" ry="4.5" fill="none" stroke="#1c1c1c" stroke-width="0.9" transform="rotate(-14 696.7 485.2)"/><ellipse cx="766" cy="466" rx="1.1" ry="1.8" fill="#fff" stroke="#1c1c1c" stroke-width="1.1" transform="rotate(-18.4 766 466)"/><polygon points="766.6,467.7 793.6,458.7 792.4,455.3 765.4,464.3" fill="#fff" stroke="none" stroke-width="0" stroke-linejoin="round"/><line x1="766.6" y1="467.7" x2="793.6" y2="458.7" stroke="#1c1c1c" stroke-width="1.1"/><line x1="765.4" y1="464.3" x2="792.4" y2="455.3" stroke="#1c1c1c" stroke-width="1.1"/><ellipse cx="793" cy="457" rx="1.1" ry="1.8" fill="#fff" stroke="#1c1c1c" stroke-width="1.1" transform="rotate(-18.4 793 457)"/><ellipse cx="761" cy="478" rx="1.1" ry="1.8" fill="#fff" stroke="#1c1c1c" stroke-width="1.1" transform="rotate(-19.8 761 478)"/><polygon points="761.6,479.7 786.6,470.7 785.4,467.3 760.4,476.3" fill="#fff" stroke="none" stroke-width="0" stroke-linejoin="round"/><line x1="761.6" y1="479.7" x2="786.6" y2="470.7" stroke="#1c1c1c" stroke-width="1.1"/><line x1="760.4" y1="476.3" x2="785.4" y2="467.3" stroke="#1c1c1c" stroke-width="1.1"/><ellipse cx="786" cy="469" rx="1.1" ry="1.8" fill="#fff" stroke="#1c1c1c" stroke-width="1.1" transform="rotate(-19.8 786 469)"/><ellipse cx="771" cy="486" rx="1.1" ry="1.8" fill="#fff" stroke="#1c1c1c" stroke-width="1.1" transform="rotate(-17.2 771 486)"/><polygon points="771.5,487.7 800.5,478.7 799.5,475.3 770.5,484.3" fill="#fff" stroke="none" stroke-width="0" stroke-linejoin="round"/><line x1="771.5" y1="487.7" x2="800.5" y2="478.7" stroke="#1c1c1c" stroke-width="1.1"/><line x1="770.5" y1="484.3" x2="799.5" y2="475.3" stroke="#1c1c1c" stroke-width="1.1"/><ellipse cx="800" cy="477" rx="1.1" ry="1.8" fill="#fff" stroke="#1c1c1c" stroke-width="1.1" transform="rotate(-17.2 800 477)"/><ellipse cx="811" cy="461.5" rx="7.5" ry="12.3" fill="none" stroke="#1c1c1c" stroke-width="1.1" transform="rotate(-15 811 461.5)"/><ellipse cx="811" cy="461.5" rx="5.3" ry="9.6" fill="none" stroke="#1c1c1c" stroke-width="1.0" transform="rotate(-15 811 461.5)"/><ellipse cx="827" cy="456" rx="5" ry="12" fill="#fff" stroke="#1c1c1c" stroke-width="1.7" transform="rotate(-20.6 827 456)"/><ellipse cx="833" cy="453.8" rx="5" ry="12" fill="#fff" stroke="#1c1c1c" stroke-width="1.7" transform="rotate(-20.6 833 453.8)"/><ellipse cx="839" cy="451.5" rx="5" ry="12" fill="#fff" stroke="#1c1c1c" stroke-width="1.7" transform="rotate(-20.6 839 451.5)"/><ellipse cx="845" cy="449.2" rx="5" ry="12" fill="#fff" stroke="#1c1c1c" stroke-width="1.7" transform="rotate(-20.6 845 449.2)"/><ellipse cx="851" cy="447" rx="5" ry="12" fill="#fff" stroke="#1c1c1c" stroke-width="1.7" transform="rotate(-20.6 851 447)"/><ellipse cx="868.3" cy="441.5" rx="7.5" ry="12.5" fill="none" stroke="#1c1c1c" stroke-width="1.1" transform="rotate(-15 868.3 441.5)"/><ellipse cx="868.3" cy="441.5" rx="5.6" ry="10.2" fill="none" stroke="#1c1c1c" stroke-width="1.0" transform="rotate(-15 868.3 441.5)"/><polygon points="865,429 870,428 871,432 866,433" fill="#fff" stroke="#1c1c1c" stroke-width="0.8" stroke-linejoin="round"/><ellipse cx="906" cy="427" rx="22" ry="37" fill="#fff" stroke="#1c1c1c" stroke-width="1.2" transform="rotate(-22 906 427)"/><ellipse cx="908" cy="426" rx="11" ry="20" fill="#fff" stroke="#1c1c1c" stroke-width="1.0" transform="rotate(-22 908 426)"/><ellipse cx="914.5" cy="436.9" rx="2.2" ry="3.4" fill="none" stroke="#1c1c1c" stroke-width="0.8" transform="rotate(-22 914.5 436.9)"/><ellipse cx="909.8" cy="453.3" rx="2.2" ry="3.4" fill="none" stroke="#1c1c1c" stroke-width="0.8" transform="rotate(-22 909.8 453.3)"/><ellipse cx="902.9" cy="454.3" rx="2.2" ry="3.4" fill="none" stroke="#1c1c1c" stroke-width="0.8" transform="rotate(-22 902.9 454.3)"/><ellipse cx="897.8" cy="439.3" rx="2.2" ry="3.4" fill="none" stroke="#1c1c1c" stroke-width="0.8" transform="rotate(-22 897.8 439.3)"/><ellipse cx="897.5" cy="417.1" rx="2.2" ry="3.4" fill="none" stroke="#1c1c1c" stroke-width="0.8" transform="rotate(-22 897.5 417.1)"/><ellipse cx="902.2" cy="400.7" rx="2.2" ry="3.4" fill="none" stroke="#1c1c1c" stroke-width="0.8" transform="rotate(-22 902.2 400.7)"/><ellipse cx="909.1" cy="399.7" rx="2.2" ry="3.4" fill="none" stroke="#1c1c1c" stroke-width="0.8" transform="rotate(-22 909.1 399.7)"/><ellipse cx="914.2" cy="414.7" rx="2.2" ry="3.4" fill="none" stroke="#1c1c1c" stroke-width="0.8" transform="rotate(-22 914.2 414.7)"/><polygon points="884,420 888,419 888,424 885,424" fill="#fff" stroke="#1c1c1c" stroke-width="0.8" stroke-linejoin="round"/><polygon points="920,448 925,445 926,450 922,452" fill="#fff" stroke="#1c1c1c" stroke-width="0.8" stroke-linejoin="round"/><line x1="308.2" y1="535.7" x2="308.2" y2="560.8" stroke="#454545" stroke-width="1.0"/><line x1="343.3" y1="555.5" x2="343.3" y2="581" stroke="#454545" stroke-width="1.0"/><line x1="343.3" y1="567" x2="369.4" y2="600" stroke="#454545" stroke-width="1.0"/><line x1="403" y1="587.2" x2="403" y2="622" stroke="#454545" stroke-width="1.0"/><line x1="463.5" y1="632.7" x2="463.5" y2="651.9" stroke="#454545" stroke-width="1.0"/><line x1="534.9" y1="677.3" x2="534.9" y2="707.1" stroke="#454545" stroke-width="1.0"/><line x1="579.5" y1="706" x2="579.5" y2="732.5" stroke="#454545" stroke-width="1.0"/><line x1="610.9" y1="770" x2="610.9" y2="813" stroke="#454545" stroke-width="1.0"/><line x1="648" y1="790.9" x2="648" y2="835.3" stroke="#454545" stroke-width="1.0"/><line x1="674.8" y1="802.6" x2="674.8" y2="849.6" stroke="#454545" stroke-width="1.0"/><line x1="696.2" y1="778.6" x2="696.2" y2="801.3" stroke="#454545" stroke-width="1.0"/><line x1="723.6" y1="794.8" x2="723.6" y2="824.8" stroke="#454545" stroke-width="1.0"/><line x1="746.6" y1="809.2" x2="746.6" y2="824.8" stroke="#454545" stroke-width="1.0"/><line x1="779.2" y1="828.7" x2="779.2" y2="844.4" stroke="#454545" stroke-width="1.0"/><line x1="819.7" y1="851" x2="819.7" y2="878.3" stroke="#454545" stroke-width="1.0"/><line x1="709.6" y1="827.4" x2="709.6" y2="870.5" stroke="#454545" stroke-width="1.0"/><line x1="747.9" y1="862.7" x2="747.9" y2="891.4" stroke="#454545" stroke-width="1.0"/><line x1="794.4" y1="901.8" x2="794.4" y2="924" stroke="#454545" stroke-width="1.0"/><polyline points="802.7,891.4 826.2,920.1 826.2,943.6" fill="none" stroke="#454545" stroke-width="1" stroke-linejoin="round"/><line x1="420" y1="650" x2="430" y2="655" stroke="#777" stroke-width="0.8" stroke-dasharray="3,3"/><line x1="488" y1="690" x2="505" y2="697" stroke="#777" stroke-width="0.8" stroke-dasharray="3,3"/><ellipse cx="309" cy="578.5" rx="15" ry="17" fill="#fff" stroke="#1c1c1c" stroke-width="1.1" transform="rotate(-20 309 578.5)"/><ellipse cx="312.5" cy="577.5" rx="10.5" ry="13.5" fill="#fff" stroke="#1c1c1c" stroke-width="0.9" transform="rotate(-20 312.5 577.5)"/><path d="M308.0,564.5 C301.0,568.5 300.0,582.5 305.0,590.5" fill="none" stroke="#1c1c1c" stroke-width="0.7" stroke-linejoin="round" stroke-linecap="round"/><polygon points="293,575.5 299,573.5 299.5,581.5 293.5,582.5" fill="#f9fbf9" stroke="#1c1c1c" stroke-width="0.8" stroke-linejoin="round"/><ellipse cx="335.7" cy="600.1" rx="12.5" ry="16.5" fill="#fff" stroke="#1c1c1c" stroke-width="1.1" transform="rotate(-12.1 335.7 600.1)"/><polygon points="339.2,616.2 346.2,614.7 339.2,582.5 332.2,584" fill="#fff" stroke="none" stroke-width="0" stroke-linejoin="round"/><line x1="339.2" y1="616.2" x2="346.2" y2="614.7" stroke="#1c1c1c" stroke-width="1.1"/><line x1="332.2" y1="584" x2="339.2" y2="582.5" stroke="#1c1c1c" stroke-width="1.1"/><ellipse cx="342.7" cy="598.6" rx="12.5" ry="16.5" fill="#fff" stroke="#1c1c1c" stroke-width="1.1" transform="rotate(-12.1 342.7 598.6)"/><ellipse cx="339.7" cy="599.4" rx="12.5" ry="16.5" fill="none" stroke="#999" stroke-width="0.6" transform="rotate(-20 339.7 599.4)"/><ellipse cx="342.7" cy="598.6" rx="12.5" ry="16.5" fill="none" stroke="#111" stroke-width="2.0" transform="rotate(-20 342.7 598.6)"/><ellipse cx="368" cy="619.1" rx="12.5" ry="16.5" fill="#fff" stroke="#1c1c1c" stroke-width="1.1" transform="rotate(-12.1 368 619.1)"/><polygon points="371.5,635.2 378.5,633.7 371.5,601.5 364.5,603" fill="#fff" stroke="none" stroke-width="0" stroke-linejoin="round"/><line x1="371.5" y1="635.2" x2="378.5" y2="633.7" stroke="#1c1c1c" stroke-width="1.1"/><line x1="364.5" y1="603" x2="371.5" y2="601.5" stroke="#1c1c1c" stroke-width="1.1"/><ellipse cx="375" cy="617.6" rx="12.5" ry="16.5" fill="#fff" stroke="#1c1c1c" stroke-width="1.1" transform="rotate(-12.1 375 617.6)"/><ellipse cx="372" cy="618.4" rx="12.5" ry="16.5" fill="none" stroke="#999" stroke-width="0.6" transform="rotate(-20 372 618.4)"/><ellipse cx="375" cy="617.6" rx="12.5" ry="16.5" fill="none" stroke="#111" stroke-width="2.0" transform="rotate(-20 375 617.6)"/><ellipse cx="404.5" cy="633" rx="15" ry="17" fill="#fff" stroke="#1c1c1c" stroke-width="1.1" transform="rotate(-20 404.5 633)"/><ellipse cx="408" cy="632" rx="10.5" ry="13.5" fill="#fff" stroke="#1c1c1c" stroke-width="0.9" transform="rotate(-20 408 632)"/><path d="M403.5,619.0 C396.5,623.0 395.5,637.0 400.5,645.0" fill="none" stroke="#1c1c1c" stroke-width="0.7" stroke-linejoin="round" stroke-linecap="round"/><polygon points="388.5,630 394.5,628 395,636 389,637" fill="#f9fbf9" stroke="#1c1c1c" stroke-width="0.8" stroke-linejoin="round"/><ellipse cx="437" cy="657" rx="9.4" ry="13" fill="#fff" stroke="#1c1c1c" stroke-width="1.1" transform="rotate(29.1 437 657)"/><polygon points="430.7,668.4 475.7,693.4 488.3,670.6 443.3,645.6" fill="#fff" stroke="none" stroke-width="0" stroke-linejoin="round"/><line x1="430.7" y1="668.4" x2="475.7" y2="693.4" stroke="#1c1c1c" stroke-width="1.1"/><line x1="443.3" y1="645.6" x2="488.3" y2="670.6" stroke="#1c1c1c" stroke-width="1.1"/><ellipse cx="482" cy="682" rx="9.4" ry="13" fill="#fff" stroke="#1c1c1c" stroke-width="1.1" transform="rotate(29.1 482 682)"/><ellipse cx="482" cy="682" rx="7.5" ry="10" fill="none" stroke="#1c1c1c" stroke-width="1.0" transform="rotate(-30 482 682)"/><ellipse cx="509" cy="697" rx="1.9" ry="3.2" fill="#fff" stroke="#1c1c1c" stroke-width="1.1" transform="rotate(30.8 509 697)"/><polygon points="507.4,699.7 564.4,733.7 567.6,728.3 510.6,694.3" fill="#fff" stroke="none" stroke-width="0" stroke-linejoin="round"/><line x1="507.4" y1="699.7" x2="564.4" y2="733.7" stroke="#1c1c1c" stroke-width="1.1"/><line x1="510.6" y1="694.3" x2="567.6" y2="728.3" stroke="#1c1c1c" stroke-width="1.1"/><ellipse cx="566" cy="731" rx="1.9" ry="3.2" fill="#fff" stroke="#1c1c1c" stroke-width="1.1" transform="rotate(30.8 566 731)"/><ellipse cx="511" cy="698" rx="2.6" ry="4.8" fill="#fff" stroke="#1c1c1c" stroke-width="1.1" transform="rotate(31 511 698)"/><polygon points="503.5,699.1 508.5,702.1 513.5,693.9 508.5,690.9" fill="#fff" stroke="none" stroke-width="0" stroke-linejoin="round"/><line x1="503.5" y1="699.1" x2="508.5" y2="702.1" stroke="#1c1c1c" stroke-width="1.1"/><line x1="508.5" y1="690.9" x2="513.5" y2="693.9" stroke="#1c1c1c" stroke-width="1.1"/><ellipse cx="506" cy="695" rx="2.6" ry="4.8" fill="#fff" stroke="#1c1c1c" stroke-width="1.1" transform="rotate(31 506 695)"/><line x1="547.4" y1="723.8" x2="550.4" y2="717.8" stroke="#1c1c1c" stroke-width="1.2"/><line x1="550.8" y1="725.8" x2="553.8" y2="719.8" stroke="#1c1c1c" stroke-width="1.2"/><line x1="554.2" y1="727.9" x2="557.2" y2="721.9" stroke="#1c1c1c" stroke-width="1.2"/><line x1="557.7" y1="729.9" x2="560.7" y2="723.9" stroke="#1c1c1c" stroke-width="1.2"/><line x1="561.1" y1="732" x2="564.1" y2="726" stroke="#1c1c1c" stroke-width="1.2"/><line x1="490" y1="712" x2="492" y2="711" stroke="#1c1c1c" stroke-width="1.4"/><line x1="504" y1="710" x2="507" y2="709" stroke="#1c1c1c" stroke-width="1.4"/><ellipse cx="584" cy="743" rx="4.5" ry="9" fill="#fff" stroke="#1c1c1c" stroke-width="1.1" transform="rotate(26.6 584 743)"/><polygon points="576,749 580,751 588,735 584,733" fill="#fff" stroke="none" stroke-width="0" stroke-linejoin="round"/><line x1="576" y1="749" x2="580" y2="751" stroke="#1c1c1c" stroke-width="1.1"/><line x1="584" y1="733" x2="588" y2="735" stroke="#1c1c1c" stroke-width="1.1"/><ellipse cx="580" cy="741" rx="4.5" ry="9" fill="#fff" stroke="#1c1c1c" stroke-width="1.1" transform="rotate(26.6 580 741)"/><ellipse cx="584" cy="743" rx="3" ry="6" fill="#fff" stroke="#1c1c1c" stroke-width="1.1" transform="rotate(28.6 584 743)"/><polygon points="581.1,748.3 592.1,754.3 597.9,743.7 586.9,737.7" fill="#fff" stroke="none" stroke-width="0" stroke-linejoin="round"/><line x1="581.1" y1="748.3" x2="592.1" y2="754.3" stroke="#1c1c1c" stroke-width="1.1"/><line x1="586.9" y1="737.7" x2="597.9" y2="743.7" stroke="#1c1c1c" stroke-width="1.1"/><ellipse cx="595" cy="749" rx="3" ry="6" fill="#fff" stroke="#1c1c1c" stroke-width="1.1" transform="rotate(28.6 595 749)"/><ellipse cx="580" cy="741" rx="3" ry="5" fill="none" stroke="#1c1c1c" stroke-width="0.8" transform="rotate(-30 580 741)"/><ellipse cx="602" cy="753" rx="2.5" ry="4.2" fill="#fff" stroke="#1c1c1c" stroke-width="1.1" transform="rotate(31.3 602 753)"/><polygon points="599.8,756.6 622.8,770.6 627.2,763.4 604.2,749.4" fill="#fff" stroke="none" stroke-width="0" stroke-linejoin="round"/><line x1="599.8" y1="756.6" x2="622.8" y2="770.6" stroke="#1c1c1c" stroke-width="1.1"/><line x1="604.2" y1="749.4" x2="627.2" y2="763.4" stroke="#1c1c1c" stroke-width="1.1"/><ellipse cx="625" cy="767" rx="2.5" ry="4.2" fill="#fff" stroke="#1c1c1c" stroke-width="1.1" transform="rotate(31.3 625 767)"/><ellipse cx="636" cy="775" rx="4.4" ry="11" fill="#d8d8d8" stroke="none" stroke-width="0" transform="rotate(32.7 636 775)"/><polygon points="630.1,784.3 658.1,802.3 669.9,783.7 641.9,765.7" fill="#d8d8d8" stroke="none" stroke-width="0" stroke-linejoin="round"/><line x1="630.1" y1="784.3" x2="658.1" y2="802.3" stroke="none" stroke-width="0"/><line x1="641.9" y1="765.7" x2="669.9" y2="783.7" stroke="none" stroke-width="0"/><ellipse cx="664" cy="793" rx="4.4" ry="11" fill="#d8d8d8" stroke="none" stroke-width="0" transform="rotate(32.7 664 793)"/><ellipse cx="636" cy="775" rx="4.4" ry="11" fill="none" stroke="#111" stroke-width="1.6" transform="rotate(32.7 636 775)"/><ellipse cx="640" cy="777.6" rx="4.4" ry="11" fill="none" stroke="#111" stroke-width="1.6" transform="rotate(32.7 640 777.6)"/><ellipse cx="644" cy="780.1" rx="4.4" ry="11" fill="none" stroke="#111" stroke-width="1.6" transform="rotate(32.7 644 780.1)"/><ellipse cx="648" cy="782.7" rx="4.4" ry="11" fill="none" stroke="#111" stroke-width="1.6" transform="rotate(32.7 648 782.7)"/><ellipse cx="652" cy="785.3" rx="4.4" ry="11" fill="none" stroke="#111" stroke-width="1.6" transform="rotate(32.7 652 785.3)"/><ellipse cx="656" cy="787.9" rx="4.4" ry="11" fill="none" stroke="#111" stroke-width="1.6" transform="rotate(32.7 656 787.9)"/><ellipse cx="660" cy="790.4" rx="4.4" ry="11" fill="none" stroke="#111" stroke-width="1.6" transform="rotate(32.7 660 790.4)"/><ellipse cx="664" cy="793" rx="4.4" ry="11" fill="none" stroke="#111" stroke-width="1.6" transform="rotate(32.7 664 793)"/><ellipse cx="664" cy="793" rx="4.4" ry="11" fill="#ddd" stroke="#1c1c1c" stroke-width="1.2" transform="rotate(-33 664 793)"/><ellipse cx="672" cy="799" rx="4.2" ry="8.5" fill="#fff" stroke="#1c1c1c" stroke-width="1.1" transform="rotate(26.6 672 799)"/><polygon points="668.2,806.6 676.2,810.6 683.8,795.4 675.8,791.4" fill="#fff" stroke="none" stroke-width="0" stroke-linejoin="round"/><line x1="668.2" y1="806.6" x2="676.2" y2="810.6" stroke="#1c1c1c" stroke-width="1.1"/><line x1="675.8" y1="791.4" x2="683.8" y2="795.4" stroke="#1c1c1c" stroke-width="1.1"/><ellipse cx="680" cy="803" rx="4.2" ry="8.5" fill="#fff" stroke="#1c1c1c" stroke-width="1.1" transform="rotate(26.6 680 803)"/><ellipse cx="672" cy="799" rx="2.2" ry="4.5" fill="#fff" stroke="#1c1c1c" stroke-width="1.1" transform="rotate(26.6 672 799)"/><polygon points="666,801 670,803 674,795 670,793" fill="#fff" stroke="none" stroke-width="0" stroke-linejoin="round"/><line x1="666" y1="801" x2="670" y2="803" stroke="#1c1c1c" stroke-width="1.1"/><line x1="670" y1="793" x2="674" y2="795" stroke="#1c1c1c" stroke-width="1.1"/><ellipse cx="668" cy="797" rx="2.2" ry="4.5" fill="#fff" stroke="#1c1c1c" stroke-width="1.1" transform="rotate(26.6 668 797)"/><ellipse cx="680" cy="803" rx="3" ry="5" fill="#eee" stroke="#1c1c1c" stroke-width="0.8" transform="rotate(-30 680 803)"/><ellipse cx="694.4" cy="811.8" rx="8.5" ry="11" fill="none" stroke="#1c1c1c" stroke-width="1.1" transform="rotate(-25 694.4 811.8)"/><ellipse cx="694.4" cy="811.8" rx="6.3" ry="8.8" fill="none" stroke="#1c1c1c" stroke-width="1.0" transform="rotate(-25 694.4 811.8)"/><ellipse cx="709" cy="820" rx="2.8" ry="5.5" fill="#fff" stroke="#1c1c1c" stroke-width="1.1" transform="rotate(21.8 709 820)"/><polygon points="707,825.1 712,827.1 716,816.9 711,814.9" fill="#fff" stroke="none" stroke-width="0" stroke-linejoin="round"/><line x1="707" y1="825.1" x2="712" y2="827.1" stroke="#1c1c1c" stroke-width="1.1"/><line x1="711" y1="814.9" x2="716" y2="816.9" stroke="#1c1c1c" stroke-width="1.1"/><ellipse cx="714" cy="822" rx="2.8" ry="5.5" fill="#fff" stroke="#1c1c1c" stroke-width="1.1" transform="rotate(21.8 714 822)"/><ellipse cx="723.1" cy="828.7" rx="3.3" ry="4" fill="none" stroke="#1c1c1c" stroke-width="1.1"/><ellipse cx="738.3" cy="837.9" rx="11" ry="14.5" fill="none" stroke="#111" stroke-width="1.6" transform="rotate(-15 738.3 837.9)"/><ellipse cx="744" cy="855" rx="1.3" ry="2.2" fill="#ccc" stroke="#1c1c1c" stroke-width="1.1" transform="rotate(32 744 855)"/><polygon points="742.8,856.9 758.8,866.9 761.2,863.1 745.2,853.1" fill="#ccc" stroke="none" stroke-width="0" stroke-linejoin="round"/><line x1="742.8" y1="856.9" x2="758.8" y2="866.9" stroke="#1c1c1c" stroke-width="1.1"/><line x1="745.2" y1="853.1" x2="761.2" y2="863.1" stroke="#1c1c1c" stroke-width="1.1"/><ellipse cx="760" cy="865" rx="1.3" ry="2.2" fill="#ccc" stroke="#1c1c1c" stroke-width="1.1" transform="rotate(32 760 865)"/><line x1="746" y1="853" x2="745" y2="858" stroke="#1c1c1c" stroke-width="0.7"/><line x1="749" y1="854.9" x2="748" y2="859.9" stroke="#1c1c1c" stroke-width="0.7"/><line x1="752" y1="856.8" x2="751" y2="861.8" stroke="#1c1c1c" stroke-width="0.7"/><line x1="755" y1="858.7" x2="754" y2="863.7" stroke="#1c1c1c" stroke-width="0.7"/><line x1="758" y1="860.6" x2="757" y2="865.6" stroke="#1c1c1c" stroke-width="0.7"/><line x1="750" y1="846" x2="768" y2="852" stroke="#777" stroke-width="0.8" stroke-dasharray="2,2"/><line x1="748" y1="840" x2="770" y2="845" stroke="#777" stroke-width="0.8" stroke-dasharray="2,2"/><polygon points="767.5,852.2 785.8,844.4 798.8,849.6 804,873.1 796.2,884.9 777.9,891.4 766.2,886.2 763.6,870.5" fill="#fff" stroke="#1c1c1c" stroke-width="1.2" stroke-linejoin="round"/><polyline points="768,855 786,848 798,852" fill="none" stroke="#1c1c1c" stroke-width="0.7" stroke-linejoin="round"/><ellipse cx="786" cy="866" rx="7" ry="8" fill="#fff" stroke="#1c1c1c" stroke-width="0.9" transform="rotate(-20 786 866)"/><ellipse cx="787" cy="866" rx="4" ry="5" fill="#ddd" stroke="#1c1c1c" stroke-width="0.8" transform="rotate(-20 787 866)"/><ellipse cx="770" cy="858" rx="1.8" ry="2.1" fill="#fff" stroke="#1c1c1c" stroke-width="0.8"/><ellipse cx="794" cy="851" rx="1.8" ry="2.1" fill="#fff" stroke="#1c1c1c" stroke-width="0.8"/><ellipse cx="800" cy="875" rx="1.8" ry="2.1" fill="#fff" stroke="#1c1c1c" stroke-width="0.8"/><ellipse cx="783" cy="888" rx="1.8" ry="2.1" fill="#fff" stroke="#1c1c1c" stroke-width="0.8"/><ellipse cx="768" cy="882" rx="1.8" ry="2.1" fill="#fff" stroke="#1c1c1c" stroke-width="0.8"/><ellipse cx="785" cy="880" rx="1.8" ry="2.1" fill="#fff" stroke="#1c1c1c" stroke-width="0.8"/><ellipse cx="769" cy="854" rx="1.5" ry="1.5" fill="#333" stroke="#1c1c1c" stroke-width="0.6"/><ellipse cx="818.4" cy="885.7" rx="8.5" ry="11" fill="#fff" stroke="#1c1c1c" stroke-width="1.2" transform="rotate(-20 818.4 885.7)"/><ellipse cx="819" cy="885.7" rx="4" ry="5.5" fill="#fff" stroke="#1c1c1c" stroke-width="0.9" transform="rotate(-20 819 885.7)"/><ellipse cx="801.4" cy="890.1" rx="3.8" ry="4" fill="#ddd" stroke="#1c1c1c" stroke-width="1.0"/><ellipse cx="787" cy="896" rx="1.7" ry="2.8" fill="#fff" stroke="#1c1c1c" stroke-width="1.1" transform="rotate(29.1 787 896)"/><polygon points="785.6,898.4 794.6,903.4 797.4,898.6 788.4,893.6" fill="#fff" stroke="none" stroke-width="0" stroke-linejoin="round"/><line x1="785.6" y1="898.4" x2="794.6" y2="903.4" stroke="#1c1c1c" stroke-width="1.1"/><line x1="788.4" y1="893.6" x2="797.4" y2="898.6" stroke="#1c1c1c" stroke-width="1.1"/><ellipse cx="796" cy="901" rx="1.7" ry="2.8" fill="#fff" stroke="#1c1c1c" stroke-width="1.1" transform="rotate(29.1 796 901)"/><ellipse cx="796" cy="901" rx="2.2" ry="4.5" fill="#fff" stroke="#1c1c1c" stroke-width="1.1" transform="rotate(26.6 796 901)"/><polygon points="794,905 798,907 802,899 798,897" fill="#fff" stroke="none" stroke-width="0" stroke-linejoin="round"/><line x1="794" y1="905" x2="798" y2="907" stroke="#1c1c1c" stroke-width="1.1"/><line x1="798" y1="897" x2="802" y2="899" stroke="#1c1c1c" stroke-width="1.1"/><ellipse cx="800" cy="903" rx="2.2" ry="4.5" fill="#fff" stroke="#1c1c1c" stroke-width="1.1" transform="rotate(26.6 800 903)"/><polyline points="297.3,643.6 277.8,651 277.8,1092.4 294.4,1105.4" fill="none" stroke="#454545" stroke-width="1" stroke-linejoin="round"/><line x1="260.2" y1="850.1" x2="277.8" y2="850.1" stroke="#454545" stroke-width="1.0"/><polyline points="266.2,899.3 210.4,919" fill="none" stroke="#444" stroke-width="0.9" stroke-dasharray="30,5,2,5" stroke-linejoin="round"/><line x1="210.4" y1="919" x2="211.5" y2="1270" stroke="#444" stroke-width="0.9" stroke-dasharray="55,5,2,5"/><line x1="211.5" y1="1270" x2="296.6" y2="1244" stroke="#444" stroke-width="0.9" stroke-dasharray="30,5,2,5"/><line x1="330" y1="669.5" x2="372" y2="669.5" stroke="#454545" stroke-width="1.0"/><line x1="330" y1="702.7" x2="368" y2="702.7" stroke="#454545" stroke-width="1.0"/><line x1="330" y1="745.4" x2="365.6" y2="745.4" stroke="#454545" stroke-width="1.0"/><line x1="330" y1="779.6" x2="366" y2="779.6" stroke="#454545" stroke-width="1.0"/><line x1="330" y1="824.3" x2="370" y2="824.3" stroke="#454545" stroke-width="1.0"/><line x1="330" y1="847.1" x2="368" y2="847.1" stroke="#454545" stroke-width="1.0"/><line x1="330" y1="871.6" x2="370" y2="871.6" stroke="#454545" stroke-width="1.0"/><line x1="330" y1="905.7" x2="370" y2="905.7" stroke="#454545" stroke-width="1.0"/><line x1="330" y1="981.6" x2="366" y2="981.6" stroke="#454545" stroke-width="1.0"/><line x1="330" y1="1051.2" x2="368.7" y2="1051.2" stroke="#454545" stroke-width="1.0"/><line x1="330" y1="1078.3" x2="366" y2="1078.3" stroke="#454545" stroke-width="1.0"/><polyline points="330,801.2 346.5,801.2 369.6,794.6" fill="none" stroke="#454545" stroke-width="1" stroke-linejoin="round"/><polygon points="371,660 378,659 379,687 372,688" fill="#555" stroke="#1c1c1c" stroke-width="1.0" stroke-linejoin="round"/><line x1="371" y1="662" x2="379" y2="662.5" stroke="#eee" stroke-width="0.9"/><line x1="371" y1="665" x2="379" y2="665.5" stroke="#eee" stroke-width="0.9"/><line x1="371" y1="668" x2="379" y2="668.5" stroke="#eee" stroke-width="0.9"/><line x1="371" y1="671" x2="379" y2="671.5" stroke="#eee" stroke-width="0.9"/><line x1="371" y1="674" x2="379" y2="674.5" stroke="#eee" stroke-width="0.9"/><line x1="371" y1="677" x2="379" y2="677.5" stroke="#eee" stroke-width="0.9"/><line x1="371" y1="680" x2="379" y2="680.5" stroke="#eee" stroke-width="0.9"/><line x1="371" y1="683" x2="379" y2="683.5" stroke="#eee" stroke-width="0.9"/><line x1="371" y1="686" x2="379" y2="686.5" stroke="#eee" stroke-width="0.9"/><ellipse cx="375" cy="710" rx="3.6" ry="9" fill="#fff" stroke="#1c1c1c" stroke-width="1.1" transform="rotate(90 375 710)"/><polygon points="366,700 366,710 384,710 384,700" fill="#fff" stroke="none" stroke-width="0" stroke-linejoin="round"/><line x1="366" y1="700" x2="366" y2="710" stroke="#1c1c1c" stroke-width="1.1"/><line x1="384" y1="700" x2="384" y2="710" stroke="#1c1c1c" stroke-width="1.1"/><ellipse cx="375" cy="700" rx="3.6" ry="9" fill="#fff" stroke="#1c1c1c" stroke-width="1.1" transform="rotate(90 375 700)"/><ellipse cx="375" cy="700" rx="4" ry="2" fill="#999" stroke="#1c1c1c" stroke-width="0.8"/><line x1="370" y1="703" x2="370" y2="712" stroke="#1c1c1c" stroke-width="0.6"/><line x1="375" y1="703" x2="375" y2="712" stroke="#1c1c1c" stroke-width="0.6"/><line x1="380" y1="703" x2="380" y2="712" stroke="#1c1c1c" stroke-width="0.6"/><ellipse cx="375.5" cy="760" rx="3.5" ry="10" fill="#fff" stroke="#1c1c1c" stroke-width="1.1" transform="rotate(90 375.5 760)"/><polygon points="365.5,728 365.5,760 385.5,760 385.5,728" fill="#fff" stroke="none" stroke-width="0" stroke-linejoin="round"/><line x1="365.5" y1="728" x2="365.5" y2="760" stroke="#1c1c1c" stroke-width="1.1"/><line x1="385.5" y1="728" x2="385.5" y2="760" stroke="#1c1c1c" stroke-width="1.1"/><ellipse cx="375.5" cy="728" rx="3.5" ry="10" fill="#fff" stroke="#1c1c1c" stroke-width="1.1" transform="rotate(90 375.5 728)"/><ellipse cx="375.5" cy="728" rx="4" ry="1.5" fill="none" stroke="#1c1c1c" stroke-width="0.8"/><path d="M366,746 C370,749 381,749 385,746" fill="none" stroke="#1c1c1c" stroke-width="0.8" stroke-linejoin="round" stroke-linecap="round"/><polygon points="367,760 384,760 384,771 367,771" fill="#fff" stroke="#1c1c1c" stroke-width="1.0" stroke-linejoin="round"/><line x1="367" y1="762" x2="384" y2="763" stroke="#1c1c1c" stroke-width="0.9"/><line x1="367" y1="764.7" x2="384" y2="765.7" stroke="#1c1c1c" stroke-width="0.9"/><line x1="367" y1="767.4" x2="384" y2="768.4" stroke="#1c1c1c" stroke-width="0.9"/><line x1="367" y1="770.1" x2="384" y2="771.1" stroke="#1c1c1c" stroke-width="0.9"/><ellipse cx="375.5" cy="771" rx="8.5" ry="2.5" fill="#fff" stroke="#1c1c1c" stroke-width="1"/><ellipse cx="375" cy="780.6" rx="10" ry="4" fill="#fff" stroke="#1c1c1c" stroke-width="1.1"/><ellipse cx="375" cy="797" rx="2.7" ry="6" fill="#fff" stroke="#1c1c1c" stroke-width="1.1" transform="rotate(90 375 797)"/><polygon points="369,792 369,797 381,797 381,792" fill="#fff" stroke="none" stroke-width="0" stroke-linejoin="round"/><line x1="369" y1="792" x2="369" y2="797" stroke="#1c1c1c" stroke-width="1.1"/><line x1="381" y1="792" x2="381" y2="797" stroke="#1c1c1c" stroke-width="1.1"/><ellipse cx="375" cy="792" rx="2.7" ry="6" fill="#fff" stroke="#1c1c1c" stroke-width="1.1" transform="rotate(90 375 792)"/><polygon points="372,797 378,797 377,804 373,804" fill="#fff" stroke="#1c1c1c" stroke-width="0.9" stroke-linejoin="round"/><ellipse cx="375" cy="810" rx="7" ry="2.8" fill="none" stroke="#111" stroke-width="1.25"/><ellipse cx="375" cy="815.5" rx="7" ry="2.8" fill="none" stroke="#111" stroke-width="1.25"/><ellipse cx="375" cy="821" rx="7" ry="2.8" fill="none" stroke="#111" stroke-width="1.25"/><ellipse cx="375" cy="826.5" rx="7" ry="2.8" fill="none" stroke="#111" stroke-width="1.25"/><ellipse cx="375" cy="832" rx="7" ry="2.8" fill="none" stroke="#111" stroke-width="1.25"/><polygon points="372.5,841 377.5,841 378,845 372,845" fill="#fff" stroke="#1c1c1c" stroke-width="0.9" stroke-linejoin="round"/><ellipse cx="375" cy="851" rx="2.7" ry="6" fill="#fff" stroke="#1c1c1c" stroke-width="1.1" transform="rotate(90 375 851)"/><polygon points="369,846 369,851 381,851 381,846" fill="#fff" stroke="none" stroke-width="0" stroke-linejoin="round"/><line x1="369" y1="846" x2="369" y2="851" stroke="#1c1c1c" stroke-width="1.1"/><line x1="381" y1="846" x2="381" y2="851" stroke="#1c1c1c" stroke-width="1.1"/><ellipse cx="375" cy="846" rx="2.7" ry="6" fill="#fff" stroke="#1c1c1c" stroke-width="1.1" transform="rotate(90 375 846)"/><ellipse cx="375" cy="888" rx="2.2" ry="5" fill="#fff" stroke="#1c1c1c" stroke-width="1.1" transform="rotate(90 375 888)"/><polygon points="370,860 370,888 380,888 380,860" fill="#fff" stroke="none" stroke-width="0" stroke-linejoin="round"/><line x1="370" y1="860" x2="370" y2="888" stroke="#1c1c1c" stroke-width="1.1"/><line x1="380" y1="860" x2="380" y2="888" stroke="#1c1c1c" stroke-width="1.1"/><ellipse cx="375" cy="860" rx="2.2" ry="5" fill="#fff" stroke="#1c1c1c" stroke-width="1.1" transform="rotate(90 375 860)"/><line x1="370" y1="868" x2="380" y2="868" stroke="#1c1c1c" stroke-width="0.6"/><ellipse cx="374.5" cy="918" rx="1.5" ry="3" fill="#fff" stroke="#1c1c1c" stroke-width="1.1" transform="rotate(90 374.5 918)"/><polygon points="371.5,900 371.5,918 377.5,918 377.5,900" fill="#fff" stroke="none" stroke-width="0" stroke-linejoin="round"/><line x1="371.5" y1="900" x2="371.5" y2="918" stroke="#1c1c1c" stroke-width="1.1"/><line x1="377.5" y1="900" x2="377.5" y2="918" stroke="#1c1c1c" stroke-width="1.1"/><ellipse cx="374.5" cy="900" rx="1.5" ry="3" fill="#fff" stroke="#1c1c1c" stroke-width="1.1" transform="rotate(90 374.5 900)"/><ellipse cx="374.5" cy="900" rx="4" ry="1.8" fill="#fff" stroke="#1c1c1c" stroke-width="1"/><ellipse cx="374" cy="939" rx="3" ry="8.5" fill="#fff" stroke="#1c1c1c" stroke-width="1.1" transform="rotate(90 374 939)"/><polygon points="365.5,927 365.5,939 382.5,939 382.5,927" fill="#fff" stroke="none" stroke-width="0" stroke-linejoin="round"/><line x1="365.5" y1="927" x2="365.5" y2="939" stroke="#1c1c1c" stroke-width="1.1"/><line x1="382.5" y1="927" x2="382.5" y2="939" stroke="#1c1c1c" stroke-width="1.1"/><ellipse cx="374" cy="927" rx="3" ry="8.5" fill="#fff" stroke="#1c1c1c" stroke-width="1.1" transform="rotate(90 374 927)"/><ellipse cx="374" cy="927" rx="8.5" ry="3" fill="#fff" stroke="#1c1c1c" stroke-width="1.1"/><ellipse cx="374" cy="927" rx="6" ry="2" fill="none" stroke="#1c1c1c" stroke-width="0.8"/><ellipse cx="369" cy="934" rx="1.5" ry="2" fill="#333" stroke="none" stroke-width="0"/><ellipse cx="379" cy="934" rx="1.5" ry="2" fill="#333" stroke="none" stroke-width="0"/><ellipse cx="374" cy="950" rx="2.3" ry="6.5" fill="#fff" stroke="#1c1c1c" stroke-width="1.1" transform="rotate(90 374 950)"/><polygon points="367.5,939 367.5,950 380.5,950 380.5,939" fill="#fff" stroke="none" stroke-width="0" stroke-linejoin="round"/><line x1="367.5" y1="939" x2="367.5" y2="950" stroke="#1c1c1c" stroke-width="1.1"/><line x1="380.5" y1="939" x2="380.5" y2="950" stroke="#1c1c1c" stroke-width="1.1"/><ellipse cx="374" cy="939" rx="2.3" ry="6.5" fill="#fff" stroke="#1c1c1c" stroke-width="1.1" transform="rotate(90 374 939)"/><ellipse cx="374" cy="967" rx="3" ry="8.5" fill="#fff" stroke="#1c1c1c" stroke-width="1.1" transform="rotate(90 374 967)"/><polygon points="365.5,950 365.5,967 382.5,967 382.5,950" fill="#fff" stroke="none" stroke-width="0" stroke-linejoin="round"/><line x1="365.5" y1="950" x2="365.5" y2="967" stroke="#1c1c1c" stroke-width="1.1"/><line x1="382.5" y1="950" x2="382.5" y2="967" stroke="#1c1c1c" stroke-width="1.1"/><ellipse cx="374" cy="950" rx="3" ry="8.5" fill="#fff" stroke="#1c1c1c" stroke-width="1.1" transform="rotate(90 374 950)"/><ellipse cx="374" cy="973" rx="2.3" ry="6.5" fill="#fff" stroke="#1c1c1c" stroke-width="1.1" transform="rotate(90 374 973)"/><polygon points="367.5,967 367.5,973 380.5,973 380.5,967" fill="#fff" stroke="none" stroke-width="0" stroke-linejoin="round"/><line x1="367.5" y1="967" x2="367.5" y2="973" stroke="#1c1c1c" stroke-width="1.1"/><line x1="380.5" y1="967" x2="380.5" y2="973" stroke="#1c1c1c" stroke-width="1.1"/><ellipse cx="374" cy="967" rx="2.3" ry="6.5" fill="#fff" stroke="#1c1c1c" stroke-width="1.1" transform="rotate(90 374 967)"/><ellipse cx="374" cy="990" rx="3" ry="8.5" fill="#fff" stroke="#1c1c1c" stroke-width="1.1" transform="rotate(90 374 990)"/><polygon points="365.5,973 365.5,990 382.5,990 382.5,973" fill="#fff" stroke="none" stroke-width="0" stroke-linejoin="round"/><line x1="365.5" y1="973" x2="365.5" y2="990" stroke="#1c1c1c" stroke-width="1.1"/><line x1="382.5" y1="973" x2="382.5" y2="990" stroke="#1c1c1c" stroke-width="1.1"/><ellipse cx="374" cy="973" rx="3" ry="8.5" fill="#fff" stroke="#1c1c1c" stroke-width="1.1" transform="rotate(90 374 973)"/><ellipse cx="374" cy="997" rx="2.3" ry="6.5" fill="#fff" stroke="#1c1c1c" stroke-width="1.1" transform="rotate(90 374 997)"/><polygon points="367.5,990 367.5,997 380.5,997 380.5,990" fill="#fff" stroke="none" stroke-width="0" stroke-linejoin="round"/><line x1="367.5" y1="990" x2="367.5" y2="997" stroke="#1c1c1c" stroke-width="1.1"/><line x1="380.5" y1="990" x2="380.5" y2="997" stroke="#1c1c1c" stroke-width="1.1"/><ellipse cx="374" cy="990" rx="2.3" ry="6.5" fill="#fff" stroke="#1c1c1c" stroke-width="1.1" transform="rotate(90 374 990)"/><ellipse cx="374" cy="1018" rx="3" ry="8.5" fill="#fff" stroke="#1c1c1c" stroke-width="1.1" transform="rotate(90 374 1018)"/><polygon points="365.5,997 365.5,1018 382.5,1018 382.5,997" fill="#fff" stroke="none" stroke-width="0" stroke-linejoin="round"/><line x1="365.5" y1="997" x2="365.5" y2="1018" stroke="#1c1c1c" stroke-width="1.1"/><line x1="382.5" y1="997" x2="382.5" y2="1018" stroke="#1c1c1c" stroke-width="1.1"/><ellipse cx="374" cy="997" rx="3" ry="8.5" fill="#fff" stroke="#1c1c1c" stroke-width="1.1" transform="rotate(90 374 997)"/><polygon points="366,1018 382,1018 381,1025 367,1025" fill="#fff" stroke="#1c1c1c" stroke-width="0.9" stroke-linejoin="round"/><ellipse cx="374" cy="1025" rx="7" ry="2.3" fill="#fff" stroke="#1c1c1c" stroke-width="1"/><ellipse cx="374" cy="1049" rx="2" ry="4.5" fill="#fff" stroke="#1c1c1c" stroke-width="1.1" transform="rotate(90 374 1049)"/><polygon points="369.5,1037 369.5,1049 378.5,1049 378.5,1037" fill="#fff" stroke="none" stroke-width="0" stroke-linejoin="round"/><line x1="369.5" y1="1037" x2="369.5" y2="1049" stroke="#1c1c1c" stroke-width="1.1"/><line x1="378.5" y1="1037" x2="378.5" y2="1049" stroke="#1c1c1c" stroke-width="1.1"/><ellipse cx="374" cy="1037" rx="2" ry="4.5" fill="#fff" stroke="#1c1c1c" stroke-width="1.1" transform="rotate(90 374 1037)"/><ellipse cx="374" cy="1058" rx="1.6" ry="3.5" fill="#fff" stroke="#1c1c1c" stroke-width="1.1" transform="rotate(90 374 1058)"/><polygon points="370.5,1049 370.5,1058 377.5,1058 377.5,1049" fill="#fff" stroke="none" stroke-width="0" stroke-linejoin="round"/><line x1="370.5" y1="1049" x2="370.5" y2="1058" stroke="#1c1c1c" stroke-width="1.1"/><line x1="377.5" y1="1049" x2="377.5" y2="1058" stroke="#1c1c1c" stroke-width="1.1"/><ellipse cx="374" cy="1049" rx="1.6" ry="3.5" fill="#fff" stroke="#1c1c1c" stroke-width="1.1" transform="rotate(90 374 1049)"/><ellipse cx="374" cy="1066" rx="1.8" ry="4" fill="#fff" stroke="#1c1c1c" stroke-width="1.1" transform="rotate(90 374 1066)"/><polygon points="370,1058 370,1066 378,1066 378,1058" fill="#fff" stroke="none" stroke-width="0" stroke-linejoin="round"/><line x1="370" y1="1058" x2="370" y2="1066" stroke="#1c1c1c" stroke-width="1.1"/><line x1="378" y1="1058" x2="378" y2="1066" stroke="#1c1c1c" stroke-width="1.1"/><ellipse cx="374" cy="1058" rx="1.8" ry="4" fill="#fff" stroke="#1c1c1c" stroke-width="1.1" transform="rotate(90 374 1058)"/><ellipse cx="374" cy="1082" rx="3" ry="8.5" fill="#fff" stroke="#1c1c1c" stroke-width="1.1" transform="rotate(90 374 1082)"/><polygon points="365.5,1075 365.5,1082 382.5,1082 382.5,1075" fill="#fff" stroke="none" stroke-width="0" stroke-linejoin="round"/><line x1="365.5" y1="1075" x2="365.5" y2="1082" stroke="#1c1c1c" stroke-width="1.1"/><line x1="382.5" y1="1075" x2="382.5" y2="1082" stroke="#1c1c1c" stroke-width="1.1"/><ellipse cx="374" cy="1075" rx="3" ry="8.5" fill="#fff" stroke="#1c1c1c" stroke-width="1.1" transform="rotate(90 374 1075)"/><ellipse cx="374" cy="1075" rx="1.8" ry="4.5" fill="#fff" stroke="#1c1c1c" stroke-width="1.1" transform="rotate(90 374 1075)"/><polygon points="369.5,1071 369.5,1075 378.5,1075 378.5,1071" fill="#fff" stroke="none" stroke-width="0" stroke-linejoin="round"/><line x1="369.5" y1="1071" x2="369.5" y2="1075" stroke="#1c1c1c" stroke-width="1.1"/><line x1="378.5" y1="1071" x2="378.5" y2="1075" stroke="#1c1c1c" stroke-width="1.1"/><ellipse cx="374" cy="1071" rx="1.8" ry="4.5" fill="#fff" stroke="#1c1c1c" stroke-width="1.1" transform="rotate(90 374 1071)"/><polyline points="525.6,781.6 541.3,791 541.3,1058.5 519.3,1066.2" fill="none" stroke="#454545" stroke-width="1" stroke-linejoin="round"/><line x1="478.4" y1="821" x2="503.8" y2="821" stroke="#454545" stroke-width="1.0"/><line x1="436.4" y1="873.5" x2="454" y2="873.5" stroke="#454545" stroke-width="1.0"/><line x1="476" y1="892.7" x2="503.8" y2="892.7" stroke="#454545" stroke-width="1.0"/><line x1="436.4" y1="906" x2="462.9" y2="906" stroke="#454545" stroke-width="1.0"/><line x1="471.7" y1="930.3" x2="503.8" y2="930.3" stroke="#454545" stroke-width="1.0"/><line x1="475" y1="955.2" x2="503.8" y2="955.2" stroke="#454545" stroke-width="1.0"/><line x1="471.7" y1="992.1" x2="503.8" y2="992.1" stroke="#454545" stroke-width="1.0"/><line x1="475.1" y1="1022.5" x2="502.7" y2="1022.5" stroke="#454545" stroke-width="1.0"/><line x1="470.7" y1="1050.7" x2="502.7" y2="1050.7" stroke="#454545" stroke-width="1.0"/><line x1="519.3" y1="1177.8" x2="548" y2="1177.8" stroke="#454545" stroke-width="1.0"/><line x1="542.4" y1="909.3" x2="555.7" y2="909.3" stroke="#454545" stroke-width="1.0"/><line x1="434.2" y1="1082.8" x2="434.2" y2="1102.7" stroke="#454545" stroke-width="1.0"/><line x1="521.5" y1="1097" x2="521.5" y2="1117" stroke="#454545" stroke-width="1.0"/><ellipse cx="466.5" cy="852" rx="2.5" ry="8.5" fill="#fff" stroke="#1c1c1c" stroke-width="1.1" transform="rotate(90 466.5 852)"/><polygon points="458,832 458,852 475,852 475,832" fill="#fff" stroke="none" stroke-width="0" stroke-linejoin="round"/><line x1="458" y1="832" x2="458" y2="852" stroke="#1c1c1c" stroke-width="1.1"/><line x1="475" y1="832" x2="475" y2="852" stroke="#1c1c1c" stroke-width="1.1"/><ellipse cx="466.5" cy="832" rx="2.5" ry="8.5" fill="#fff" stroke="#1c1c1c" stroke-width="1.1" transform="rotate(90 466.5 832)"/><line x1="458.5" y1="836" x2="474.5" y2="837" stroke="#1c1c1c" stroke-width="0.9"/><line x1="458.5" y1="838.8" x2="474.5" y2="839.8" stroke="#1c1c1c" stroke-width="0.9"/><line x1="458.5" y1="841.6" x2="474.5" y2="842.6" stroke="#1c1c1c" stroke-width="0.9"/><line x1="458.5" y1="844.4" x2="474.5" y2="845.4" stroke="#1c1c1c" stroke-width="0.9"/><line x1="458.5" y1="847.2" x2="474.5" y2="848.2" stroke="#1c1c1c" stroke-width="0.9"/><line x1="458.5" y1="850" x2="474.5" y2="851" stroke="#1c1c1c" stroke-width="0.9"/><ellipse cx="466.5" cy="832" rx="3.8" ry="12.5" fill="#fff" stroke="#1c1c1c" stroke-width="1.1" transform="rotate(90 466.5 832)"/><polygon points="454,818 454,832 479,832 479,818" fill="#fff" stroke="none" stroke-width="0" stroke-linejoin="round"/><line x1="454" y1="818" x2="454" y2="832" stroke="#1c1c1c" stroke-width="1.1"/><line x1="479" y1="818" x2="479" y2="832" stroke="#1c1c1c" stroke-width="1.1"/><ellipse cx="466.5" cy="818" rx="3.8" ry="12.5" fill="#fff" stroke="#1c1c1c" stroke-width="1.1" transform="rotate(90 466.5 818)"/><line x1="460" y1="816" x2="460" y2="833" stroke="#1c1c1c" stroke-width="0.6"/><line x1="473" y1="816" x2="473" y2="833" stroke="#1c1c1c" stroke-width="0.6"/><ellipse cx="466.5" cy="818" rx="2.7" ry="9" fill="#fff" stroke="#1c1c1c" stroke-width="1.1" transform="rotate(90 466.5 818)"/><polygon points="457.5,801 457.5,818 475.5,818 475.5,801" fill="#fff" stroke="none" stroke-width="0" stroke-linejoin="round"/><line x1="457.5" y1="801" x2="457.5" y2="818" stroke="#1c1c1c" stroke-width="1.1"/><line x1="475.5" y1="801" x2="475.5" y2="818" stroke="#1c1c1c" stroke-width="1.1"/><ellipse cx="466.5" cy="801" rx="2.7" ry="9" fill="#fff" stroke="#1c1c1c" stroke-width="1.1" transform="rotate(90 466.5 801)"/><ellipse cx="466.5" cy="801" rx="9" ry="2.8" fill="#fff" stroke="#1c1c1c" stroke-width="1.1"/><ellipse cx="466.5" cy="801" rx="3" ry="1.2" fill="#888" stroke="#1c1c1c" stroke-width="0.6"/><ellipse cx="466.2" cy="875" rx="12" ry="6" fill="#fff" stroke="#1c1c1c" stroke-width="1.2"/><ellipse cx="466.2" cy="875" rx="7" ry="3.2" fill="#eee" stroke="#1c1c1c" stroke-width="0.9"/><ellipse cx="466.2" cy="878" rx="12" ry="5" fill="none" stroke="#1c1c1c" stroke-width="0.6"/><ellipse cx="466" cy="891.6" rx="10.5" ry="4.5" fill="none" stroke="#111" stroke-width="1.4"/><ellipse cx="467" cy="904" rx="6" ry="2.2" fill="none" stroke="#111" stroke-width="1.5"/><ellipse cx="467" cy="907.6" rx="5.6" ry="2.2" fill="none" stroke="#111" stroke-width="1.5"/><ellipse cx="467" cy="911.2" rx="5.2" ry="2.2" fill="none" stroke="#111" stroke-width="1.5"/><ellipse cx="467" cy="914.8" rx="4.8" ry="2.2" fill="none" stroke="#111" stroke-width="1.5"/><line x1="461" y1="904" x2="467" y2="918" stroke="#1c1c1c" stroke-width="0.8"/><line x1="473" y1="904" x2="467" y2="918" stroke="#1c1c1c" stroke-width="0.8"/><ellipse cx="467" cy="937" rx="2" ry="4.5" fill="#ccc" stroke="#1c1c1c" stroke-width="1.1" transform="rotate(90 467 937)"/><polygon points="462.5,927 462.5,937 471.5,937 471.5,927" fill="#ccc" stroke="none" stroke-width="0" stroke-linejoin="round"/><line x1="462.5" y1="927" x2="462.5" y2="937" stroke="#1c1c1c" stroke-width="1.1"/><line x1="471.5" y1="927" x2="471.5" y2="937" stroke="#1c1c1c" stroke-width="1.1"/><ellipse cx="467" cy="927" rx="2" ry="4.5" fill="#ccc" stroke="#1c1c1c" stroke-width="1.1" transform="rotate(90 467 927)"/><line x1="462.5" y1="929" x2="471.5" y2="930" stroke="#1c1c1c" stroke-width="0.8"/><line x1="462.5" y1="931.5" x2="471.5" y2="932.5" stroke="#1c1c1c" stroke-width="0.8"/><line x1="462.5" y1="934" x2="471.5" y2="935" stroke="#1c1c1c" stroke-width="0.8"/><ellipse cx="466.5" cy="972" rx="2.4" ry="6" fill="#fff" stroke="#1c1c1c" stroke-width="1.1" transform="rotate(90 466.5 972)"/><polygon points="460.5,962 460.5,972 472.5,972 472.5,962" fill="#fff" stroke="none" stroke-width="0" stroke-linejoin="round"/><line x1="460.5" y1="962" x2="460.5" y2="972" stroke="#1c1c1c" stroke-width="1.1"/><line x1="472.5" y1="962" x2="472.5" y2="972" stroke="#1c1c1c" stroke-width="1.1"/><ellipse cx="466.5" cy="962" rx="2.4" ry="6" fill="#fff" stroke="#1c1c1c" stroke-width="1.1" transform="rotate(90 466.5 962)"/><ellipse cx="466.5" cy="962" rx="3" ry="8.5" fill="#fff" stroke="#1c1c1c" stroke-width="1.1" transform="rotate(90 466.5 962)"/><polygon points="458,955 458,962 475,962 475,955" fill="#fff" stroke="none" stroke-width="0" stroke-linejoin="round"/><line x1="458" y1="955" x2="458" y2="962" stroke="#1c1c1c" stroke-width="1.1"/><line x1="475" y1="955" x2="475" y2="962" stroke="#1c1c1c" stroke-width="1.1"/><ellipse cx="466.5" cy="955" rx="3" ry="8.5" fill="#fff" stroke="#1c1c1c" stroke-width="1.1" transform="rotate(90 466.5 955)"/><ellipse cx="466.5" cy="955" rx="3" ry="1.2" fill="#888" stroke="#1c1c1c" stroke-width="0.6"/><ellipse cx="467" cy="986" rx="7" ry="2.8" fill="none" stroke="#111" stroke-width="1.25"/><ellipse cx="467" cy="990.6" rx="7" ry="2.8" fill="none" stroke="#111" stroke-width="1.25"/><ellipse cx="467" cy="995.2" rx="7" ry="2.8" fill="none" stroke="#111" stroke-width="1.25"/><ellipse cx="467" cy="999.8" rx="7" ry="2.8" fill="none" stroke="#111" stroke-width="1.25"/><ellipse cx="467" cy="1004.4" rx="7" ry="2.8" fill="none" stroke="#111" stroke-width="1.25"/><ellipse cx="467" cy="1009" rx="7" ry="2.8" fill="none" stroke="#111" stroke-width="1.25"/><ellipse cx="467.4" cy="1029" rx="3.2" ry="8.5" fill="#fff" stroke="#1c1c1c" stroke-width="1.1" transform="rotate(90 467.4 1029)"/><polygon points="458.9,1019 458.9,1029 475.9,1029 475.9,1019" fill="#fff" stroke="none" stroke-width="0" stroke-linejoin="round"/><line x1="458.9" y1="1019" x2="458.9" y2="1029" stroke="#1c1c1c" stroke-width="1.1"/><line x1="475.9" y1="1019" x2="475.9" y2="1029" stroke="#1c1c1c" stroke-width="1.1"/><ellipse cx="467.4" cy="1019" rx="3.2" ry="8.5" fill="#fff" stroke="#1c1c1c" stroke-width="1.1" transform="rotate(90 467.4 1019)"/><ellipse cx="467.4" cy="1019" rx="5" ry="1.8" fill="#ccc" stroke="#1c1c1c" stroke-width="0.8"/><ellipse cx="468" cy="1070" rx="1.9" ry="4.8" fill="#ddd" stroke="#1c1c1c" stroke-width="1.1" transform="rotate(90 468 1070)"/><polygon points="463.2,1038 463.2,1070 472.8,1070 472.8,1038" fill="#ddd" stroke="none" stroke-width="0" stroke-linejoin="round"/><line x1="463.2" y1="1038" x2="463.2" y2="1070" stroke="#1c1c1c" stroke-width="1.1"/><line x1="472.8" y1="1038" x2="472.8" y2="1070" stroke="#1c1c1c" stroke-width="1.1"/><ellipse cx="468" cy="1038" rx="1.9" ry="4.8" fill="#ddd" stroke="#1c1c1c" stroke-width="1.1" transform="rotate(90 468 1038)"/><line x1="463.5" y1="1040" x2="472.5" y2="1041" stroke="#1c1c1c" stroke-width="0.8"/><line x1="463.5" y1="1043" x2="472.5" y2="1044" stroke="#1c1c1c" stroke-width="0.8"/><line x1="463.5" y1="1046" x2="472.5" y2="1047" stroke="#1c1c1c" stroke-width="0.8"/><line x1="463.5" y1="1049" x2="472.5" y2="1050" stroke="#1c1c1c" stroke-width="0.8"/><line x1="463.5" y1="1052" x2="472.5" y2="1053" stroke="#1c1c1c" stroke-width="0.8"/><line x1="463.5" y1="1055" x2="472.5" y2="1056" stroke="#1c1c1c" stroke-width="0.8"/><line x1="463.5" y1="1058" x2="472.5" y2="1059" stroke="#1c1c1c" stroke-width="0.8"/><line x1="463.5" y1="1061" x2="472.5" y2="1062" stroke="#1c1c1c" stroke-width="0.8"/><line x1="463.5" y1="1064" x2="472.5" y2="1065" stroke="#1c1c1c" stroke-width="0.8"/><line x1="463.5" y1="1067" x2="472.5" y2="1068" stroke="#1c1c1c" stroke-width="0.8"/><ellipse cx="468" cy="1092" rx="1.1" ry="2.2" fill="#fff" stroke="#1c1c1c" stroke-width="1.1" transform="rotate(90 468 1092)"/><polygon points="465.8,1070 465.8,1092 470.2,1092 470.2,1070" fill="#fff" stroke="none" stroke-width="0" stroke-linejoin="round"/><line x1="465.8" y1="1070" x2="465.8" y2="1092" stroke="#1c1c1c" stroke-width="1.1"/><line x1="470.2" y1="1070" x2="470.2" y2="1092" stroke="#1c1c1c" stroke-width="1.1"/><ellipse cx="468" cy="1070" rx="1.1" ry="2.2" fill="#fff" stroke="#1c1c1c" stroke-width="1.1" transform="rotate(90 468 1070)"/><ellipse cx="468" cy="1097" rx="2" ry="5" fill="#fff" stroke="#1c1c1c" stroke-width="1.1" transform="rotate(90 468 1097)"/><polygon points="463,1091 463,1097 473,1097 473,1091" fill="#fff" stroke="none" stroke-width="0" stroke-linejoin="round"/><line x1="463" y1="1091" x2="463" y2="1097" stroke="#1c1c1c" stroke-width="1.1"/><line x1="473" y1="1091" x2="473" y2="1097" stroke="#1c1c1c" stroke-width="1.1"/><ellipse cx="468" cy="1091" rx="2" ry="5" fill="#fff" stroke="#1c1c1c" stroke-width="1.1" transform="rotate(90 468 1091)"/><line x1="468" y1="1100" x2="468" y2="1165" stroke="#777" stroke-width="0.8" stroke-dasharray="2,2"/><line x1="435" y1="1120" x2="435" y2="1140" stroke="#777" stroke-width="0.8" stroke-dasharray="2,2"/><ellipse cx="435.3" cy="1118" rx="2.2" ry="5.5" fill="#fff" stroke="#1c1c1c" stroke-width="1.1" transform="rotate(90 435.3 1118)"/><polygon points="429.8,1110 429.8,1118 440.8,1118 440.8,1110" fill="#fff" stroke="none" stroke-width="0" stroke-linejoin="round"/><line x1="429.8" y1="1110" x2="429.8" y2="1118" stroke="#1c1c1c" stroke-width="1.1"/><line x1="440.8" y1="1110" x2="440.8" y2="1118" stroke="#1c1c1c" stroke-width="1.1"/><ellipse cx="435.3" cy="1110" rx="2.2" ry="5.5" fill="#fff" stroke="#1c1c1c" stroke-width="1.1" transform="rotate(90 435.3 1110)"/><line x1="430" y1="1111" x2="440.5" y2="1112" stroke="#1c1c1c" stroke-width="0.7"/><line x1="430" y1="1113.5" x2="440.5" y2="1114.5" stroke="#1c1c1c" stroke-width="0.7"/><line x1="430" y1="1116" x2="440.5" y2="1117" stroke="#1c1c1c" stroke-width="0.7"/><ellipse cx="435.3" cy="1110" rx="2.7" ry="7.8" fill="#fff" stroke="#1c1c1c" stroke-width="1.1" transform="rotate(90 435.3 1110)"/><polygon points="427.5,1104 427.5,1110 443.1,1110 443.1,1104" fill="#fff" stroke="none" stroke-width="0" stroke-linejoin="round"/><line x1="427.5" y1="1104" x2="427.5" y2="1110" stroke="#1c1c1c" stroke-width="1.1"/><line x1="443.1" y1="1104" x2="443.1" y2="1110" stroke="#1c1c1c" stroke-width="1.1"/><ellipse cx="435.3" cy="1104" rx="2.7" ry="7.8" fill="#fff" stroke="#1c1c1c" stroke-width="1.1" transform="rotate(90 435.3 1104)"/><ellipse cx="551" cy="1113" rx="2.6" ry="4.8" fill="#fff" stroke="#1c1c1c" stroke-width="1.1" transform="rotate(-21.6 551 1113)"/><polygon points="494.8,1140.5 552.8,1117.5 549.2,1108.5 491.2,1131.5" fill="#fff" stroke="none" stroke-width="0" stroke-linejoin="round"/><line x1="494.8" y1="1140.5" x2="552.8" y2="1117.5" stroke="#1c1c1c" stroke-width="1.1"/><line x1="491.2" y1="1131.5" x2="549.2" y2="1108.5" stroke="#1c1c1c" stroke-width="1.1"/><ellipse cx="493" cy="1136" rx="2.6" ry="4.8" fill="#fff" stroke="#1c1c1c" stroke-width="1.1" transform="rotate(-21.6 493 1136)"/><line x1="496" y1="1131" x2="499" y2="1140" stroke="#1c1c1c" stroke-width="0.8"/><line x1="499" y1="1129.9" x2="502" y2="1138.9" stroke="#1c1c1c" stroke-width="0.8"/><line x1="502" y1="1128.8" x2="505" y2="1137.8" stroke="#1c1c1c" stroke-width="0.8"/><line x1="505" y1="1127.7" x2="508" y2="1136.7" stroke="#1c1c1c" stroke-width="0.8"/><line x1="508" y1="1126.6" x2="511" y2="1135.6" stroke="#1c1c1c" stroke-width="0.8"/><ellipse cx="550" cy="1113" rx="3.8" ry="7.5" fill="#fff" stroke="#1c1c1c" stroke-width="1.1" transform="rotate(-18.4 550 1113)"/><polygon points="552.4,1120.1 561.4,1117.1 556.6,1102.9 547.6,1105.9" fill="#fff" stroke="none" stroke-width="0" stroke-linejoin="round"/><line x1="552.4" y1="1120.1" x2="561.4" y2="1117.1" stroke="#1c1c1c" stroke-width="1.1"/><line x1="547.6" y1="1105.9" x2="556.6" y2="1102.9" stroke="#1c1c1c" stroke-width="1.1"/><ellipse cx="559" cy="1110" rx="3.8" ry="7.5" fill="#fff" stroke="#1c1c1c" stroke-width="1.1" transform="rotate(-18.4 559 1110)"/><line x1="487" y1="1138" x2="488" y2="1165" stroke="#777" stroke-width="0.8" stroke-dasharray="2,2"/><ellipse cx="513" cy="1180" rx="2.1" ry="3.8" fill="#eee" stroke="#1c1c1c" stroke-width="1.1" transform="rotate(-20.6 513 1180)"/><polygon points="506.3,1186.6 514.3,1183.6 511.7,1176.4 503.7,1179.4" fill="#eee" stroke="none" stroke-width="0" stroke-linejoin="round"/><line x1="506.3" y1="1186.6" x2="514.3" y2="1183.6" stroke="#1c1c1c" stroke-width="1.1"/><line x1="503.7" y1="1179.4" x2="511.7" y2="1176.4" stroke="#1c1c1c" stroke-width="1.1"/><ellipse cx="505" cy="1183" rx="2.1" ry="3.8" fill="#eee" stroke="#1c1c1c" stroke-width="1.1" transform="rotate(-20.6 505 1183)"/><ellipse cx="513" cy="1180" rx="2.7" ry="6" fill="#fff" stroke="#1c1c1c" stroke-width="1.1" transform="rotate(-18.4 513 1180)"/><polygon points="514.9,1185.7 520.9,1183.7 517.1,1172.3 511.1,1174.3" fill="#fff" stroke="none" stroke-width="0" stroke-linejoin="round"/><line x1="514.9" y1="1185.7" x2="520.9" y2="1183.7" stroke="#1c1c1c" stroke-width="1.1"/><line x1="511.1" y1="1174.3" x2="517.1" y2="1172.3" stroke="#1c1c1c" stroke-width="1.1"/><ellipse cx="519" cy="1178" rx="2.7" ry="6" fill="#fff" stroke="#1c1c1c" stroke-width="1.1" transform="rotate(-18.4 519 1178)"/><line x1="492.8" y1="1166.7" x2="620" y2="1122.5" stroke="#444" stroke-width="0.9" stroke-dasharray="30,5,2,5"/><line x1="620" y1="1122.5" x2="810" y2="1058" stroke="#444" stroke-width="0.9" stroke-dasharray="50,5,2,5"/><line x1="287.3" y1="1159.2" x2="328.5" y2="1159.2" stroke="#454545" stroke-width="1.0"/><line x1="287.3" y1="1193.8" x2="330" y2="1193.8" stroke="#454545" stroke-width="1.0"/><line x1="287.8" y1="1216.4" x2="336.8" y2="1216.4" stroke="#454545" stroke-width="1.0"/><line x1="321.2" y1="1257.8" x2="321.2" y2="1288" stroke="#454545" stroke-width="1.0"/><line x1="402.8" y1="1271.6" x2="402.8" y2="1316.8" stroke="#454545" stroke-width="1.0"/><line x1="524" y1="1227.7" x2="545.3" y2="1227.7" stroke="#454545" stroke-width="1.0"/><line x1="503.9" y1="1245.8" x2="522.7" y2="1245.8" stroke="#454545" stroke-width="1.0"/><ellipse cx="329" cy="1141" rx="3.6" ry="6.5" fill="#fff" stroke="#1c1c1c" stroke-width="1.1" transform="rotate(26.6 329 1141)"/><polygon points="326.1,1146.8 331.1,1149.3 336.9,1137.7 331.9,1135.2" fill="#fff" stroke="none" stroke-width="0" stroke-linejoin="round"/><line x1="326.1" y1="1146.8" x2="331.1" y2="1149.3" stroke="#1c1c1c" stroke-width="1.1"/><line x1="331.9" y1="1135.2" x2="336.9" y2="1137.7" stroke="#1c1c1c" stroke-width="1.1"/><ellipse cx="334" cy="1143.5" rx="3.6" ry="6.5" fill="#fff" stroke="#1c1c1c" stroke-width="1.1" transform="rotate(26.6 334 1143.5)"/><ellipse cx="334" cy="1143.5" rx="2.5" ry="4.5" fill="#eee" stroke="#1c1c1c" stroke-width="1.1" transform="rotate(26.6 334 1143.5)"/><polygon points="332,1147.5 336,1149.5 340,1141.5 336,1139.5" fill="#eee" stroke="none" stroke-width="0" stroke-linejoin="round"/><line x1="332" y1="1147.5" x2="336" y2="1149.5" stroke="#1c1c1c" stroke-width="1.1"/><line x1="336" y1="1139.5" x2="340" y2="1141.5" stroke="#1c1c1c" stroke-width="1.1"/><ellipse cx="338" cy="1145.5" rx="2.5" ry="4.5" fill="#eee" stroke="#1c1c1c" stroke-width="1.1" transform="rotate(26.6 338 1145.5)"/><line x1="334.5" y1="1139.5" x2="333" y2="1147" stroke="#1c1c1c" stroke-width="0.7"/><line x1="336" y1="1140.3" x2="334.5" y2="1147.8" stroke="#1c1c1c" stroke-width="0.7"/><ellipse cx="329" cy="1158" rx="3.6" ry="6.5" fill="#fff" stroke="#1c1c1c" stroke-width="1.1" transform="rotate(26.6 329 1158)"/><polygon points="326.1,1163.8 331.1,1166.3 336.9,1154.7 331.9,1152.2" fill="#fff" stroke="none" stroke-width="0" stroke-linejoin="round"/><line x1="326.1" y1="1163.8" x2="331.1" y2="1166.3" stroke="#1c1c1c" stroke-width="1.1"/><line x1="331.9" y1="1152.2" x2="336.9" y2="1154.7" stroke="#1c1c1c" stroke-width="1.1"/><ellipse cx="334" cy="1160.5" rx="3.6" ry="6.5" fill="#fff" stroke="#1c1c1c" stroke-width="1.1" transform="rotate(26.6 334 1160.5)"/><ellipse cx="334" cy="1160.5" rx="2.5" ry="4.5" fill="#eee" stroke="#1c1c1c" stroke-width="1.1" transform="rotate(26.6 334 1160.5)"/><polygon points="332,1164.5 336,1166.5 340,1158.5 336,1156.5" fill="#eee" stroke="none" stroke-width="0" stroke-linejoin="round"/><line x1="332" y1="1164.5" x2="336" y2="1166.5" stroke="#1c1c1c" stroke-width="1.1"/><line x1="336" y1="1156.5" x2="340" y2="1158.5" stroke="#1c1c1c" stroke-width="1.1"/><ellipse cx="338" cy="1162.5" rx="2.5" ry="4.5" fill="#eee" stroke="#1c1c1c" stroke-width="1.1" transform="rotate(26.6 338 1162.5)"/><line x1="334.5" y1="1156.5" x2="333" y2="1164" stroke="#1c1c1c" stroke-width="0.7"/><line x1="336" y1="1157.3" x2="334.5" y2="1164.8" stroke="#1c1c1c" stroke-width="0.7"/><ellipse cx="334" cy="1196" rx="1.8" ry="3" fill="#fff" stroke="#1c1c1c" stroke-width="1.1" transform="rotate(-18.4 334 1196)"/><polygon points="334.9,1198.8 346.9,1194.8 345.1,1189.2 333.1,1193.2" fill="#fff" stroke="none" stroke-width="0" stroke-linejoin="round"/><line x1="334.9" y1="1198.8" x2="346.9" y2="1194.8" stroke="#1c1c1c" stroke-width="1.1"/><line x1="333.1" y1="1193.2" x2="345.1" y2="1189.2" stroke="#1c1c1c" stroke-width="1.1"/><ellipse cx="346" cy="1192" rx="1.8" ry="3" fill="#fff" stroke="#1c1c1c" stroke-width="1.1" transform="rotate(-18.4 346 1192)"/><ellipse cx="338.7" cy="1217" rx="3.3" ry="5" fill="none" stroke="#1c1c1c" stroke-width="1.1"/><ellipse cx="326" cy="1236" rx="10.2" ry="18.5" fill="#fff" stroke="#1c1c1c" stroke-width="1.1" transform="rotate(-23.2 326 1236)"/><polygon points="319.3,1259 333.3,1253 318.7,1219 304.7,1225" fill="#fff" stroke="none" stroke-width="0" stroke-linejoin="round"/><line x1="319.3" y1="1259" x2="333.3" y2="1253" stroke="#1c1c1c" stroke-width="1.1"/><line x1="304.7" y1="1225" x2="318.7" y2="1219" stroke="#1c1c1c" stroke-width="1.1"/><ellipse cx="312" cy="1242" rx="10.2" ry="18.5" fill="#fff" stroke="#1c1c1c" stroke-width="1.1" transform="rotate(-23.2 312 1242)"/><ellipse cx="312" cy="1242" rx="7" ry="14" fill="#fff" stroke="#1c1c1c" stroke-width="1.0" transform="rotate(-22 312 1242)"/><ellipse cx="312.5" cy="1242" rx="4.5" ry="9" fill="#fff" stroke="#1c1c1c" stroke-width="0.9" transform="rotate(-22 312.5 1242)"/><ellipse cx="317.8" cy="1242" rx="1" ry="1.6" fill="#444" stroke="none" stroke-width="0"/><ellipse cx="316.7" cy="1248.8" rx="1" ry="1.6" fill="#444" stroke="none" stroke-width="0"/><ellipse cx="313.8" cy="1252.9" rx="1" ry="1.6" fill="#444" stroke="none" stroke-width="0"/><ellipse cx="310.2" cy="1252.9" rx="1" ry="1.6" fill="#444" stroke="none" stroke-width="0"/><ellipse cx="307.3" cy="1248.8" rx="1" ry="1.6" fill="#444" stroke="none" stroke-width="0"/><ellipse cx="306.2" cy="1242" rx="1" ry="1.6" fill="#444" stroke="none" stroke-width="0"/><ellipse cx="307.3" cy="1235.2" rx="1" ry="1.6" fill="#444" stroke="none" stroke-width="0"/><ellipse cx="310.2" cy="1231.1" rx="1" ry="1.6" fill="#444" stroke="none" stroke-width="0"/><ellipse cx="313.8" cy="1231.1" rx="1" ry="1.6" fill="#444" stroke="none" stroke-width="0"/><ellipse cx="316.7" cy="1235.2" rx="1" ry="1.6" fill="#444" stroke="none" stroke-width="0"/><polygon points="356.3,1130.9 392.8,1116.5 414.9,1125.3 422.6,1132 443.6,1143 476.7,1158.5 478.9,1187.2 483.3,1188.3 483.3,1264.5 476.7,1266.7 476,1284.4 432.5,1284.4 358.5,1249 355.2,1218.1" fill="#fff" stroke="#1c1c1c" stroke-width="1.2" stroke-linejoin="round"/><polyline points="357.4,1140.8 437,1182 476.7,1165" fill="none" stroke="#1c1c1c" stroke-width="1.0" stroke-linejoin="round"/><line x1="437" y1="1182" x2="437" y2="1284" stroke="#1c1c1c" stroke-width="1.0"/><polyline points="432,1180 429,1270 432.5,1284.4" fill="none" stroke="#1c1c1c" stroke-width="0.7" stroke-linejoin="round"/><polyline points="360,1148 362,1245 432,1280" fill="none" stroke="#1c1c1c" stroke-width="0.7" stroke-linejoin="round"/><ellipse cx="463" cy="1282" rx="3.6" ry="12" fill="#fff" stroke="#1c1c1c" stroke-width="1.1" transform="rotate(90 463 1282)"/><polygon points="451,1282 451,1296 475,1296 475,1282" fill="#fff" stroke="none" stroke-width="0" stroke-linejoin="round"/><line x1="451" y1="1282" x2="451" y2="1296" stroke="#1c1c1c" stroke-width="1.1"/><line x1="475" y1="1282" x2="475" y2="1296" stroke="#1c1c1c" stroke-width="1.1"/><ellipse cx="463" cy="1296" rx="3.6" ry="12" fill="#fff" stroke="#1c1c1c" stroke-width="1.1" transform="rotate(90 463 1296)"/><line x1="454" y1="1285" x2="454" y2="1296" stroke="#1c1c1c" stroke-width="0.6"/><line x1="458" y1="1285" x2="458" y2="1296" stroke="#1c1c1c" stroke-width="0.6"/><line x1="462" y1="1285" x2="462" y2="1296" stroke="#1c1c1c" stroke-width="0.6"/><line x1="466" y1="1285" x2="466" y2="1296" stroke="#1c1c1c" stroke-width="0.6"/><line x1="470" y1="1285" x2="470" y2="1296" stroke="#1c1c1c" stroke-width="0.6"/><polygon points="388,1140 415,1128 441,1141 414,1153" fill="none" stroke="#1c1c1c" stroke-width="0.8" stroke-linejoin="round"/><ellipse cx="421" cy="1152" rx="4.4" ry="11" fill="#fff" stroke="#1c1c1c" stroke-width="1.1" transform="rotate(-90 421 1152)"/><polygon points="432,1152 432,1144 410,1144 410,1152" fill="#fff" stroke="none" stroke-width="0" stroke-linejoin="round"/><line x1="432" y1="1152" x2="432" y2="1144" stroke="#1c1c1c" stroke-width="1.1"/><line x1="410" y1="1152" x2="410" y2="1144" stroke="#1c1c1c" stroke-width="1.1"/><ellipse cx="421" cy="1144" rx="4.4" ry="11" fill="#fff" stroke="#1c1c1c" stroke-width="1.1" transform="rotate(-90 421 1144)"/><ellipse cx="421" cy="1144" rx="4" ry="1.6" fill="none" stroke="#1c1c1c" stroke-width="0.7"/><ellipse cx="372" cy="1131" rx="7" ry="3.3" fill="#fff" stroke="#1c1c1c" stroke-width="0.9"/><ellipse cx="372" cy="1131" rx="3.5" ry="1.6" fill="#999" stroke="#1c1c1c" stroke-width="0.7"/><ellipse cx="437" cy="1165" rx="7" ry="3.3" fill="#eee" stroke="#1c1c1c" stroke-width="0.9"/><ellipse cx="437" cy="1165" rx="3.5" ry="1.6" fill="#999" stroke="#1c1c1c" stroke-width="0.7"/><ellipse cx="461" cy="1164" rx="9" ry="4" fill="#ddd" stroke="#1c1c1c" stroke-width="0.9"/><ellipse cx="461" cy="1164" rx="5" ry="2" fill="#777" stroke="#1c1c1c" stroke-width="0.7"/><path d="M376,1195 C377,1180 390,1175 400,1181 C412,1190 416,1215 410,1232 C405,1243 392,1245 384,1236 C378,1228 376,1210 376,1195 Z" fill="#fff" stroke="#1c1c1c" stroke-width="1.1" stroke-linejoin="round" stroke-linecap="round"/><ellipse cx="395" cy="1210" rx="12" ry="22" fill="#fff" stroke="#1c1c1c" stroke-width="1.0" transform="rotate(-15 395 1210)"/><ellipse cx="396" cy="1212" rx="8" ry="15" fill="#eee" stroke="#1c1c1c" stroke-width="0.9" transform="rotate(-15 396 1212)"/><polygon points="368,1198 418,1228 416,1232 366,1202" fill="#fff" stroke="#1c1c1c" stroke-width="0.8" stroke-linejoin="round"/><ellipse cx="370" cy="1150" rx="3.5" ry="5" fill="none" stroke="#1c1c1c" stroke-width="0.8" transform="rotate(-15 370 1150)"/><ellipse cx="400" cy="1165" rx="3.5" ry="5" fill="none" stroke="#1c1c1c" stroke-width="0.8" transform="rotate(-15 400 1165)"/><ellipse cx="373" cy="1240" rx="3.5" ry="5" fill="none" stroke="#1c1c1c" stroke-width="0.8" transform="rotate(-15 373 1240)"/><ellipse cx="413" cy="1262" rx="3.5" ry="5" fill="none" stroke="#1c1c1c" stroke-width="0.8" transform="rotate(-15 413 1262)"/><ellipse cx="427" cy="1187" rx="3.5" ry="5" fill="none" stroke="#1c1c1c" stroke-width="0.8" transform="rotate(-15 427 1187)"/><ellipse cx="458" cy="1197" rx="6" ry="7.5" fill="#fff" stroke="#1c1c1c" stroke-width="1.0" transform="rotate(-10 458 1197)"/><ellipse cx="458" cy="1197" rx="3.5" ry="4.5" fill="#888" stroke="#1c1c1c" stroke-width="0.8" transform="rotate(-10 458 1197)"/><ellipse cx="469.5" cy="1211.5" rx="7" ry="8.5" fill="#fff" stroke="#1c1c1c" stroke-width="1.0" transform="rotate(-10 469.5 1211.5)"/><ellipse cx="469.5" cy="1211.5" rx="4" ry="5" fill="#aaa" stroke="#1c1c1c" stroke-width="0.8" transform="rotate(-10 469.5 1211.5)"/><ellipse cx="463.5" cy="1244.6" rx="7.5" ry="9" fill="#555" stroke="#1c1c1c" stroke-width="1.1" transform="rotate(-10 463.5 1244.6)"/><line x1="457" y1="1240" x2="470" y2="1242" stroke="#ddd" stroke-width="0.8"/><line x1="457" y1="1243" x2="470" y2="1245" stroke="#ddd" stroke-width="0.8"/><line x1="457" y1="1246" x2="470" y2="1248" stroke="#ddd" stroke-width="0.8"/><line x1="457" y1="1249" x2="470" y2="1251" stroke="#ddd" stroke-width="0.8"/><ellipse cx="462.4" cy="1267.8" rx="7" ry="8" fill="#fff" stroke="#1c1c1c" stroke-width="1.0" transform="rotate(-10 462.4 1267.8)"/><ellipse cx="462.4" cy="1267.8" rx="3" ry="3.5" fill="none" stroke="#1c1c1c" stroke-width="0.8"/><ellipse cx="452" cy="1212" rx="1.5" ry="2" fill="none" stroke="#1c1c1c" stroke-width="0.8"/><ellipse cx="456" cy="1222" rx="1.5" ry="2" fill="none" stroke="#1c1c1c" stroke-width="0.8"/><line x1="457" y1="1222" x2="487" y2="1236" stroke="#1c1c1c" stroke-width="0.8"/><line x1="465" y1="1248" x2="500" y2="1264" stroke="#1c1c1c" stroke-width="0.8"/><ellipse cx="513" cy="1226" rx="3.8" ry="7.5" fill="#fff" stroke="#1c1c1c" stroke-width="1.1" transform="rotate(20.6 513 1226)"/><polygon points="510.4,1233 518.4,1236 523.6,1222 515.6,1219" fill="#fff" stroke="none" stroke-width="0" stroke-linejoin="round"/><line x1="510.4" y1="1233" x2="518.4" y2="1236" stroke="#1c1c1c" stroke-width="1.1"/><line x1="515.6" y1="1219" x2="523.6" y2="1222" stroke="#1c1c1c" stroke-width="1.1"/><ellipse cx="521" cy="1229" rx="3.8" ry="7.5" fill="#fff" stroke="#1c1c1c" stroke-width="1.1" transform="rotate(20.6 521 1229)"/><line x1="505" y1="1221" x2="507" y2="1231" stroke="#1c1c1c" stroke-width="0.7"/><line x1="507.5" y1="1221" x2="509.5" y2="1231" stroke="#1c1c1c" stroke-width="0.7"/><line x1="510" y1="1221" x2="512" y2="1231" stroke="#1c1c1c" stroke-width="0.7"/><ellipse cx="513" cy="1227" rx="2.5" ry="5" fill="#fff" stroke="#1c1c1c" stroke-width="1.1" transform="rotate(20.6 513 1227)"/><polygon points="503.2,1228.7 511.2,1231.7 514.8,1222.3 506.8,1219.3" fill="#fff" stroke="none" stroke-width="0" stroke-linejoin="round"/><line x1="503.2" y1="1228.7" x2="511.2" y2="1231.7" stroke="#1c1c1c" stroke-width="1.1"/><line x1="506.8" y1="1219.3" x2="514.8" y2="1222.3" stroke="#1c1c1c" stroke-width="1.1"/><ellipse cx="505" cy="1224" rx="2.5" ry="5" fill="#fff" stroke="#1c1c1c" stroke-width="1.1" transform="rotate(20.6 505 1224)"/><ellipse cx="497" cy="1245" rx="4.5" ry="5" fill="#fff" stroke="#1c1c1c" stroke-width="1.0"/><line x1="475" y1="1205" x2="490" y2="1215" stroke="#777" stroke-width="0.8" stroke-dasharray="2,2"/><polyline points="642.7,1278.4 657.7,1284.2 657.7,1385.8 640.2,1395.9" fill="none" stroke="#454545" stroke-width="1" stroke-linejoin="round"/><line x1="657.7" y1="1333.1" x2="679.6" y2="1333.1" stroke="#454545" stroke-width="1.0"/><line x1="552.3" y1="1276.6" x2="552.3" y2="1290.4" stroke="#454545" stroke-width="1.0"/><line x1="585" y1="1294.2" x2="585" y2="1311.8" stroke="#454545" stroke-width="1.0"/><polyline points="615.6,1303 615.6,1310 603,1316.8" fill="none" stroke="#454545" stroke-width="1" stroke-linejoin="round"/><line x1="532.2" y1="1291.7" x2="532.2" y2="1309.3" stroke="#454545" stroke-width="1.0"/><line x1="505.1" y1="1277.9" x2="505.1" y2="1330.6" stroke="#454545" stroke-width="1.0"/><line x1="569.9" y1="1311.8" x2="569.9" y2="1350.7" stroke="#454545" stroke-width="1.0"/><line x1="621.1" y1="1346.9" x2="621.1" y2="1365.7" stroke="#454545" stroke-width="1.0"/><ellipse cx="507" cy="1271" rx="3.8" ry="8.5" fill="none" stroke="#111" stroke-width="1.9" transform="rotate(31.8 507 1271)"/><ellipse cx="510" cy="1272.9" rx="3.8" ry="8.5" fill="none" stroke="#111" stroke-width="1.9" transform="rotate(31.8 510 1272.9)"/><ellipse cx="513" cy="1274.7" rx="3.8" ry="8.5" fill="none" stroke="#111" stroke-width="1.9" transform="rotate(31.8 513 1274.7)"/><ellipse cx="516" cy="1276.6" rx="3.8" ry="8.5" fill="none" stroke="#111" stroke-width="1.9" transform="rotate(31.8 516 1276.6)"/><ellipse cx="519" cy="1278.4" rx="3.8" ry="8.5" fill="none" stroke="#111" stroke-width="1.9" transform="rotate(31.8 519 1278.4)"/><ellipse cx="522" cy="1280.3" rx="3.8" ry="8.5" fill="none" stroke="#111" stroke-width="1.9" transform="rotate(31.8 522 1280.3)"/><ellipse cx="525" cy="1282.1" rx="3.8" ry="8.5" fill="none" stroke="#111" stroke-width="1.9" transform="rotate(31.8 525 1282.1)"/><ellipse cx="528" cy="1284" rx="3.8" ry="8.5" fill="none" stroke="#111" stroke-width="1.9" transform="rotate(31.8 528 1284)"/><polygon points="504,1264 530,1278 531,1290 505,1277" fill="none" stroke="none" stroke-width="0" stroke-linejoin="round"/><ellipse cx="535.3" cy="1286.7" rx="3.6" ry="4.2" fill="none" stroke="#1c1c1c" stroke-width="1.1"/><ellipse cx="544" cy="1293" rx="3.2" ry="6.5" fill="#fff" stroke="#1c1c1c" stroke-width="1.1" transform="rotate(26.6 544 1293)"/><polygon points="541.1,1298.8 549.1,1302.8 554.9,1291.2 546.9,1287.2" fill="#fff" stroke="none" stroke-width="0" stroke-linejoin="round"/><line x1="541.1" y1="1298.8" x2="549.1" y2="1302.8" stroke="#1c1c1c" stroke-width="1.1"/><line x1="546.9" y1="1287.2" x2="554.9" y2="1291.2" stroke="#1c1c1c" stroke-width="1.1"/><ellipse cx="552" cy="1297" rx="3.2" ry="6.5" fill="#fff" stroke="#1c1c1c" stroke-width="1.1" transform="rotate(26.6 552 1297)"/><ellipse cx="552" cy="1297" rx="2.5" ry="3.5" fill="#666" stroke="#1c1c1c" stroke-width="0.7" transform="rotate(-25 552 1297)"/><ellipse cx="560" cy="1302" rx="1.9" ry="3.2" fill="#fff" stroke="#1c1c1c" stroke-width="1.1" transform="rotate(27.8 560 1302)"/><polygon points="558.5,1304.8 577.5,1314.8 580.5,1309.2 561.5,1299.2" fill="#fff" stroke="none" stroke-width="0" stroke-linejoin="round"/><line x1="558.5" y1="1304.8" x2="577.5" y2="1314.8" stroke="#1c1c1c" stroke-width="1.1"/><line x1="561.5" y1="1299.2" x2="580.5" y2="1309.2" stroke="#1c1c1c" stroke-width="1.1"/><ellipse cx="579" cy="1312" rx="1.9" ry="3.2" fill="#fff" stroke="#1c1c1c" stroke-width="1.1" transform="rotate(27.8 579 1312)"/><ellipse cx="561" cy="1302.5" rx="2.3" ry="3.8" fill="#fff" stroke="#1c1c1c" stroke-width="1.1" transform="rotate(26.6 561 1302.5)"/><polygon points="556.3,1304.4 559.3,1305.9 562.7,1299.1 559.7,1297.6" fill="#fff" stroke="none" stroke-width="0" stroke-linejoin="round"/><line x1="556.3" y1="1304.4" x2="559.3" y2="1305.9" stroke="#1c1c1c" stroke-width="1.1"/><line x1="559.7" y1="1297.6" x2="562.7" y2="1299.1" stroke="#1c1c1c" stroke-width="1.1"/><ellipse cx="558" cy="1301" rx="2.3" ry="3.8" fill="#fff" stroke="#1c1c1c" stroke-width="1.1" transform="rotate(26.6 558 1301)"/><ellipse cx="586.7" cy="1317.5" rx="7.5" ry="10.5" fill="none" stroke="#111" stroke-width="1.8" transform="rotate(-20 586.7 1317.5)"/><ellipse cx="586.7" cy="1317.5" rx="4.5" ry="7" fill="none" stroke="#1c1c1c" stroke-width="0.9" transform="rotate(-20 586.7 1317.5)"/><ellipse cx="598.1" cy="1323.5" rx="6.5" ry="9" fill="none" stroke="#111" stroke-width="1.3" transform="rotate(25 598.1 1323.5)"/><ellipse cx="607" cy="1330" rx="6.5" ry="10.5" fill="#fff" stroke="#1c1c1c" stroke-width="1.1" transform="rotate(20 607 1330)"/><polygon points="603.4,1339.9 625.4,1347.9 632.6,1328.1 610.6,1320.1" fill="#fff" stroke="none" stroke-width="0" stroke-linejoin="round"/><line x1="603.4" y1="1339.9" x2="625.4" y2="1347.9" stroke="#1c1c1c" stroke-width="1.1"/><line x1="610.6" y1="1320.1" x2="632.6" y2="1328.1" stroke="#1c1c1c" stroke-width="1.1"/><ellipse cx="629" cy="1338" rx="6.5" ry="10.5" fill="#fff" stroke="#1c1c1c" stroke-width="1.1" transform="rotate(20 629 1338)"/><polygon points="610.6,1320.1 618.6,1323 611.4,1342.8 603.4,1339.9" fill="#b0b0b0" stroke="none" stroke-width="0" stroke-linejoin="round"/><line x1="607" y1="1321" x2="601" y2="1339" stroke="#222" stroke-width="0.9"/><line x1="609.6" y1="1321.9" x2="603.6" y2="1339.9" stroke="#222" stroke-width="0.9"/><line x1="612.2" y1="1322.8" x2="606.2" y2="1340.8" stroke="#222" stroke-width="0.9"/><line x1="614.8" y1="1323.7" x2="608.8" y2="1341.7" stroke="#222" stroke-width="0.9"/><line x1="617.4" y1="1324.6" x2="611.4" y2="1342.6" stroke="#222" stroke-width="0.9"/><ellipse cx="629" cy="1338" rx="6.5" ry="10.5" fill="#fff" stroke="#1c1c1c" stroke-width="1.1" transform="rotate(20 629 1338)"/><line x1="535" y1="1288" x2="600" y2="1318" stroke="#777" stroke-width="0.8" stroke-dasharray="2,2"/><line x1="871" y1="988" x2="871" y2="1013.4" stroke="#454545" stroke-width="1.0"/><line x1="718.4" y1="1028.9" x2="718.4" y2="1058.4" stroke="#454545" stroke-width="1.0"/><line x1="761.4" y1="1014.8" x2="761.4" y2="1041.5" stroke="#454545" stroke-width="1.0"/><line x1="848.3" y1="1088" x2="848.3" y2="1116" stroke="#454545" stroke-width="1.0"/><polyline points="788.7,1083.7 804.7,1111.8 804.7,1132.9" fill="none" stroke="#454545" stroke-width="1" stroke-linejoin="round"/><line x1="718.4" y1="1114.6" x2="718.4" y2="1140" stroke="#454545" stroke-width="1.0"/><line x1="755.8" y1="1103.4" x2="755.8" y2="1151.2" stroke="#454545" stroke-width="1.0"/><line x1="686.6" y1="1121.7" x2="686.6" y2="1177.9" stroke="#454545" stroke-width="1.0"/><line x1="648.1" y1="1120.2" x2="648.1" y2="1192" stroke="#454545" stroke-width="1.0"/><line x1="600" y1="1130" x2="630" y2="1120" stroke="#444" stroke-width="0.9"/><polygon points="799.9,1013.5 807.8,1005.2 828.4,1004.1 853,1025 863,1052 861,1075 849.4,1086.5 816.8,1079.3 799.5,1064.8 794.4,1032.3" fill="#fff" stroke="#1c1c1c" stroke-width="1.2" stroke-linejoin="round"/><polyline points="828.4,1004.1 824,1008 848,1029 856,1053 853,1078 849.4,1086.5" fill="none" stroke="#1c1c1c" stroke-width="0.9" stroke-linejoin="round"/><polyline points="807.8,1005.2 812,1008 824,1008" fill="none" stroke="#1c1c1c" stroke-width="0.8" stroke-linejoin="round"/><ellipse cx="826" cy="1045" rx="12.6" ry="22.6" fill="#fff" stroke="#1c1c1c" stroke-width="1.1" transform="rotate(-8 826 1045)"/><ellipse cx="828" cy="1045" rx="10" ry="19" fill="none" stroke="#1c1c1c" stroke-width="0.7" transform="rotate(-8 828 1045)"/><ellipse cx="799" cy="1040" rx="1.5" ry="1.9" fill="#333" stroke="#1c1c1c" stroke-width="0.6"/><ellipse cx="816" cy="1018" rx="1.5" ry="1.9" fill="#333" stroke="#1c1c1c" stroke-width="0.6"/><ellipse cx="843" cy="1033" rx="1.5" ry="1.9" fill="#333" stroke="#1c1c1c" stroke-width="0.6"/><ellipse cx="836" cy="1072" rx="1.5" ry="1.9" fill="#333" stroke="#1c1c1c" stroke-width="0.6"/><ellipse cx="812" cy="1072" rx="1.5" ry="1.9" fill="#333" stroke="#1c1c1c" stroke-width="0.6"/><ellipse cx="807" cy="1015" rx="1.6" ry="2.6" fill="#ccc" stroke="#1c1c1c" stroke-width="1.1" transform="rotate(26.6 807 1015)"/><polygon points="801.8,1015.3 805.8,1017.3 808.2,1012.7 804.2,1010.7" fill="#ccc" stroke="none" stroke-width="0" stroke-linejoin="round"/><line x1="801.8" y1="1015.3" x2="805.8" y2="1017.3" stroke="#1c1c1c" stroke-width="1.1"/><line x1="804.2" y1="1010.7" x2="808.2" y2="1012.7" stroke="#1c1c1c" stroke-width="1.1"/><ellipse cx="803" cy="1013" rx="1.6" ry="2.6" fill="#ccc" stroke="#1c1c1c" stroke-width="1.1" transform="rotate(26.6 803 1013)"/><ellipse cx="811.6" cy="1069.4" rx="1.7" ry="2.8" fill="#ccc" stroke="#1c1c1c" stroke-width="1.1" transform="rotate(26.6 811.6 1069.4)"/><polygon points="806.3,1069.9 810.3,1071.9 812.9,1066.9 808.9,1064.9" fill="#ccc" stroke="none" stroke-width="0" stroke-linejoin="round"/><line x1="806.3" y1="1069.9" x2="810.3" y2="1071.9" stroke="#1c1c1c" stroke-width="1.1"/><line x1="808.9" y1="1064.9" x2="812.9" y2="1066.9" stroke="#1c1c1c" stroke-width="1.1"/><ellipse cx="807.6" cy="1067.4" rx="1.7" ry="2.8" fill="#ccc" stroke="#1c1c1c" stroke-width="1.1" transform="rotate(26.6 807.6 1067.4)"/><ellipse cx="842.3" cy="1083.9" rx="1.7" ry="2.8" fill="#ccc" stroke="#1c1c1c" stroke-width="1.1" transform="rotate(26.6 842.3 1083.9)"/><polygon points="837,1084.4 841,1086.4 843.6,1081.4 839.6,1079.4" fill="#ccc" stroke="none" stroke-width="0" stroke-linejoin="round"/><line x1="837" y1="1084.4" x2="841" y2="1086.4" stroke="#1c1c1c" stroke-width="1.1"/><line x1="839.6" y1="1079.4" x2="843.6" y2="1081.4" stroke="#1c1c1c" stroke-width="1.1"/><ellipse cx="838.3" cy="1081.9" rx="1.7" ry="2.8" fill="#ccc" stroke="#1c1c1c" stroke-width="1.1" transform="rotate(26.6 838.3 1081.9)"/><ellipse cx="872" cy="1019.5" rx="1.8" ry="3" fill="#ddd" stroke="#1c1c1c" stroke-width="1.1" transform="rotate(-20.1 872 1019.5)"/><polygon points="858,1027.8 873,1022.3 871,1016.7 856,1022.2" fill="#ddd" stroke="none" stroke-width="0" stroke-linejoin="round"/><line x1="858" y1="1027.8" x2="873" y2="1022.3" stroke="#1c1c1c" stroke-width="1.1"/><line x1="856" y1="1022.2" x2="871" y2="1016.7" stroke="#1c1c1c" stroke-width="1.1"/><ellipse cx="857" cy="1025" rx="1.8" ry="3" fill="#ddd" stroke="#1c1c1c" stroke-width="1.1" transform="rotate(-20.1 857 1025)"/><line x1="858" y1="1021" x2="858" y2="1029" stroke="#1c1c1c" stroke-width="0.7"/><line x1="861.2" y1="1019.8" x2="861.2" y2="1027.8" stroke="#1c1c1c" stroke-width="0.7"/><line x1="864.4" y1="1018.6" x2="864.4" y2="1026.6" stroke="#1c1c1c" stroke-width="0.7"/><line x1="867.6" y1="1017.4" x2="867.6" y2="1025.4" stroke="#1c1c1c" stroke-width="0.7"/><ellipse cx="872" cy="1019.5" rx="2.2" ry="5" fill="#fff" stroke="#1c1c1c" stroke-width="1.1" transform="rotate(-21 872 1019.5)"/><polygon points="873.8,1024.2 880.3,1021.7 876.7,1012.3 870.2,1014.8" fill="#fff" stroke="none" stroke-width="0" stroke-linejoin="round"/><line x1="873.8" y1="1024.2" x2="880.3" y2="1021.7" stroke="#1c1c1c" stroke-width="1.1"/><line x1="870.2" y1="1014.8" x2="876.7" y2="1012.3" stroke="#1c1c1c" stroke-width="1.1"/><ellipse cx="878.5" cy="1017" rx="2.2" ry="5" fill="#fff" stroke="#1c1c1c" stroke-width="1.1" transform="rotate(-21 878.5 1017)"/><line x1="880" y1="1017" x2="895" y2="1012" stroke="#777" stroke-width="0.8" stroke-dasharray="2,2"/><ellipse cx="783" cy="1064.4" rx="11.7" ry="20.5" fill="#fff" stroke="#1c1c1c" stroke-width="1.1" transform="rotate(-8 783 1064.4)"/><ellipse cx="769" cy="1067" rx="9.6" ry="16" fill="#fff" stroke="#1c1c1c" stroke-width="1.1" transform="rotate(-9.5 769 1067)"/><polygon points="771.6,1082.8 783.6,1080.8 778.4,1049.2 766.4,1051.2" fill="#fff" stroke="none" stroke-width="0" stroke-linejoin="round"/><line x1="771.6" y1="1082.8" x2="783.6" y2="1080.8" stroke="#1c1c1c" stroke-width="1.1"/><line x1="766.4" y1="1051.2" x2="778.4" y2="1049.2" stroke="#1c1c1c" stroke-width="1.1"/><ellipse cx="781" cy="1065" rx="9.6" ry="16" fill="#fff" stroke="#1c1c1c" stroke-width="1.1" transform="rotate(-9.5 781 1065)"/><ellipse cx="766" cy="1067.5" rx="16.8" ry="28" fill="#fff" stroke="#1c1c1c" stroke-width="1.1" transform="rotate(-17.4 766 1067.5)"/><polygon points="766.4,1096.7 774.4,1094.2 757.6,1040.8 749.6,1043.3" fill="#fff" stroke="none" stroke-width="0" stroke-linejoin="round"/><line x1="766.4" y1="1096.7" x2="774.4" y2="1094.2" stroke="#1c1c1c" stroke-width="1.1"/><line x1="749.6" y1="1043.3" x2="757.6" y2="1040.8" stroke="#1c1c1c" stroke-width="1.1"/><ellipse cx="758" cy="1070" rx="16.8" ry="28" fill="#fff" stroke="#1c1c1c" stroke-width="1.1" transform="rotate(-17.4 758 1070)"/><ellipse cx="758" cy="1070" rx="13" ry="22" fill="none" stroke="#1c1c1c" stroke-width="0.8" transform="rotate(-8 758 1070)"/><ellipse cx="758" cy="1070" rx="10" ry="17" fill="#eee" stroke="#222" stroke-width="1.6" transform="rotate(-8 758 1070)"/><ellipse cx="758" cy="1070" rx="6.5" ry="11" fill="#fff" stroke="#1c1c1c" stroke-width="0.9" transform="rotate(-8 758 1070)"/><ellipse cx="758" cy="1070" rx="3.5" ry="6" fill="#ccc" stroke="#1c1c1c" stroke-width="0.8" transform="rotate(-8 758 1070)"/><ellipse cx="766" cy="1094" rx="1.5" ry="1.5" fill="#333" stroke="none" stroke-width="0"/><ellipse cx="753" cy="1102" rx="1.3" ry="2.2" fill="#eee" stroke="#1c1c1c" stroke-width="1.1" transform="rotate(-14 753 1102)"/><polygon points="753.5,1104.1 757.5,1103.1 756.5,1098.9 752.5,1099.9" fill="#eee" stroke="none" stroke-width="0" stroke-linejoin="round"/><line x1="753.5" y1="1104.1" x2="757.5" y2="1103.1" stroke="#1c1c1c" stroke-width="1.1"/><line x1="752.5" y1="1099.9" x2="756.5" y2="1098.9" stroke="#1c1c1c" stroke-width="1.1"/><ellipse cx="757" cy="1101" rx="1.3" ry="2.2" fill="#eee" stroke="#1c1c1c" stroke-width="1.1" transform="rotate(-14 757 1101)"/><ellipse cx="725.3" cy="1082.6" rx="14.3" ry="23.5" fill="none" stroke="#1c1c1c" stroke-width="1.2" transform="rotate(-6 725.3 1082.6)"/><ellipse cx="705.7" cy="1084" rx="14.4" ry="27.4" fill="#fff" stroke="#1c1c1c" stroke-width="1.2" transform="rotate(-6 705.7 1084)"/><path d="M704,1068 C698,1072 696,1082 698,1090 L703,1089 C701,1082 703,1074 707,1071 Z" fill="#fff" stroke="#1c1c1c" stroke-width="0.9" stroke-linejoin="round" stroke-linecap="round"/><path d="M706,1100 C711,1101 716,1098 718,1093 L715,1091 C713,1096 710,1097 706,1097 Z" fill="#fff" stroke="#1c1c1c" stroke-width="0.9" stroke-linejoin="round" stroke-linecap="round"/><ellipse cx="682.2" cy="1098.3" rx="14.4" ry="24" fill="none" stroke="#1c1c1c" stroke-width="1.3" transform="rotate(-6 682.2 1098.3)"/><ellipse cx="669" cy="1104.8" rx="4.4" ry="8.8" fill="#fff" stroke="#1c1c1c" stroke-width="1.1" transform="rotate(-13.7 669 1104.8)"/><polygon points="644.1,1119.9 671.1,1113.3 666.9,1096.3 639.9,1102.9" fill="#fff" stroke="none" stroke-width="0" stroke-linejoin="round"/><line x1="644.1" y1="1119.9" x2="671.1" y2="1113.3" stroke="#1c1c1c" stroke-width="1.1"/><line x1="639.9" y1="1102.9" x2="666.9" y2="1096.3" stroke="#1c1c1c" stroke-width="1.1"/><ellipse cx="642" cy="1111.4" rx="4.4" ry="8.8" fill="#fff" stroke="#1c1c1c" stroke-width="1.1" transform="rotate(-13.7 642 1111.4)"/><ellipse cx="642" cy="1111.4" rx="3" ry="6" fill="#888" stroke="#1c1c1c" stroke-width="0.9" transform="rotate(-12 642 1111.4)"/><ellipse cx="649" cy="1109.5" rx="4.4" ry="8.8" fill="none" stroke="#1c1c1c" stroke-width="0.7" transform="rotate(-12 649 1109.5)"/><line x1="672" y1="1103" x2="688" y2="1098" stroke="#777" stroke-width="0.8" stroke-dasharray="2,2"/><line x1="695" y1="1094" x2="750" y2="1075" stroke="#777" stroke-width="0.8" stroke-dasharray="2,2"/><line x1="790" y1="1062" x2="860" y2="1036" stroke="#777" stroke-width="0.8" stroke-dasharray="2,2"/><line x1="880" y1="1025" x2="935" y2="1005" stroke="#777" stroke-width="0.8" stroke-dasharray="2,2"/></g><g font-family="Liberation Sans" font-weight="bold" font-size="23.0" letter-spacing="1.25" fill="#141414"><text transform="translate(58.4,35) scale(0.875,1)">133</text><text transform="translate(239.2,41) scale(0.875,1)">130</text><text transform="translate(199.6,81) scale(0.875,1)">143</text><text transform="translate(138.3,106) scale(0.875,1)">139</text><text transform="translate(106.4,128) scale(0.875,1)">138</text><text transform="translate(228.7,139) scale(0.875,1)">135</text><text transform="translate(275.6,138) scale(0.875,1)">144</text><text transform="translate(28.6,202) scale(0.875,1)">131</text><text transform="translate(116.0,209) scale(0.875,1)">137</text><text transform="translate(342.2,171) scale(0.875,1)">132</text><text transform="translate(291.4,238) scale(0.875,1)">138</text><text transform="translate(377.2,253) scale(0.875,1)">131</text><text transform="translate(231.1,277) scale(0.875,1)">136</text><text transform="translate(264.8,298) scale(0.875,1)">137</text><text transform="translate(100.7,297) scale(0.875,1)">141</text><text transform="translate(142.0,319) scale(0.875,1)">140</text><text transform="translate(196.8,351) scale(0.875,1)">145</text><text transform="translate(21.6,355) scale(0.875,1)">57</text><text transform="translate(54.7,376) scale(0.875,1)">59</text><text transform="translate(917.7,145) scale(0.875,1)">18</text><text transform="translate(917.0,189) scale(0.875,1)">13</text><text transform="translate(918.2,243) scale(0.875,1)">12</text><text transform="translate(735.8,171) scale(0.875,1)">32</text><text transform="translate(690.6,185) scale(0.875,1)">19</text><text transform="translate(627.3,207) scale(0.875,1)">26</text><text transform="translate(619.6,276) scale(0.875,1)">36</text><text transform="translate(788.3,384) scale(0.875,1)">17</text><text transform="translate(730.6,403) scale(0.875,1)">32</text><text transform="translate(662.0,420) scale(0.875,1)">26</text><text transform="translate(616.6,433) scale(0.875,1)">31</text><text transform="translate(502.9,452) scale(0.875,1)">14</text><text transform="translate(291.1,407) scale(0.875,1)">37</text><text transform="translate(325.0,392) scale(0.875,1)">38</text><text transform="translate(361.4,382) scale(0.875,1)">37</text><text transform="translate(753.1,587) scale(0.875,1)">1</text><text transform="translate(297.4,532) scale(0.875,1)">55</text><text transform="translate(333.0,551) scale(0.875,1)">56</text><text transform="translate(391.5,583) scale(0.875,1)">55</text><text transform="translate(452.0,630) scale(0.875,1)">41</text><text transform="translate(524.9,672) scale(0.875,1)">42</text><text transform="translate(567.6,701) scale(0.875,1)">46</text><text transform="translate(230.0,858) scale(0.875,1)">63</text><text transform="translate(685.1,772) scale(0.875,1)">51</text><text transform="translate(711.7,790) scale(0.875,1)">54</text><text transform="translate(737.3,805) scale(0.875,1)">50</text><text transform="translate(768.3,825) scale(0.875,1)">43</text><text transform="translate(808.3,849) scale(0.875,1)">53</text><text transform="translate(599.1,834) scale(0.875,1)">47</text><text transform="translate(633.9,854) scale(0.875,1)">48</text><text transform="translate(660.0,871) scale(0.875,1)">49</text><text transform="translate(695.2,892) scale(0.875,1)">45</text><text transform="translate(734.4,915) scale(0.875,1)">59</text><text transform="translate(779.0,945) scale(0.875,1)">52</text><text transform="translate(814.0,964) scale(0.875,1)">57</text><text transform="translate(509.4,829) scale(0.875,1)">81</text><text transform="translate(410.6,884) scale(0.875,1)">92</text><text transform="translate(509.4,900) scale(0.875,1)">89</text><text transform="translate(409.5,915) scale(0.875,1)">86</text><text transform="translate(565.7,915) scale(0.875,1)">61</text><text transform="translate(509.4,938) scale(0.875,1)">87</text><text transform="translate(509.4,963) scale(0.875,1)">84</text><text transform="translate(509.4,1000) scale(0.875,1)">85</text><text transform="translate(509.4,1030) scale(0.875,1)">82</text><text transform="translate(509.4,1058) scale(0.875,1)">83</text><text transform="translate(423.3,1079) scale(0.875,1)">70</text><text transform="translate(511.2,1091) scale(0.875,1)">67</text><text transform="translate(554.1,1185) scale(0.875,1)">69</text><text transform="translate(853.7,983) scale(0.875,1)">155</text><text transform="translate(701.1,1022) scale(0.875,1)">153</text><text transform="translate(746.1,1010) scale(0.875,1)">152</text><text transform="translate(836.9,1135) scale(0.875,1)">150</text><text transform="translate(791.9,1154) scale(0.875,1)">156</text><text transform="translate(703.3,1161) scale(0.875,1)">157</text><text transform="translate(745.5,1170) scale(0.875,1)">158</text><text transform="translate(668.2,1200) scale(0.875,1)">153</text><text transform="translate(627.4,1214) scale(0.875,1)">151</text><text transform="translate(255.6,1165) scale(0.875,1)">71</text><text transform="translate(255.6,1199) scale(0.875,1)">68</text><text transform="translate(256.0,1225) scale(0.875,1)">72</text><text transform="translate(306.9,1311) scale(0.875,1)">75</text><text transform="translate(392.3,1343) scale(0.875,1)">65</text><text transform="translate(551.8,1234) scale(0.875,1)">73</text><text transform="translate(528.7,1251) scale(0.875,1)">66</text><text transform="translate(538.0,1274) scale(0.875,1)">124</text><text transform="translate(568.9,1289) scale(0.875,1)">122</text><text transform="translate(608.3,1300) scale(0.875,1)">121</text><text transform="translate(519.2,1331) scale(0.875,1)">125</text><text transform="translate(689.9,1340) scale(0.875,1)">62</text><text transform="translate(487.1,1353) scale(0.875,1)">126</text><text transform="translate(551.8,1373) scale(0.875,1)">123</text><text transform="translate(605.8,1386) scale(0.875,1)">120</text><text transform="translate(290.4,675) scale(0.875,1)">113</text><text transform="translate(292.0,710) scale(0.875,1)">115</text><text transform="translate(290.4,752) scale(0.875,1)">105</text><text transform="translate(291.4,786) scale(0.875,1)">114</text><text transform="translate(293.4,807) scale(0.875,1)">112</text><text transform="translate(294.4,831) scale(0.875,1)">111</text><text transform="translate(293.4,851) scale(0.875,1)">112</text><text transform="translate(291.4,879) scale(0.875,1)">107</text><text transform="translate(292.4,914) scale(0.875,1)">108</text><text transform="translate(291.0,988) scale(0.875,1)">106</text><text transform="translate(290.5,1058) scale(0.875,1)">109</text><text transform="translate(290.5,1085) scale(0.875,1)">110</text></g><path d="M289,587 L289,494 Q289,489 294,488.5 A783,783 0 0 1 704,489 Q708,490 708,495 L708,587" fill="none" stroke="#9c9c9c" stroke-width="4.2" stroke-linejoin="round"/><path d="M289,587 L289,494 Q289,489 294,488.5 A783,783 0 0 1 704,489 Q708,490 708,495 L708,587" fill="none" stroke="#cfcfcf" stroke-width="2.0" stroke-linejoin="round"/><path d="M300,587 L300,508 Q300,503 305,502.5 A694,694 0 0 1 692,505 Q697,506 697,511 L697,587" fill="none" stroke="#b2b2b2" stroke-width="1.4"/><path d="M300,587 L684,587 C725,590 746,630 746,677 C746,715 727,750 690,767 L307,767 C270,750 251,715 251,677 C251,632 268,595 300,587 Z" fill="none" stroke="#9c9c9c" stroke-width="4.2" stroke-linejoin="round"/><path d="M300,587 L684,587 C725,590 746,630 746,677 C746,715 727,750 690,767 L307,767 C270,750 251,715 251,677 C251,632 268,595 300,587 Z" fill="none" stroke="#cfcfcf" stroke-width="2.0" stroke-linejoin="round"/><path d="M307,767 C315,805 395,925 498.5,957.6 C602,925 682,805 690,767" fill="none" stroke="#9c9c9c" stroke-width="3.8" stroke-linejoin="round"/><path d="M307,767 C315,805 395,925 498.5,957.6 C602,925 682,805 690,767" fill="none" stroke="#cfcfcf" stroke-width="1.5999999999999996" stroke-linejoin="round"/><path d="M309,772 C340,800 410,925 498.5,945 C587,925 657,800 688,772" fill="none" stroke="#b2b2b2" stroke-width="1.6"/><path d="M294.3,640.7 C300,625 325,610.5 352.3,610.5 C390,610.5 416.3,640 416.3,678 C416.3,712 388,736.3 350.8,736.3 C325,736.3 302,722 292,699.4 L328.2,689.6 C333,702 342,708.4 350.8,708.4 C365,708.4 373,698 374.5,686.6 L338.7,686.6 L338.7,661.7 L374,661.7 C372,647 362,637.7 350.8,637.7 C341,637.7 333,644 329.7,653.5 Z" fill="none" stroke="#949494" stroke-width="2.7" stroke-linejoin="round"/><path d="M436,612 L555,612 L555,736 L517,736 L517,642 L474,642 L474,736 L436,736 Z" fill="none" stroke="#949494" stroke-width="2.7" stroke-linejoin="round"/><path d="M629,612 L665,612 L665,622 C700,626 721,648 721,672 C721,698 700,718 665,723 L665,736 L629,736 L629,723 C594,718 573,698 573,672 C573,648 594,626 629,622 Z" fill="none" stroke="#949494" stroke-width="2.7" stroke-linejoin="round"/><path d="M629,646 C615,650 610,662 610,672 C610,683 615,694 629,698 Z" fill="none" stroke="#949494" stroke-width="2.7" stroke-linejoin="round"/><path d="M665,646 C679,650 684,662 684,672 C684,683 679,694 665,698 Z" fill="none" stroke="#949494" stroke-width="2.7" stroke-linejoin="round"/><g font-family="Liberation Sans" font-size="35.5" fill="none" stroke="#b0b0b0" stroke-width="1.6"><text transform="translate(353,556) scale(0.6,1)" textLength="172">ТЕХНИКА</text><text transform="translate(540.5,556) scale(0.6,1)" textLength="199">ЗАПЧАСТИ</text></g><polygon points="505.1,542.3 504.4,546.1 502.1,545.1 500.5,547.5 502.2,549.2 499.1,551.4 498.1,549.1 495.3,549.7 495.3,552.1 491.5,551.4 492.5,549.1 490.1,547.5 488.4,549.2 486.2,546.1 488.5,545.1 487.9,542.3 485.5,542.3 486.2,538.5 488.5,539.5 490.1,537.1 488.4,535.4 491.5,533.2 492.5,535.5 495.3,534.9 495.3,532.5 499.1,533.2 498.1,535.5 500.5,537.1 502.2,535.4 504.4,538.5 502.1,539.5 502.7,542.3" fill="none" stroke="#b0b0b0" stroke-width="1.6"/><circle cx="495.3" cy="542.3" r="3.6" fill="none" stroke="#b0b0b0" stroke-width="1.6"/><g transform="rotate(0 498 812.0)"><path d="M481.0,804.9 L498.0,795.0 L515.0,804.9 L515.0,822.2 L498.0,831.5 L481.0,822.2 Z M481.0,822.2 L473.0,826.2 L473.0,943.0 L523.0,943.0 L523.0,826.2 L515.0,822.2 M498.0,831.5 L498.0,943.0 M495.0,834.5 L495.0,943.0 M474.0,835.4 L495.0,844.2 M499.0,844.2 L522.0,835.4 M474.0,855.1 L495.0,864.0 M499.0,864.0 L522.0,855.1 M474.0,874.8 L495.0,883.7 M499.0,883.7 L522.0,874.8 M474.0,894.6 L495.0,903.4 M499.0,903.4 L522.0,894.6 M474.0,914.3 L495.0,923.2 M499.0,923.2 L522.0,914.3" fill="none" stroke="#a6a6a6" stroke-width="1.6" stroke-linejoin="round"/></g><g transform="rotate(-15.6 425 849.0)"><path d="M412.0,843.5 L425.0,836.0 L438.0,843.5 L438.0,856.8 L425.0,864.0 L412.0,856.8 Z M412.0,856.8 L411.0,860.8 L411.0,924.0 L439.0,924.0 L439.0,860.8 L438.0,856.8 M425.0,864.0 L425.0,924.0 M422.0,867.0 L422.0,924.0 M412.0,866.4 L422.0,871.6 M426.0,871.6 L438.0,866.4 M412.0,878.1 L422.0,883.4 M426.0,883.4 L438.0,878.1 M412.0,889.8 L422.0,895.1 M426.0,895.1 L438.0,889.8 M412.0,901.6 L422.0,906.8 M426.0,906.8 L438.0,901.6 M412.0,913.3 L422.0,918.6 M426.0,918.6 L438.0,913.3" fill="none" stroke="#a6a6a6" stroke-width="1.6" stroke-linejoin="round"/></g><g transform="rotate(15.6 572 849.0)"><path d="M559.0,843.5 L572.0,836.0 L585.0,843.5 L585.0,856.8 L572.0,864.0 L559.0,856.8 Z M559.0,856.8 L558.0,860.8 L558.0,924.0 L586.0,924.0 L586.0,860.8 L585.0,856.8 M572.0,864.0 L572.0,924.0 M569.0,867.0 L569.0,924.0 M559.0,866.4 L569.0,871.6 M573.0,871.6 L585.0,866.4 M559.0,878.1 L569.0,883.4 M573.0,883.4 L585.0,878.1 M559.0,889.8 L569.0,895.1 M573.0,895.1 L585.0,889.8 M559.0,901.6 L569.0,906.8 M573.0,906.8 L585.0,901.6 M559.0,913.3 L569.0,918.6 M573.0,918.6 L585.0,913.3" fill="none" stroke="#a6a6a6" stroke-width="1.6" stroke-linejoin="round"/></g></svg></body></html>
